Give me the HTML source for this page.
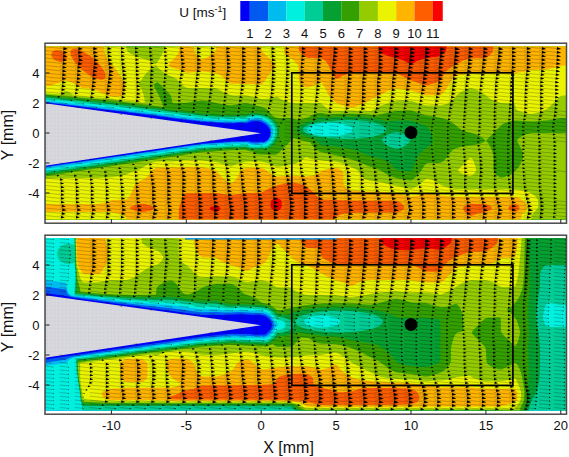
<!DOCTYPE html>
<html><head><meta charset="utf-8"><style>
html,body{margin:0;padding:0;background:#fff;}
svg{display:block;}
.t{font-family:"Liberation Sans",sans-serif;font-size:13px;fill:#111;}
.u{font-family:"Liberation Sans",sans-serif;font-size:13.5px;fill:#111;}
.ax{font-family:"Liberation Sans",sans-serif;font-size:16px;fill:#111;}
</style></head><body>
<svg width="569" height="457" viewBox="0 0 569 457">
<rect width="569" height="457" fill="#fff"/>
<clipPath id="c1"><rect x="45.5" y="46.5" width="521.0" height="173.0"/></clipPath>
<g clip-path="url(#c1)">
<rect x="45.5" y="46.5" width="521.0" height="173.0" fill="#0000f5"/>
<path fill="#005af0" fill-rule="evenodd" d="M567.8 221.0L44.2 221.0L44.0 220.8L44.0 208.2L44.0 178.2L44.2 166.9L48.8 166.3L49.2 166.0L52.2 165.8L52.8 165.4L55.8 165.3L56.2 164.9L59.2 164.8L59.8 164.4L62.8 164.3L63.2 163.9L66.2 163.8L66.8 163.4L69.2 163.3L69.8 162.9L72.8 162.8L73.2 162.4L76.2 162.3L76.8 161.9L79.8 161.8L80.2 161.4L83.2 161.3L83.8 160.9L86.2 160.8L86.8 160.4L93.2 159.8L93.8 159.4L96.8 159.3L97.2 158.9L100.2 158.8L100.8 158.4L103.8 158.3L104.2 157.9L106.8 157.8L107.2 157.4L113.8 156.8L114.2 156.4L117.2 156.3L117.8 155.9L120.8 155.8L121.2 155.4L123.8 155.3L124.2 154.9L130.8 154.3L131.2 153.9L134.2 153.8L134.8 153.4L137.8 153.3L138.2 152.9L141.2 152.8L141.8 152.4L144.2 152.3L144.8 151.9L147.8 151.8L148.2 151.4L151.2 151.3L151.8 150.9L158.2 150.3L158.8 149.9L161.2 149.8L161.8 149.4L164.8 149.3L165.2 148.9L167.8 148.8L168.2 148.4L174.8 147.8L175.2 147.4L177.8 147.3L178.2 146.9L181.2 146.8L181.8 146.4L187.8 145.8L188.2 145.4L191.2 145.3L191.8 144.9L197.8 144.3L198.2 143.9L201.2 143.8L201.8 143.4L208.2 143.3L208.8 142.9L215.8 142.8L216.2 142.4L223.2 142.3L223.8 141.8L230.8 141.8L231.2 141.3L249.8 141.3L250.8 141.4L251.2 141.8L260.8 141.8L261.2 142.3L261.8 141.8L262.2 141.8L262.8 142.3L263.8 142.3L266.2 140.8L266.8 140.8L268.3 139.2L268.3 138.8L269.3 137.8L269.3 137.2L269.8 136.8L269.8 135.8L270.3 135.2L270.3 132.8L270.3 131.2L269.8 130.8L269.8 129.8L269.3 129.2L268.8 127.8L265.3 124.2L261.8 122.2L258.2 121.2L252.8 121.2L249.2 122.2L247.8 123.1L245.8 123.2L244.8 123.2L244.2 122.7L238.8 122.7L235.8 122.7L235.2 123.2L224.2 123.2L223.8 122.7L213.8 122.7L213.2 122.2L206.8 122.2L206.2 121.7L200.2 121.7L199.8 121.2L196.2 121.2L195.8 120.7L191.8 120.7L191.2 120.2L187.2 120.2L186.8 119.7L183.2 119.7L182.8 119.2L178.8 119.2L178.2 118.7L175.2 118.7L174.8 118.2L171.8 118.2L171.2 117.7L168.2 117.7L167.8 117.2L164.2 117.2L163.8 116.7L160.8 116.7L160.2 116.2L157.2 116.2L156.8 115.7L153.2 115.7L152.8 115.2L148.8 115.2L148.2 114.7L144.8 114.7L144.2 114.2L140.8 114.2L140.2 113.7L136.2 113.6L135.8 113.2L132.2 113.1L131.8 112.7L128.2 112.7L127.8 112.2L123.8 112.1L123.2 111.7L119.8 111.6L119.2 111.2L115.8 111.1L115.2 110.7L111.2 110.6L110.8 110.2L107.2 110.1L106.8 109.7L103.2 109.6L102.8 109.2L98.8 109.1L98.2 108.7L94.8 108.6L94.2 108.2L90.8 108.1L90.2 107.7L86.8 107.6L86.2 107.2L82.2 107.1L81.8 106.7L78.2 106.6L77.8 106.2L74.2 106.1L73.8 105.7L69.8 105.6L69.2 105.2L65.8 105.1L65.2 104.7L61.8 104.6L61.2 104.2L57.8 104.1L57.2 103.7L53.2 103.6L52.8 103.2L49.2 103.1L48.8 102.7L45.2 102.6L44.2 102.2L44.0 92.2L44.0 45.2L44.2 45.0L567.8 45.0L568.0 45.2L568.0 220.8L567.8 221.0Z"/>
<path fill="#00bcee" fill-rule="evenodd" d="M567.8 221.0L44.2 221.0L44.0 220.8L44.0 208.2L44.2 167.5L201.2 144.2L231.2 142.2L247.8 142.1L251.2 143.2L254.8 143.6L258.2 143.4L262.2 142.6L262.8 143.1L264.8 142.5L266.3 141.8L267.8 140.6L269.2 138.9L270.8 135.6L271.1 131.2L270.8 129.2L270.1 127.2L268.8 125.2L267.5 123.8L265.6 122.2L263.2 121.0L260.8 120.1L258.2 119.6L254.8 119.4L251.8 119.7L248.8 120.6L245.2 122.2L238.8 122.0L231.2 122.5L216.2 121.9L201.2 120.8L178.8 118.2L156.2 115.1L44.2 101.7L44.0 91.8L44.0 45.2L44.2 45.0L567.8 45.0L568.0 45.2L568.0 220.8L567.8 221.0Z"/>
<path fill="#00f0e0" fill-rule="evenodd" d="M567.8 220.9L44.2 221.0L44.0 220.8L44.0 208.2L44.2 169.4L201.2 145.9L231.2 143.8L245.8 143.6L247.2 143.6L250.2 144.6L253.8 145.2L258.2 145.1L262.2 144.2L262.6 144.8L263.2 144.8L265.2 144.3L267.2 143.3L269.2 141.8L270.5 140.2L272.3 136.8L273.2 131.2L272.8 128.8L272.1 126.8L270.9 124.8L269.1 122.8L267.2 121.2L264.6 119.8L261.8 118.7L258.8 118.0L255.2 117.8L251.8 118.1L248.8 118.8L244.8 120.4L238.8 120.2L231.2 120.6L216.2 120.1L201.2 119.0L111.8 107.9L44.2 100.3L44.0 45.2L44.2 45.0L567.8 45.0L568.0 45.2L567.8 220.9Z"/>
<path fill="#00cc96" fill-rule="evenodd" d="M567.8 220.9L44.2 220.9L44.1 208.2L44.2 171.2L201.2 147.5L231.2 145.4L246.2 145.1L249.8 146.2L253.2 146.7L258.2 146.7L262.8 145.8L263.2 146.7L265.8 146.0L267.8 145.1L269.8 143.7L271.8 141.7L273.0 139.8L273.9 137.8L275.0 133.8L275.2 131.2L274.9 128.8L274.0 126.2L272.5 123.8L270.7 121.8L268.2 119.8L265.8 118.4L262.8 117.2L259.2 116.4L255.8 116.2L251.8 116.4L248.2 117.2L244.8 118.5L238.8 118.3L231.2 118.8L216.2 118.2L201.2 117.2L111.8 106.1L44.2 98.8L44.1 45.2L44.2 45.1L567.8 45.1L567.9 45.2L567.8 220.9ZM332.9 136.2L341.2 135.4L347.9 133.8L350.2 132.7L352.2 131.2L352.8 130.2L352.8 128.8L351.8 127.3L350.2 126.2L345.2 124.4L338.8 123.2L330.2 122.7L321.8 123.1L314.8 124.4L309.8 126.2L308.2 127.3L307.2 128.8L307.2 130.2L308.3 131.8L310.8 133.2L313.8 134.3L317.8 135.3L322.8 136.0L332.9 136.2Z"/>
<path fill="#06a032" fill-rule="evenodd" d="M567.8 220.8L44.2 220.9L44.2 173.1L201.2 149.1L231.2 147.0L245.8 146.7L249.2 147.8L252.8 148.3L257.8 148.4L262.8 147.5L263.8 148.5L266.8 147.6L269.2 146.3L271.3 144.8L273.2 142.8L274.8 140.2L276.4 136.2L277.1 133.8L277.3 131.2L276.9 128.2L276.0 125.8L274.6 123.2L272.2 120.6L269.8 118.7L266.8 117.0L263.2 115.6L259.8 114.9L256.2 114.5L252.2 114.7L248.2 115.5L244.8 116.7L238.8 116.5L231.2 117.0L216.2 116.4L201.2 115.3L111.8 104.3L44.2 97.4L44.1 45.2L567.8 45.1L567.8 220.8ZM356.7 138.8L368.8 137.5L373.8 136.5L378.2 135.2L382.0 133.8L384.4 132.2L385.7 130.8L386.0 129.8L385.9 128.8L385.3 127.8L384.4 126.8L382.0 125.2L378.2 123.8L373.2 122.4L367.8 121.4L361.2 120.6L347.2 120.0L337.8 120.4L326.8 121.4L322.2 121.4L314.2 123.0L309.6 124.2L306.2 125.8L304.1 127.2L303.3 128.2L303.0 129.2L303.1 130.2L303.7 131.2L306.2 133.2L310.8 135.1L316.2 136.4L324.2 137.5L339.2 138.7L347.8 139.0L356.7 138.8ZM397.7 148.8L400.8 147.8L403.8 146.6L406.2 145.1L408.6 143.2L409.7 141.8L410.1 140.2L409.8 139.2L408.6 137.8L406.0 135.8L402.8 134.0L398.8 132.5L395.8 132.1L392.5 132.8L388.2 134.5L384.8 136.6L382.6 138.8L382.0 140.2L382.3 141.2L383.6 142.8L385.8 144.3L389.2 146.4L393.2 148.2L395.8 148.9L397.7 148.8Z"/>
<path fill="#34a000" fill-rule="evenodd" d="M567.8 220.8L44.2 220.8L44.2 174.9L201.2 150.7L231.2 148.6L245.2 148.3L249.8 149.5L254.2 150.1L258.8 149.9L263.2 149.1L263.8 150.3L264.2 150.2L267.2 149.4L270.2 147.8L272.8 145.9L274.7 143.8L276.3 141.2L278.4 136.8L279.1 134.2L279.4 131.2L279.0 128.2L278.0 125.2L276.2 122.2L274.0 119.8L271.2 117.5L267.8 115.6L264.2 114.2L260.2 113.3L253.8 113.0L248.8 113.6L244.8 114.9L238.8 114.6L231.2 115.1L216.2 114.6L201.2 113.5L111.8 102.4L44.2 95.9L44.1 45.2L567.8 45.1L567.8 220.8ZM409.9 171.8L411.2 171.2L412.6 169.8L416.0 160.2L417.4 157.2L419.1 154.8L423.3 150.2L430.5 144.8L432.1 142.8L432.9 140.8L432.9 138.8L432.1 135.8L430.6 132.2L428.8 128.9L427.4 127.2L426.1 126.2L421.9 124.2L413.2 121.3L409.8 120.6L396.8 120.5L386.8 121.3L380.8 119.8L374.8 118.7L360.2 117.2L343.8 116.9L327.8 117.9L321.8 117.2L319.2 117.8L315.8 119.7L309.2 121.3L303.8 123.3L299.6 125.8L298.5 126.8L297.6 128.2L297.3 129.8L297.8 131.2L299.0 132.8L300.3 133.8L302.9 135.2L306.5 136.8L315.8 139.3L318.3 142.8L319.8 144.0L321.2 144.9L323.2 145.4L334.2 146.5L342.8 147.6L349.2 148.8L354.8 150.2L359.8 152.0L366.9 155.2L381.2 159.0L385.9 160.8L388.7 162.2L390.8 163.7L395.2 168.5L397.2 169.8L405.0 171.2L409.9 171.8Z"/>
<path fill="#94cc00" fill-rule="evenodd" d="M566.8 220.8L44.2 220.8L44.2 176.7L201.2 152.3L231.2 150.2L244.8 149.9L250.8 151.5L253.7 151.8L254.0 152.8L254.4 153.2L255.6 153.8L257.8 154.2L262.8 154.6L275.2 154.7L276.8 154.2L278.9 152.8L293.8 137.9L302.2 140.4L310.3 142.2L312.1 145.2L314.2 147.8L317.2 150.1L320.2 151.7L339.2 156.0L351.8 159.5L358.8 162.0L366.8 165.6L379.8 170.1L387.2 174.4L393.2 177.0L397.2 178.2L410.2 180.6L411.8 180.2L413.2 179.3L417.7 175.2L420.8 171.5L424.2 165.7L426.2 163.7L428.2 163.1L438.2 163.0L440.8 162.6L442.8 161.5L444.8 159.7L447.2 157.0L450.9 151.8L452.8 150.0L454.8 148.7L456.8 147.9L460.2 147.1L474.8 145.0L479.2 144.0L483.4 142.2L485.2 140.8L485.2 140.2L482.5 137.8L478.8 135.7L474.8 134.1L466.2 131.6L461.8 129.7L458.2 127.5L452.6 122.8L447.2 120.0L443.2 118.6L438.8 117.5L425.2 115.2L413.2 111.3L410.2 110.6L396.2 110.7L376.8 115.3L364.8 114.2L353.2 113.7L341.2 113.8L329.2 114.4L322.2 113.0L319.8 112.9L316.8 113.3L313.6 114.2L311.5 115.2L309.2 116.9L297.8 119.9L290.8 118.1L278.2 118.0L275.8 117.6L272.7 115.8L271.2 114.2L267.9 110.2L265.0 108.2L260.8 106.7L247.2 103.3L243.8 103.3L232.2 105.2L229.8 105.3L221.8 104.2L209.2 101.6L201.2 100.6L195.4 101.2L185.8 102.9L173.2 102.9L172.8 102.7L172.1 101.8L171.2 96.8L169.9 94.2L159.8 83.9L158.2 82.7L157.2 82.3L156.2 82.4L155.2 83.3L153.8 85.8L153.8 86.2L157.0 91.8L159.7 97.2L161.7 102.2L163.1 106.8L111.2 100.5L44.2 94.5L44.2 45.2L567.8 45.2L567.8 118.0L561.2 118.1L548.8 120.2L533.8 121.6L529.2 121.6L515.8 120.6L512.2 121.0L507.8 121.9L504.1 123.2L501.2 125.2L486.7 139.8L486.3 140.8L488.8 144.0L490.2 146.6L491.8 150.1L492.9 153.8L493.4 157.2L493.4 168.8L494.0 171.2L495.5 173.8L497.8 176.0L500.2 177.4L502.2 177.5L505.2 176.8L508.8 175.3L511.7 173.8L513.9 172.2L517.8 168.2L519.5 165.8L521.0 162.8L522.6 158.2L523.0 155.2L522.6 152.8L521.2 148.8L517.1 141.2L517.3 139.8L519.3 137.8L521.8 136.2L524.8 134.9L528.2 133.7L531.2 133.1L567.8 133.0L567.8 214.2L567.2 214.2L567.2 220.8L566.8 220.8Z"/>
<path fill="#eaf400" fill-rule="evenodd" d="M533.2 113.8L530.8 114.0L528.8 113.8L523.2 112.6L519.2 111.2L517.3 110.2L516.3 109.2L515.8 108.2L514.8 104.2L513.8 103.2L501.2 102.9L496.2 101.6L492.8 100.2L489.8 98.6L483.2 93.3L480.2 91.4L475.2 89.3L471.2 88.3L469.2 88.5L466.8 89.2L460.8 91.9L457.8 94.0L453.5 99.2L450.8 101.6L446.8 103.8L441.8 105.2L438.2 105.5L426.8 105.4L424.2 104.9L411.2 100.7L408.2 100.5L397.8 100.5L394.2 101.1L382.0 105.2L379.2 106.6L374.1 109.8L370.2 111.3L351.8 110.5L331.8 110.9L327.9 109.2L322.2 104.3L319.8 103.1L291.2 102.9L288.2 102.2L284.2 100.8L281.2 99.2L277.2 96.8L276.2 96.5L269.2 98.4L264.2 99.0L261.2 99.1L246.2 95.4L233.2 95.4L230.8 95.1L226.2 93.4L217.2 88.8L215.2 88.1L189.2 88.0L186.8 87.7L185.2 87.0L183.8 85.9L177.2 79.6L174.3 77.8L167.8 74.7L163.8 72.4L160.3 69.8L155.8 65.5L155.2 65.4L154.8 65.8L149.8 69.7L147.2 72.0L144.5 75.2L140.8 80.7L138.7 82.8L138.5 83.2L141.5 89.2L143.5 94.8L144.7 100.2L144.8 102.2L144.2 102.4L142.2 102.4L111.2 98.7L74.0 95.8L69.8 92.5L68.2 91.6L66.8 91.2L64.8 91.5L60.7 94.2L59.8 94.4L44.2 93.1L44.2 45.2L126.4 45.2L126.5 48.8L126.9 50.2L128.0 51.8L130.2 53.6L135.8 56.3L144.8 59.0L148.8 60.5L152.2 62.2L155.2 64.5L156.2 63.9L157.2 62.5L163.8 51.2L164.5 49.2L164.7 45.2L567.8 45.2L567.8 95.5L562.8 95.6L560.8 96.1L558.8 97.6L548.8 107.5L546.2 109.5L541.2 111.8L533.2 113.8ZM530.8 220.8L44.2 220.8L44.2 178.7L67.2 178.0L97.2 177.9L110.8 177.2L118.1 176.2L125.8 174.7L131.8 172.0L140.2 169.2L145.8 165.4L149.0 163.8L153.2 162.3L156.8 161.6L171.8 161.4L187.2 160.3L202.8 160.4L216.8 161.9L230.8 166.4L232.2 166.1L239.2 163.2L245.2 161.7L248.2 161.5L260.2 161.5L263.2 161.9L267.2 162.9L271.0 164.2L275.8 166.4L278.2 166.8L287.8 165.6L295.2 163.7L300.2 161.4L304.8 157.8L306.2 157.2L307.2 157.4L310.8 159.0L314.2 159.8L324.2 160.8L335.2 161.5L339.8 162.6L349.2 166.0L356.0 169.2L358.5 171.2L361.1 175.2L362.8 177.2L364.8 178.9L366.8 179.9L371.2 180.9L380.8 182.1L387.2 183.8L397.2 185.8L409.2 188.8L410.8 188.9L412.2 188.6L416.2 186.8L420.2 184.1L425.2 179.4L427.2 178.6L429.8 179.1L433.8 180.6L440.8 184.8L444.2 186.2L449.1 187.8L455.2 189.1L459.2 189.2L514.8 189.3L519.8 189.8L525.8 191.1L530.8 193.0L534.2 195.2L537.0 198.2L537.8 199.8L538.2 201.2L538.3 205.8L537.8 207.8L536.9 209.2L533.2 213.2L531.8 215.2L531.2 217.2L531.1 220.8L530.8 220.8ZM471.8 175.3L470.2 175.7L468.8 175.5L463.2 173.9L458.9 171.8L458.2 171.1L458.0 170.2L458.9 168.8L464.2 164.1L469.2 158.5L470.8 157.7L471.9 158.2L473.2 160.3L475.1 165.2L476.1 169.2L475.9 170.8L475.2 172.2L473.8 173.9L471.8 175.3Z"/>
<path fill="#ffb400" fill-rule="evenodd" d="M118.2 96.8L113.2 96.7L107.2 95.3L100.8 92.7L93.8 89.1L82.2 87.9L73.8 83.4L66.8 80.4L64.8 80.5L60.2 81.9L51.2 85.8L49.2 86.1L44.2 86.1L44.2 45.2L103.9 45.2L104.2 50.8L106.9 58.8L113.3 65.8L118.6 72.8L122.4 79.2L124.5 84.8L125.1 87.2L125.2 89.8L124.9 91.8L124.3 93.2L123.2 94.6L121.8 95.7L118.2 96.8ZM260.8 84.3L258.8 84.5L247.8 84.0L231.8 83.7L229.8 83.0L227.7 81.8L221.3 75.8L218.9 74.2L216.8 73.3L214.2 72.8L201.8 71.3L189.2 72.7L186.8 72.7L179.8 70.1L171.2 67.6L169.5 66.2L169.0 65.2L169.0 64.2L170.6 61.8L175.5 57.2L178.0 53.8L179.3 50.2L179.5 45.2L193.8 45.2L194.0 50.2L195.4 53.8L197.1 56.2L198.8 57.9L200.2 58.9L201.8 59.3L203.8 58.8L207.8 56.9L211.2 54.7L214.3 52.2L215.5 50.8L216.0 49.8L216.3 45.2L261.2 45.2L261.4 49.2L262.2 51.2L273.9 63.2L274.9 64.8L275.0 65.8L274.4 67.2L269.8 73.2L265.0 80.8L262.8 83.2L260.8 84.3ZM354.8 107.3L347.0 107.2L343.0 105.2L337.2 103.2L335.2 101.9L331.4 98.2L328.7 95.2L322.8 84.1L321.8 82.7L320.8 82.1L319.2 82.3L315.8 84.5L312.8 85.9L307.8 87.5L305.2 87.3L302.2 85.4L300.0 82.8L298.9 80.2L298.7 77.8L298.6 67.8L298.2 65.8L296.8 63.8L292.8 59.7L290.8 58.2L287.2 56.4L285.5 54.8L284.6 53.2L284.0 51.2L283.7 45.2L567.8 45.2L567.8 65.5L560.8 65.7L552.2 68.3L546.2 69.6L531.2 69.9L522.2 71.9L516.2 72.9L472.2 73.0L457.8 75.3L455.2 76.3L452.5 78.8L451.0 80.8L447.8 86.7L445.1 90.8L442.4 93.8L440.2 95.0L437.2 95.3L426.2 95.3L410.8 90.6L397.2 88.4L394.8 88.4L391.2 89.4L387.8 90.9L380.3 95.2L372.2 99.1L366.2 102.6L359.8 105.0L354.8 107.3ZM520.8 220.8L126.4 220.8L126.3 218.2L126.0 217.2L124.4 215.8L119.0 213.8L111.2 211.9L44.2 211.7L44.2 204.3L96.2 204.2L104.8 202.8L112.8 200.1L123.8 199.7L126.2 199.3L128.1 198.2L129.8 196.1L131.7 192.2L133.7 186.8L135.4 184.2L139.2 181.4L146.0 177.8L148.2 175.6L151.9 170.2L154.8 168.4L157.2 167.6L198.2 167.1L201.8 167.3L205.2 167.9L211.8 169.5L215.8 171.1L217.3 172.2L221.7 176.8L225.2 179.8L229.0 182.2L231.2 182.9L233.2 182.1L235.8 179.6L237.3 177.2L239.6 172.2L240.6 170.8L243.5 168.8L246.8 167.7L258.8 167.5L261.8 167.9L265.7 169.8L271.6 174.8L273.8 175.8L275.8 176.4L277.8 176.4L291.2 175.4L306.2 176.5L310.8 176.0L315.2 174.8L317.8 173.6L322.0 170.8L324.8 169.7L330.2 168.4L335.2 167.8L337.2 168.1L339.2 168.8L341.9 170.2L342.9 171.2L343.5 173.2L343.6 182.8L344.1 185.2L345.2 186.8L347.2 188.4L349.8 189.8L352.2 190.5L365.8 191.6L381.2 191.7L394.2 192.9L397.2 193.3L408.8 196.2L411.2 196.5L417.3 195.8L425.2 193.6L426.8 193.4L440.2 195.4L455.2 196.7L512.8 196.8L516.8 197.2L520.8 198.9L523.8 201.0L525.6 203.2L526.8 206.2L526.8 208.2L526.2 209.8L522.1 214.8L521.2 216.2L520.8 220.8Z"/>
<path fill="#ff5e00" fill-rule="evenodd" d="M428.8 84.8L426.8 85.2L425.2 85.1L419.3 83.2L409.8 79.7L397.2 73.7L394.2 73.0L351.8 73.1L349.2 73.5L345.8 74.6L342.0 76.2L337.8 78.8L336.2 78.8L335.2 78.0L334.2 76.6L327.8 64.0L326.2 61.9L324.8 60.4L322.3 58.8L320.2 58.1L308.2 57.9L305.8 57.2L301.9 53.8L299.4 50.8L298.7 48.8L298.7 45.2L493.4 45.2L493.3 49.2L492.6 51.8L490.4 54.8L487.8 56.9L486.2 57.6L484.2 57.9L470.8 58.2L467.2 59.0L462.8 60.8L450.2 68.0L447.2 70.2L444.5 73.2L440.9 79.2L439.2 81.0L435.2 82.9L428.8 84.8ZM102.2 79.8L100.2 79.7L97.8 79.2L91.8 76.7L85.8 72.8L79.8 67.8L74.8 62.2L71.7 57.2L70.8 55.2L70.4 53.2L70.6 51.2L71.2 50.1L73.2 48.8L74.2 48.8L76.8 48.9L77.0 49.2L78.2 49.3L78.9 49.8L79.8 49.9L84.8 52.4L88.2 54.6L92.2 57.5L95.9 60.8L98.8 63.8L101.7 67.2L103.7 70.2L105.1 73.2L105.6 75.8L105.3 77.8L104.2 79.1L102.2 79.8ZM61.8 61.8L59.2 61.7L56.8 61.0L54.4 59.8L52.8 58.2L51.8 56.8L51.3 54.8L51.5 53.2L52.5 51.8L54.2 50.5L56.2 50.0L57.8 50.0L60.2 50.5L61.8 51.1L63.8 52.4L65.2 53.8L66.6 56.2L66.7 57.8L66.5 58.8L66.0 59.8L64.8 60.8L63.2 61.5L61.8 61.8ZM331.2 220.8L178.8 220.8L178.9 209.8L179.3 207.2L182.4 197.8L183.6 195.8L184.8 194.5L185.8 193.8L187.2 193.2L215.2 193.0L226.2 194.6L231.2 195.0L236.2 194.6L246.8 193.1L259.8 192.9L262.2 192.2L269.7 188.2L275.2 186.0L284.8 183.4L291.2 182.3L294.2 182.7L299.2 183.8L302.8 184.8L306.1 186.2L308.8 188.2L318.8 198.0L320.2 199.1L321.8 199.6L351.2 200.5L395.2 200.7L398.2 201.5L401.2 203.0L403.5 205.2L404.4 207.2L404.1 208.8L402.2 210.5L399.5 211.8L396.2 212.5L352.2 212.7L344.8 213.6L340.2 214.7L337.6 215.8L335.3 217.2L331.2 220.8ZM471.2 215.9L469.8 215.5L466.8 213.5L464.8 211.7L463.3 209.8L463.0 208.2L463.4 207.2L464.3 206.2L465.9 205.2L468.5 204.2L471.2 203.8L484.2 204.2L486.8 204.5L488.9 205.2L490.8 206.2L491.7 207.2L491.9 208.2L491.4 209.2L488.9 210.8L486.2 211.6L477.0 213.8L471.2 215.9ZM145.2 211.8L141.2 212.1L137.8 211.4L131.2 209.2L130.0 208.2L130.0 207.8L131.2 206.8L133.7 205.8L138.9 204.2L141.8 203.8L145.6 204.2L150.2 205.3L153.2 206.6L154.3 207.8L154.0 208.8L152.2 209.9L149.2 211.0L145.2 211.8ZM515.8 211.8L513.2 211.7L509.8 210.1L508.8 209.2L508.3 208.2L508.8 206.8L510.8 205.2L513.8 204.2L515.8 204.1L517.8 205.1L519.3 206.8L519.5 208.2L519.1 209.2L518.2 210.3L517.0 211.2L515.8 211.8Z"/>
<path fill="#fa0000" fill-rule="evenodd" d="M412.2 64.0L411.2 64.2L410.2 64.1L405.1 61.2L401.7 59.8L397.8 58.5L388.2 56.0L382.2 53.6L380.2 52.1L379.0 50.2L378.6 48.8L378.6 45.2L446.6 45.2L446.5 48.8L445.9 50.8L444.0 53.2L441.2 55.5L438.2 56.5L426.8 58.0L423.3 58.8L417.8 60.8L412.2 64.0ZM277.8 210.9L275.8 211.2L273.4 210.2L271.3 208.2L270.6 206.2L270.6 202.8L271.3 200.8L273.5 198.8L275.8 197.7L277.8 197.9L279.8 199.0L281.0 200.2L281.7 202.2L281.8 205.8L281.3 207.8L279.8 209.7L277.8 210.9ZM216.8 211.9L214.8 211.8L211.4 210.2L209.7 208.8L209.8 207.8L211.2 206.7L214.8 205.6L216.8 205.6L218.8 206.3L220.4 207.8L220.3 209.2L218.8 210.9L216.8 211.9Z"/>
<path fill="#d8d7de" d="M36 102.0L261.0 133.2L36 167.2Z"/>
<path stroke="#78b478" stroke-opacity="0.5" stroke-width="0.7" fill="none" d="M47.0 106.8h0.7M50.8 106.8h0.7M54.5 106.8h0.7M58.2 106.8h0.7M62.0 106.8h0.7M65.8 106.8h0.7M69.5 106.8h0.7M47.0 110.5h0.7M50.8 110.5h0.7M54.5 110.5h0.7M58.2 110.5h0.7M62.0 110.5h0.7M65.8 110.5h0.7M69.5 110.5h0.7M73.2 110.5h0.7M77.0 110.5h0.7M80.8 110.5h0.7M84.5 110.5h0.7M88.2 110.5h0.7M92.0 110.5h0.7M95.8 110.5h0.7M47.0 114.2h0.7M50.8 114.2h0.7M54.5 114.2h0.7M58.2 114.2h0.7M62.0 114.2h0.7M65.8 114.2h0.7M69.5 114.2h0.7M73.2 114.2h0.7M77.0 114.2h0.7M80.8 114.2h0.7M84.5 114.2h0.7M88.2 114.2h0.7M92.0 114.2h0.7M95.8 114.2h0.7M99.5 114.2h0.7M103.2 114.2h0.7M107.0 114.2h0.7M110.8 114.2h0.7M114.5 114.2h0.7M118.2 114.2h0.7M122.0 114.2h0.7M47.0 118.0h0.7M50.8 118.0h0.7M54.5 118.0h0.7M58.2 118.0h0.7M62.0 118.0h0.7M65.8 118.0h0.7M69.5 118.0h0.7M73.2 118.0h0.7M77.0 118.0h0.7M80.8 118.0h0.7M84.5 118.0h0.7M88.2 118.0h0.7M92.0 118.0h0.7M95.8 118.0h0.7M99.5 118.0h0.7M103.2 118.0h0.7M107.0 118.0h0.7M110.8 118.0h0.7M114.5 118.0h0.7M118.2 118.0h0.7M122.0 118.0h0.7M125.8 118.0h0.7M129.5 118.0h0.7M133.2 118.0h0.7M137.0 118.0h0.7M140.8 118.0h0.7M144.5 118.0h0.7M148.2 118.0h0.7M152.0 118.0h0.7M47.0 121.8h0.7M50.8 121.8h0.7M54.5 121.8h0.7M58.2 121.8h0.7M62.0 121.8h0.7M65.8 121.8h0.7M69.5 121.8h0.7M73.2 121.8h0.7M77.0 121.8h0.7M80.8 121.8h0.7M84.5 121.8h0.7M88.2 121.8h0.7M92.0 121.8h0.7M95.8 121.8h0.7M99.5 121.8h0.7M103.2 121.8h0.7M107.0 121.8h0.7M110.8 121.8h0.7M114.5 121.8h0.7M118.2 121.8h0.7M122.0 121.8h0.7M125.8 121.8h0.7M129.5 121.8h0.7M133.2 121.8h0.7M137.0 121.8h0.7M140.8 121.8h0.7M144.5 121.8h0.7M148.2 121.8h0.7M152.0 121.8h0.7M155.8 121.8h0.7M159.5 121.8h0.7M163.2 121.8h0.7M167.0 121.8h0.7M170.8 121.8h0.7M174.5 121.8h0.7M178.2 121.8h0.7M47.0 125.5h0.7M50.8 125.5h0.7M54.5 125.5h0.7M58.2 125.5h0.7M62.0 125.5h0.7M65.8 125.5h0.7M69.5 125.5h0.7M73.2 125.5h0.7M77.0 125.5h0.7M80.8 125.5h0.7M84.5 125.5h0.7M88.2 125.5h0.7M92.0 125.5h0.7M95.8 125.5h0.7M99.5 125.5h0.7M103.2 125.5h0.7M107.0 125.5h0.7M110.8 125.5h0.7M114.5 125.5h0.7M118.2 125.5h0.7M122.0 125.5h0.7M125.8 125.5h0.7M129.5 125.5h0.7M133.2 125.5h0.7M137.0 125.5h0.7M140.8 125.5h0.7M144.5 125.5h0.7M148.2 125.5h0.7M152.0 125.5h0.7M155.8 125.5h0.7M159.5 125.5h0.7M163.2 125.5h0.7M167.0 125.5h0.7M170.8 125.5h0.7M174.5 125.5h0.7M178.2 125.5h0.7M182.0 125.5h0.7M185.8 125.5h0.7M189.5 125.5h0.7M193.2 125.5h0.7M197.0 125.5h0.7M200.8 125.5h0.7M204.5 125.5h0.7M47.0 129.2h0.7M50.8 129.2h0.7M54.5 129.2h0.7M58.2 129.2h0.7M62.0 129.2h0.7M65.8 129.2h0.7M69.5 129.2h0.7M73.2 129.2h0.7M77.0 129.2h0.7M80.8 129.2h0.7M84.5 129.2h0.7M88.2 129.2h0.7M92.0 129.2h0.7M95.8 129.2h0.7M99.5 129.2h0.7M103.2 129.2h0.7M107.0 129.2h0.7M110.8 129.2h0.7M114.5 129.2h0.7M118.2 129.2h0.7M122.0 129.2h0.7M125.8 129.2h0.7M129.5 129.2h0.7M133.2 129.2h0.7M137.0 129.2h0.7M140.8 129.2h0.7M144.5 129.2h0.7M148.2 129.2h0.7M152.0 129.2h0.7M155.8 129.2h0.7M159.5 129.2h0.7M163.2 129.2h0.7M167.0 129.2h0.7M170.8 129.2h0.7M174.5 129.2h0.7M178.2 129.2h0.7M182.0 129.2h0.7M185.8 129.2h0.7M189.5 129.2h0.7M193.2 129.2h0.7M197.0 129.2h0.7M200.8 129.2h0.7M204.5 129.2h0.7M208.2 129.2h0.7M212.0 129.2h0.7M215.8 129.2h0.7M219.5 129.2h0.7M223.2 129.2h0.7M227.0 129.2h0.7M230.8 129.2h0.7M47.0 133.0h0.7M50.8 133.0h0.7M54.5 133.0h0.7M58.2 133.0h0.7M62.0 133.0h0.7M65.8 133.0h0.7M69.5 133.0h0.7M73.2 133.0h0.7M77.0 133.0h0.7M80.8 133.0h0.7M84.5 133.0h0.7M88.2 133.0h0.7M92.0 133.0h0.7M95.8 133.0h0.7M99.5 133.0h0.7M103.2 133.0h0.7M107.0 133.0h0.7M110.8 133.0h0.7M114.5 133.0h0.7M118.2 133.0h0.7M122.0 133.0h0.7M125.8 133.0h0.7M129.5 133.0h0.7M133.2 133.0h0.7M137.0 133.0h0.7M140.8 133.0h0.7M144.5 133.0h0.7M148.2 133.0h0.7M152.0 133.0h0.7M155.8 133.0h0.7M159.5 133.0h0.7M163.2 133.0h0.7M167.0 133.0h0.7M170.8 133.0h0.7M174.5 133.0h0.7M178.2 133.0h0.7M182.0 133.0h0.7M185.8 133.0h0.7M189.5 133.0h0.7M193.2 133.0h0.7M197.0 133.0h0.7M200.8 133.0h0.7M204.5 133.0h0.7M208.2 133.0h0.7M212.0 133.0h0.7M215.8 133.0h0.7M219.5 133.0h0.7M223.2 133.0h0.7M227.0 133.0h0.7M230.8 133.0h0.7M234.5 133.0h0.7M238.2 133.0h0.7M242.0 133.0h0.7M245.8 133.0h0.7M249.5 133.0h0.7M253.2 133.0h0.7M257.0 133.0h0.7M47.0 136.8h0.7M50.8 136.8h0.7M54.5 136.8h0.7M58.2 136.8h0.7M62.0 136.8h0.7M65.8 136.8h0.7M69.5 136.8h0.7M73.2 136.8h0.7M77.0 136.8h0.7M80.8 136.8h0.7M84.5 136.8h0.7M88.2 136.8h0.7M92.0 136.8h0.7M95.8 136.8h0.7M99.5 136.8h0.7M103.2 136.8h0.7M107.0 136.8h0.7M110.8 136.8h0.7M114.5 136.8h0.7M118.2 136.8h0.7M122.0 136.8h0.7M125.8 136.8h0.7M129.5 136.8h0.7M133.2 136.8h0.7M137.0 136.8h0.7M140.8 136.8h0.7M144.5 136.8h0.7M148.2 136.8h0.7M152.0 136.8h0.7M155.8 136.8h0.7M159.5 136.8h0.7M163.2 136.8h0.7M167.0 136.8h0.7M170.8 136.8h0.7M174.5 136.8h0.7M178.2 136.8h0.7M182.0 136.8h0.7M185.8 136.8h0.7M189.5 136.8h0.7M193.2 136.8h0.7M197.0 136.8h0.7M200.8 136.8h0.7M204.5 136.8h0.7M208.2 136.8h0.7M212.0 136.8h0.7M215.8 136.8h0.7M219.5 136.8h0.7M223.2 136.8h0.7M227.0 136.8h0.7M230.8 136.8h0.7M234.5 136.8h0.7M47.0 140.5h0.7M50.8 140.5h0.7M54.5 140.5h0.7M58.2 140.5h0.7M62.0 140.5h0.7M65.8 140.5h0.7M69.5 140.5h0.7M73.2 140.5h0.7M77.0 140.5h0.7M80.8 140.5h0.7M84.5 140.5h0.7M88.2 140.5h0.7M92.0 140.5h0.7M95.8 140.5h0.7M99.5 140.5h0.7M103.2 140.5h0.7M107.0 140.5h0.7M110.8 140.5h0.7M114.5 140.5h0.7M118.2 140.5h0.7M122.0 140.5h0.7M125.8 140.5h0.7M129.5 140.5h0.7M133.2 140.5h0.7M137.0 140.5h0.7M140.8 140.5h0.7M144.5 140.5h0.7M148.2 140.5h0.7M152.0 140.5h0.7M155.8 140.5h0.7M159.5 140.5h0.7M163.2 140.5h0.7M167.0 140.5h0.7M170.8 140.5h0.7M174.5 140.5h0.7M178.2 140.5h0.7M182.0 140.5h0.7M185.8 140.5h0.7M189.5 140.5h0.7M193.2 140.5h0.7M197.0 140.5h0.7M200.8 140.5h0.7M204.5 140.5h0.7M208.2 140.5h0.7M47.0 144.2h0.7M50.8 144.2h0.7M54.5 144.2h0.7M58.2 144.2h0.7M62.0 144.2h0.7M65.8 144.2h0.7M69.5 144.2h0.7M73.2 144.2h0.7M77.0 144.2h0.7M80.8 144.2h0.7M84.5 144.2h0.7M88.2 144.2h0.7M92.0 144.2h0.7M95.8 144.2h0.7M99.5 144.2h0.7M103.2 144.2h0.7M107.0 144.2h0.7M110.8 144.2h0.7M114.5 144.2h0.7M118.2 144.2h0.7M122.0 144.2h0.7M125.8 144.2h0.7M129.5 144.2h0.7M133.2 144.2h0.7M137.0 144.2h0.7M140.8 144.2h0.7M144.5 144.2h0.7M148.2 144.2h0.7M152.0 144.2h0.7M155.8 144.2h0.7M159.5 144.2h0.7M163.2 144.2h0.7M167.0 144.2h0.7M170.8 144.2h0.7M174.5 144.2h0.7M178.2 144.2h0.7M182.0 144.2h0.7M185.8 144.2h0.7M47.0 148.0h0.7M50.8 148.0h0.7M54.5 148.0h0.7M58.2 148.0h0.7M62.0 148.0h0.7M65.8 148.0h0.7M69.5 148.0h0.7M73.2 148.0h0.7M77.0 148.0h0.7M80.8 148.0h0.7M84.5 148.0h0.7M88.2 148.0h0.7M92.0 148.0h0.7M95.8 148.0h0.7M99.5 148.0h0.7M103.2 148.0h0.7M107.0 148.0h0.7M110.8 148.0h0.7M114.5 148.0h0.7M118.2 148.0h0.7M122.0 148.0h0.7M125.8 148.0h0.7M129.5 148.0h0.7M133.2 148.0h0.7M137.0 148.0h0.7M140.8 148.0h0.7M144.5 148.0h0.7M148.2 148.0h0.7M152.0 148.0h0.7M155.8 148.0h0.7M159.5 148.0h0.7M47.0 151.8h0.7M50.8 151.8h0.7M54.5 151.8h0.7M58.2 151.8h0.7M62.0 151.8h0.7M65.8 151.8h0.7M69.5 151.8h0.7M73.2 151.8h0.7M77.0 151.8h0.7M80.8 151.8h0.7M84.5 151.8h0.7M88.2 151.8h0.7M92.0 151.8h0.7M95.8 151.8h0.7M99.5 151.8h0.7M103.2 151.8h0.7M107.0 151.8h0.7M110.8 151.8h0.7M114.5 151.8h0.7M118.2 151.8h0.7M122.0 151.8h0.7M125.8 151.8h0.7M129.5 151.8h0.7M133.2 151.8h0.7M137.0 151.8h0.7M47.0 155.5h0.7M50.8 155.5h0.7M54.5 155.5h0.7M58.2 155.5h0.7M62.0 155.5h0.7M65.8 155.5h0.7M69.5 155.5h0.7M73.2 155.5h0.7M77.0 155.5h0.7M80.8 155.5h0.7M84.5 155.5h0.7M88.2 155.5h0.7M92.0 155.5h0.7M95.8 155.5h0.7M99.5 155.5h0.7M103.2 155.5h0.7M107.0 155.5h0.7M110.8 155.5h0.7M47.0 159.2h0.7M50.8 159.2h0.7M54.5 159.2h0.7M58.2 159.2h0.7M62.0 159.2h0.7M65.8 159.2h0.7M69.5 159.2h0.7M73.2 159.2h0.7M77.0 159.2h0.7M80.8 159.2h0.7M84.5 159.2h0.7M88.2 159.2h0.7M47.0 163.0h0.7M50.8 163.0h0.7M54.5 163.0h0.7M58.2 163.0h0.7M62.0 163.0h0.7"/>
<path stroke="#000" stroke-opacity="0.22" stroke-width="1" fill="none" d="M44.7 219.2L60.9 220.9M59.7 219.2L75.9 220.9M74.7 219.2L90.9 220.9M89.7 219.2L105.9 220.9M104.7 219.2L120.8 220.9M119.6 219.2L136.5 220.9M134.6 219.2L152.3 221.0M149.6 219.2L167.4 221.0M164.6 219.2L182.4 221.0M179.6 219.2L198.8 221.2M194.5 219.2L213.9 221.2M209.5 219.2L229.3 221.2M224.5 219.2L243.9 221.2M239.5 219.2L258.9 221.2M254.5 219.2L273.8 221.2M269.4 219.2L289.1 221.2M284.4 219.2L303.8 221.2M299.4 219.2L318.8 221.2M314.4 219.2L333.1 221.1M329.4 219.2L347.9 221.1M344.3 219.2L362.2 221.0M359.3 219.2L377.1 221.0M374.3 219.2L392.1 221.0M389.3 219.2L407.1 221.0M404.3 219.2L422.0 221.0M419.2 219.2L437.0 221.0M434.2 219.2L452.0 221.0M449.2 219.2L467.0 221.0M464.2 219.2L482.7 221.1M479.2 219.2L497.0 221.0M494.1 219.2L511.9 221.0M509.1 219.2L526.9 221.0M524.1 219.2L539.7 220.8M539.1 219.2L553.0 220.6M554.1 219.2L567.8 220.6M44.7 215.5L61.0 217.1M59.7 215.5L76.0 217.1M74.7 215.5L91.0 217.1M89.7 215.5L106.0 217.1M104.7 215.5L120.9 217.1M119.6 215.5L136.6 217.2M134.6 215.5L152.4 217.3M149.6 215.5L167.4 217.3M164.6 215.5L182.4 217.3M179.6 215.5L198.8 217.4M194.5 215.5L213.9 217.4M209.5 215.5L229.4 217.5M224.5 215.5L243.9 217.4M239.5 215.5L258.9 217.4M254.5 215.5L273.8 217.4M269.4 215.5L289.1 217.5M284.4 215.5L303.8 217.4M299.4 215.5L318.8 217.4M314.4 215.5L333.1 217.4M329.4 215.5L348.0 217.4M344.3 215.5L362.3 217.3M359.3 215.5L377.2 217.3M374.3 215.5L392.2 217.3M389.3 215.5L407.2 217.3M404.3 215.5L422.1 217.3M419.2 215.5L437.0 217.3M434.2 215.5L452.0 217.3M449.2 215.5L467.0 217.3M464.2 215.5L482.7 217.4M479.2 215.5L497.1 217.3M494.1 215.5L511.9 217.3M509.1 215.5L527.0 217.3M524.1 215.5L539.8 217.1M539.1 215.5L553.1 216.9M554.1 215.5L567.8 216.9M44.7 211.8L61.7 213.4M59.7 211.8L76.7 213.4M74.7 211.8L91.7 213.4M89.7 211.8L106.7 213.4M104.7 211.8L121.6 213.4M119.6 211.8L137.3 213.5M134.6 211.8L153.2 213.6M149.6 211.8L167.8 213.6M164.6 211.8L182.4 213.5M179.6 211.8L198.8 213.7M194.5 211.8L214.1 213.7M209.5 211.8L229.7 213.8M224.5 211.8L244.0 213.7M239.5 211.8L258.9 213.7M254.5 211.8L273.8 213.7M269.4 211.8L289.5 213.8M284.4 211.8L303.9 213.7M299.4 211.8L318.8 213.7M314.4 211.8L333.6 213.7M329.4 211.8L348.6 213.7M344.3 211.8L363.2 213.6M359.3 211.8L378.1 213.6M374.3 211.8L393.1 213.6M389.3 211.8L408.1 213.6M404.3 211.8L422.2 213.5M419.2 211.8L437.0 213.5M434.2 211.8L452.0 213.5M449.2 211.8L467.0 213.5M464.2 211.8L483.1 213.6M479.2 211.8L497.8 213.6M494.1 211.8L512.0 213.5M509.1 211.8L527.7 213.6M524.1 211.8L540.2 213.4M539.1 211.8L553.4 213.2M554.1 211.8L567.9 213.1M44.7 208.0L62.3 209.8M59.7 208.0L77.2 209.8M74.7 208.0L92.2 209.8M89.7 208.0L107.2 209.8M104.7 208.0L122.2 209.8M119.6 208.0L137.9 209.8M134.6 208.0L153.9 209.9M149.6 208.0L168.1 209.9M164.6 208.0L182.4 209.8M179.6 208.0L198.8 209.9M194.5 208.0L214.3 210.0M209.5 208.0L229.9 210.0M224.5 208.0L244.0 210.0M239.5 208.0L258.9 209.9M254.5 208.0L273.8 209.9M269.4 208.0L289.8 210.0M284.4 208.0L303.9 210.0M299.4 208.0L318.8 209.9M314.4 208.0L334.0 210.0M329.4 208.0L349.0 210.0M344.3 208.0L363.9 210.0M359.3 208.0L378.9 210.0M374.3 208.0L393.9 210.0M389.3 208.0L408.8 210.0M404.3 208.0L422.3 209.8M419.2 208.0L437.0 209.8M434.2 208.0L452.0 209.8M449.2 208.0L467.0 209.8M464.2 208.0L483.4 209.9M479.2 208.0L498.3 209.9M494.1 208.0L512.1 209.8M509.1 208.0L528.3 209.9M524.1 208.0L540.6 209.6M539.1 208.0L553.8 209.5M554.1 208.0L568.0 209.4M44.7 204.2L61.7 205.9M59.7 204.2L76.7 205.9M74.7 204.2L91.7 205.9M89.7 204.2L106.7 205.9M104.7 204.2L122.0 206.0M119.6 204.2L137.4 206.0M134.6 204.2L153.2 206.1M149.6 204.2L167.8 206.1M164.6 204.2L182.1 206.0M179.6 204.2L198.7 206.2M194.5 204.2L214.1 206.2M209.5 204.2L229.5 206.2M224.5 204.2L244.0 206.2M239.5 204.2L258.9 206.2M254.5 204.2L273.8 206.2M269.4 204.2L289.9 206.3M284.4 204.2L304.0 206.2M299.4 204.2L318.8 206.2M314.4 204.2L333.6 206.2M329.4 204.2L348.6 206.2M344.3 204.2L363.6 206.2M359.3 204.2L378.5 206.2M374.3 204.2L393.5 206.2M389.3 204.2L408.5 206.2M404.3 204.2L422.2 206.0M419.2 204.2L437.0 206.0M434.2 204.2L452.0 206.0M449.2 204.2L467.0 206.0M464.2 204.2L482.8 206.1M479.2 204.2L497.7 206.1M494.1 204.2L512.0 206.0M509.1 204.2L527.7 206.1M524.1 204.2L540.6 205.9M539.1 204.2L553.8 205.7M554.1 204.2L568.3 205.7M44.7 200.5L61.1 202.1M59.7 200.5L76.1 202.1M74.7 200.5L91.0 202.1M89.7 200.5L106.0 202.1M104.7 200.5L121.6 202.2M119.6 200.5L136.7 202.2M134.6 200.5L152.5 202.3M149.6 200.5L167.5 202.3M164.6 200.5L181.8 202.2M179.6 200.5L198.6 202.4M194.5 200.5L213.9 202.4M209.5 200.5L229.0 202.4M224.5 200.5L243.8 202.4M239.5 200.5L258.8 202.4M254.5 200.5L273.8 202.4M269.4 200.5L289.8 202.5M284.4 200.5L304.0 202.5M299.4 200.5L318.7 202.4M314.4 200.5L333.1 202.4M329.4 200.5L348.0 202.4M344.3 200.5L363.0 202.4M359.3 200.5L377.9 202.4M374.3 200.5L392.9 202.4M389.3 200.5L407.9 202.4M404.3 200.5L422.0 202.3M419.2 200.5L437.0 202.3M434.2 200.5L451.9 202.3M449.2 200.5L466.9 202.3M464.2 200.5L482.0 202.3M479.2 200.5L497.0 202.3M494.1 200.5L511.8 202.3M509.1 200.5L526.9 202.3M524.1 200.5L540.4 202.1M539.1 200.5L553.8 202.0M554.1 200.5L568.6 202.0M44.7 196.8L60.9 198.4M59.7 196.8L75.9 198.4M74.7 196.8L90.9 198.4M89.7 196.8L105.9 198.4M104.7 196.8L121.4 198.4M119.6 196.8L136.4 198.4M134.6 196.8L152.3 198.5M149.6 196.8L167.4 198.5M164.6 196.8L181.8 198.5M179.6 196.8L198.3 198.6M194.5 196.8L213.5 198.6M209.5 196.8L228.5 198.6M224.5 196.8L243.3 198.6M239.5 196.8L258.4 198.6M254.5 196.8L273.4 198.6M269.4 196.8L289.4 198.7M284.4 196.8L303.9 198.7M299.4 196.8L318.6 198.7M314.4 196.8L332.9 198.6M329.4 196.8L347.7 198.6M344.3 196.8L362.4 198.6M359.3 196.8L377.2 198.5M374.3 196.8L392.2 198.5M389.3 196.8L407.1 198.5M404.3 196.8L421.3 198.5M419.2 196.8L436.6 198.5M434.2 196.8L451.4 198.5M449.2 196.8L466.2 198.5M464.2 196.8L481.2 198.4M479.2 196.8L496.1 198.4M494.1 196.8L511.1 198.4M509.1 196.8L526.1 198.4M524.1 196.8L540.0 198.3M539.1 196.8L553.8 198.2M44.7 193.0L60.9 194.6M59.7 193.0L75.9 194.6M74.7 193.0L90.9 194.6M89.7 193.0L105.9 194.6M104.7 193.0L121.2 194.7M119.6 193.0L136.2 194.7M134.6 193.0L152.3 194.8M149.6 193.0L167.4 194.8M164.6 193.0L182.0 194.7M179.6 193.0L198.0 194.8M194.5 193.0L213.1 194.9M209.5 193.0L228.1 194.9M224.5 193.0L242.8 194.8M239.5 193.0L258.0 194.9M254.5 193.0L273.1 194.9M269.4 193.0L288.9 195.0M284.4 193.0L303.8 194.9M299.4 193.0L318.4 194.9M314.4 193.0L332.7 194.8M329.4 193.0L347.5 194.8M344.3 193.0L361.9 194.8M359.3 193.0L376.6 194.7M374.3 193.0L391.6 194.7M389.3 193.0L406.3 194.7M404.3 193.0L420.6 194.6M419.2 193.0L436.1 194.7M434.2 193.0L450.9 194.7M449.2 193.0L465.5 194.6M464.2 193.0L480.4 194.6M479.2 193.0L495.4 194.6M494.1 193.0L510.4 194.6M509.1 193.0L525.3 194.6M524.1 193.0L539.6 194.5M539.1 193.0L553.8 194.5M44.7 189.2L60.9 190.9M59.7 189.2L75.9 190.9M74.7 189.2L90.9 190.9M89.7 189.2L105.9 190.9M104.7 189.2L121.0 190.9M119.6 189.2L136.0 190.9M134.6 189.2L152.2 191.0M149.6 189.2L167.4 191.0M164.6 189.2L182.2 191.0M179.6 189.2L197.7 191.1M194.5 189.2L212.7 191.1M209.5 189.2L227.7 191.1M224.5 189.2L242.3 191.0M239.5 189.2L257.6 191.1M254.5 189.2L272.6 191.1M269.4 189.2L288.4 191.1M284.4 189.2L303.8 191.2M299.4 189.2L318.2 191.1M314.4 189.2L332.5 191.1M329.4 189.2L347.3 191.0M344.3 189.2L361.3 190.9M359.3 189.2L375.9 190.9M374.3 189.2L390.8 190.9M389.3 189.2L405.5 190.9M404.3 189.2L419.7 190.8M419.2 189.2L435.7 190.9M434.2 189.2L450.3 190.9M449.2 189.2L464.7 190.8M464.2 189.2L479.6 190.8M479.2 189.2L494.5 190.8M494.1 189.2L509.5 190.8M509.1 189.2L524.5 190.8M524.1 189.2L539.1 190.8M539.1 189.2L553.7 190.7M44.7 185.5L60.9 187.1M59.7 185.5L75.8 187.1M74.7 185.5L90.8 187.1M89.7 185.5L105.8 187.1M104.7 185.5L120.8 187.1M119.6 185.5L135.8 187.1M134.6 185.5L152.1 187.3M149.6 185.5L167.4 187.3M164.6 185.5L182.3 187.3M179.6 185.5L197.4 187.3M194.5 185.5L212.4 187.3M209.5 185.5L227.3 187.3M224.5 185.5L241.8 187.2M239.5 185.5L257.2 187.3M254.5 185.5L272.3 187.3M269.4 185.5L287.9 187.3M284.4 185.5L303.6 187.4M299.4 185.5L318.0 187.4M314.4 185.5L332.3 187.3M329.4 185.5L347.2 187.3M344.3 185.5L360.8 187.1M359.3 185.5L375.3 187.1M374.3 185.5L390.2 187.1M389.3 185.5L404.8 187.0M404.3 185.5L419.0 187.0M419.2 185.5L435.3 187.1M434.2 185.5L449.8 187.1M449.2 185.5L464.0 187.0M464.2 185.5L479.0 187.0M479.2 185.5L493.9 187.0M494.1 185.5L508.8 187.0M509.1 185.5L523.8 187.0M524.1 185.5L538.8 187.0M539.1 185.5L553.7 187.0M44.7 181.8L60.5 183.3M59.7 181.8L75.5 183.3M74.7 181.8L90.5 183.3M89.7 181.8L105.5 183.3M104.7 181.8L120.5 183.3M119.6 181.8L135.5 183.3M134.6 181.8L151.7 183.5M149.6 181.8L167.3 183.5M164.6 181.8L182.4 183.5M179.6 181.8L197.3 183.5M194.5 181.8L212.3 183.5M209.5 181.8L227.1 183.5M224.5 181.8L241.4 183.4M239.5 181.8L257.1 183.5M254.5 181.8L272.2 183.5M269.4 181.8L287.3 183.5M284.4 181.8L302.8 183.6M299.4 181.8L317.4 183.5M314.4 181.8L332.0 183.5M329.4 181.8L347.1 183.5M344.3 181.8L360.7 183.4M359.3 181.8L374.9 183.3M374.3 181.8L389.7 183.3M389.3 181.8L404.0 183.2M404.3 181.8L418.3 183.1M419.2 181.8L434.8 183.3M434.2 181.8L449.5 183.3M449.2 181.8L464.0 183.2M464.2 181.8L479.1 183.2M479.2 181.8L493.8 183.2M494.1 181.8L508.4 183.2M509.1 181.8L523.5 183.2M524.1 181.8L538.7 183.2M539.1 181.8L553.7 183.2M44.7 178.0L60.1 179.5M59.7 178.0L75.1 179.5M74.7 178.0L90.1 179.5M89.7 178.0L105.1 179.5M104.7 178.0L120.1 179.5M119.6 178.0L135.3 179.6M134.6 178.0L151.2 179.7M149.6 178.0L167.3 179.8M164.6 178.0L182.4 179.8M179.6 178.0L197.3 179.8M194.5 178.0L212.3 179.8M209.5 178.0L226.9 179.7M224.5 178.0L241.1 179.7M239.5 178.0L257.1 179.8M254.5 178.0L272.2 179.8M269.4 178.0L286.8 179.7M284.4 178.0L302.0 179.8M299.4 178.0L316.7 179.7M314.4 178.0L331.8 179.7M329.4 178.0L347.1 179.8M344.3 178.0L360.7 179.6M359.3 178.0L374.7 179.5M374.3 178.0L389.2 179.5M389.3 178.0L403.2 179.4M404.3 178.0L417.6 179.3M419.2 178.0L434.4 179.5M434.2 178.0L449.3 179.5M449.2 178.0L464.2 179.5M464.2 178.0L479.3 179.5M479.2 178.0L493.8 179.5M494.1 178.0L508.0 179.4M509.1 178.0L523.3 179.4M524.1 178.0L538.6 179.5M539.1 178.0L553.7 179.5M44.7 174.2L57.1 175.5M59.7 174.2L74.1 175.7M74.7 174.2L89.7 175.7M89.7 174.2L104.7 175.7M104.7 174.2L119.7 175.8M119.6 174.2L135.0 175.8M134.6 174.2L150.6 175.9M149.6 174.2L167.2 176.0M164.6 174.2L182.4 176.0M179.6 174.2L197.3 176.0M194.5 174.2L212.3 176.0M209.5 174.2L226.8 176.0M224.5 174.2L240.8 175.9M239.5 174.2L257.0 176.0M254.5 174.2L272.2 176.0M269.4 174.2L286.1 175.9M284.4 174.2L301.1 175.9M299.4 174.2L316.0 175.9M314.4 174.2L331.5 176.0M329.4 174.2L347.0 176.0M344.3 174.2L360.7 175.9M359.3 174.2L374.4 175.8M374.3 174.2L388.7 175.7M389.3 174.2L402.4 175.6M404.3 174.2L416.9 175.5M419.2 174.2L433.9 175.7M434.2 174.2L449.0 175.7M449.2 174.2L464.3 175.8M464.2 174.2L479.7 175.8M479.2 174.2L493.8 175.7M494.1 174.2L507.7 175.6M509.1 174.2L523.0 175.6M524.1 174.2L538.6 175.7M539.1 174.2L553.7 175.7M44.7 170.5L54.0 171.4M59.7 170.5L71.0 171.6M74.7 170.5L88.1 171.8M89.7 170.5L104.3 172.0M104.7 170.5L119.4 172.0M119.6 170.5L134.7 172.0M134.6 170.5L150.2 172.1M149.6 170.5L167.0 172.2M164.6 170.5L182.2 172.3M179.6 170.5L197.2 172.3M194.5 170.5L212.2 172.3M209.5 170.5L226.5 172.2M224.5 170.5L240.5 172.1M239.5 170.5L256.9 172.2M254.5 170.5L272.1 172.3M269.4 170.5L285.6 172.1M284.4 170.5L300.4 172.1M299.4 170.5L315.4 172.1M314.4 170.5L331.2 172.2M329.4 170.5L346.9 172.3M344.3 170.5L360.6 172.1M359.3 170.5L374.1 172.0M374.3 170.5L388.2 171.9M389.3 170.5L401.8 171.7M404.3 170.5L416.3 171.7M419.2 170.5L433.5 171.9M434.2 170.5L448.8 172.0M449.2 170.5L464.4 172.0M464.2 170.5L479.9 172.1M479.2 170.5L493.9 172.0M494.1 170.5L507.4 171.8M509.1 170.5L522.8 171.9M524.1 170.5L538.6 171.9M539.1 170.5L553.7 172.0M554.1 170.5L568.7 172.0M44.7 166.8L50.3 167.3M59.7 166.8L67.5 167.5M74.7 166.8L84.5 167.7M89.7 166.8L101.5 167.9M104.7 166.8L118.6 168.1M119.6 166.8L134.3 168.2M134.6 166.8L149.7 168.3M149.6 166.8L166.2 168.4M164.6 166.8L181.4 168.4M179.6 166.8L196.4 168.4M194.5 166.8L211.4 168.4M209.5 166.8L225.9 168.4M224.5 166.8L240.0 168.3M239.5 166.8L256.1 168.4M254.5 166.8L271.2 168.4M269.4 166.8L285.0 168.3M284.4 166.8L299.9 168.3M299.4 166.8L315.1 168.3M314.4 166.8L330.7 168.4M329.4 166.8L346.1 168.4M344.3 166.8L359.9 168.3M359.3 166.8L373.5 168.2M374.3 166.8L387.6 168.1M389.3 166.8L401.4 168.0M404.3 166.8L416.0 167.9M419.2 166.8L433.1 168.1M434.2 166.8L448.4 168.2M449.2 166.8L464.3 168.3M464.2 166.8L479.8 168.3M479.2 166.8L493.9 168.2M494.1 166.8L507.3 168.1M509.1 166.8L522.6 168.1M524.1 166.8L538.6 168.2M539.1 166.8L553.7 168.2M59.7 163.0L62.1 163.2M74.7 163.0L81.2 163.6M89.7 163.0L98.3 163.9M104.7 163.0L115.4 164.1M119.6 163.0L132.5 164.3M134.6 163.0L149.3 164.5M149.6 163.0L165.3 164.6M164.6 163.0L180.4 164.6M179.6 163.0L195.6 164.6M194.5 163.0L210.6 164.6M209.5 163.0L225.2 164.6M224.5 163.0L239.5 164.5M239.5 163.0L255.2 164.6M254.5 163.0L270.3 164.6M269.4 163.0L284.4 164.5M284.4 163.0L299.6 164.5M299.4 163.0L315.0 164.6M314.4 163.0L330.2 164.6M329.4 163.0L345.2 164.6M344.3 163.0L359.1 164.5M359.3 163.0L372.9 164.4M374.3 163.0L387.2 164.3M389.3 163.0L401.2 164.2M404.3 163.0L415.9 164.2M419.2 163.0L432.8 164.4M434.2 163.0L448.0 164.4M449.2 163.0L464.1 164.5M464.2 163.0L479.7 164.6M479.2 163.0L493.9 164.5M494.1 163.0L507.3 164.3M509.1 163.0L522.5 164.3M524.1 163.0L538.5 164.4M539.1 163.0L553.7 164.5M89.7 159.2L92.8 159.6M104.7 159.2L111.6 159.9M119.6 159.2L128.8 160.2M134.6 159.2L145.9 160.4M149.6 159.2L163.0 160.6M164.6 159.2L179.4 160.7M179.6 159.2L194.7 160.8M194.5 159.2L209.7 160.8M209.5 159.2L224.5 160.7M224.5 159.2L238.9 160.7M239.5 159.2L254.2 160.7M254.5 159.2L269.2 160.7M269.4 159.2L283.8 160.7M284.4 159.2L299.2 160.7M299.4 159.2L314.8 160.8M314.4 159.2L329.6 160.8M329.4 159.2L344.2 160.7M344.3 159.2L358.2 160.6M359.3 159.2L372.2 160.5M374.3 159.2L386.6 160.5M389.3 159.2L400.9 160.4M404.3 159.2L415.8 160.4M419.2 159.2L432.4 160.6M434.2 159.2L447.6 160.6M449.2 159.2L463.8 160.7M464.2 159.2L479.6 160.8M479.2 159.2L493.8 160.7M494.1 159.2L507.3 160.6M509.1 159.2L522.3 160.6M524.1 159.2L538.5 160.7M539.1 159.2L553.7 160.7M119.6 155.5L125.2 156.1M134.6 155.5L142.6 156.3M149.6 155.5L159.7 156.5M164.6 155.5L176.9 156.7M179.6 155.5L194.0 156.9M194.5 155.5L209.0 156.9M209.5 155.5L223.9 156.9M224.5 155.5L238.5 156.9M239.5 155.5L253.5 156.9M254.5 155.5L268.4 156.9M269.4 155.5L283.3 156.9M284.4 155.5L298.9 157.0M299.4 155.5L314.7 157.0M314.4 155.5L329.1 157.0M329.4 155.5L343.3 156.9M344.3 155.5L357.5 156.8M359.3 155.5L371.7 156.7M374.3 155.5L386.1 156.7M389.3 155.5L400.7 156.6M404.3 155.5L415.7 156.6M419.2 155.5L432.1 156.8M434.2 155.5L447.3 156.8M449.2 155.5L463.6 156.9M464.2 155.5L479.4 157.0M479.2 155.5L493.8 157.0M494.1 155.5L507.3 156.8M509.1 155.5L522.2 156.8M524.1 155.5L538.5 156.9M539.1 155.5L553.7 157.0M134.6 151.8L136.7 152.0M149.6 151.8L155.6 152.4M164.6 151.8L173.0 152.6M179.6 151.8L190.2 152.8M194.5 151.8L207.5 153.0M209.5 151.8L223.7 153.2M224.5 151.8L238.5 153.2M239.5 151.8L253.5 153.1M254.5 151.8L268.1 153.1M269.4 151.8L283.0 153.1M284.4 151.8L298.7 153.2M299.4 151.8L314.5 153.3M314.4 151.8L328.3 153.1M329.4 151.8L342.5 153.1M344.3 151.8L356.9 153.0M359.3 151.8L371.3 152.9M374.3 151.8L385.8 152.9M389.3 151.8L400.3 152.8M404.3 151.8L415.4 152.9M419.2 151.8L431.7 153.0M434.2 151.8L447.2 153.0M449.2 151.8L463.2 153.2M464.2 151.8L478.9 153.2M479.2 151.8L493.6 153.2M494.1 151.8L507.3 153.1M509.1 151.8L522.3 153.1M524.1 151.8L538.5 153.2M539.1 151.8L553.7 153.2M164.6 148.0L167.9 148.3M179.6 148.0L186.8 148.7M194.5 148.0L204.1 149.0M209.5 148.0L220.2 149.1M224.5 148.0L236.2 149.2M239.5 148.0L251.6 149.2M254.5 148.0L265.1 149.1M269.4 148.0L282.8 149.3M284.4 148.0L298.5 149.4M299.4 148.0L314.3 149.5M314.4 148.0L327.5 149.3M329.4 148.0L341.9 149.3M344.3 148.0L356.4 149.2M359.3 148.0L371.0 149.2M374.3 148.0L385.5 149.1M389.3 148.0L399.8 149.1M404.3 148.0L415.2 149.1M419.2 148.0L431.3 149.2M434.2 148.0L447.1 149.3M449.2 148.0L462.9 149.4M464.2 148.0L478.4 149.4M479.2 148.0L493.3 149.4M494.1 148.0L507.3 149.3M509.1 148.0L522.5 149.3M524.1 148.0L538.5 149.4M539.1 148.0L553.7 149.5M194.5 144.2L199.8 144.8M209.5 144.2L216.1 144.9M224.5 144.2L232.2 145.0M239.5 144.2L247.6 145.1M254.5 144.2L261.1 144.9M269.4 144.2L281.6 145.5M284.4 144.2L298.3 145.6M299.4 144.2L314.1 145.7M314.4 144.2L326.7 145.5M329.4 144.2L341.1 145.4M344.3 144.2L355.9 145.4M359.3 144.2L370.7 145.4M374.3 144.2L385.2 145.3M389.3 144.2L399.3 145.3M404.3 144.2L414.9 145.3M419.2 144.2L430.9 145.4M434.2 144.2L447.1 145.5M449.2 144.2L462.5 145.6M464.2 144.2L477.7 145.6M479.2 144.2L493.1 145.6M494.1 144.2L507.2 145.6M509.1 144.2L522.6 145.6M524.1 144.2L538.6 145.7M539.1 144.2L553.7 145.7M209.5 140.5L211.7 140.7M224.5 140.5L227.6 140.8M239.5 140.5L242.8 140.8M254.5 140.5L257.8 140.8M269.4 140.5L279.8 141.5M284.4 140.5L298.1 141.9M299.4 140.5L313.1 141.9M314.4 140.5L326.0 141.7M329.4 140.5L340.5 141.6M344.3 140.5L355.5 141.6M359.3 140.5L370.4 141.6M374.3 140.5L385.0 141.6M389.3 140.5L399.0 141.5M404.3 140.5L414.8 141.6M419.2 140.5L430.6 141.6M434.2 140.5L447.0 141.8M449.2 140.5L462.3 141.8M464.2 140.5L477.3 141.8M479.2 140.5L492.9 141.9M494.1 140.5L507.3 141.8M509.1 140.5L522.8 141.9M524.1 140.5L538.5 141.9M539.1 140.5L553.6 142.0M554.1 140.5L568.6 142.0M239.5 136.8L241.6 137.0M254.5 136.8L256.9 137.0M269.4 136.8L278.5 137.7M284.4 136.8L297.9 138.1M299.4 136.8L311.8 138.0M314.4 136.8L324.9 137.8M329.4 136.8L339.1 137.7M344.3 136.8L353.8 137.7M359.3 136.8L369.3 137.7M374.3 136.8L385.1 137.8M389.3 136.8L399.3 137.8M404.3 136.8L414.9 137.8M419.2 136.8L430.7 137.9M434.2 136.8L447.0 138.0M449.2 136.8L462.4 138.1M464.2 136.8L477.5 138.1M479.2 136.8L493.1 138.1M494.1 136.8L507.4 138.1M509.1 136.8L522.7 138.1M524.1 136.8L538.2 138.2M539.1 136.8L553.3 138.2M554.1 136.8L568.2 138.2M269.4 133.0L277.8 133.8M284.4 133.0L297.8 134.3M299.4 133.0L310.7 134.1M314.4 133.0L322.4 133.8M329.4 133.0L337.4 133.8M344.3 133.0L353.4 133.9M359.3 133.0L368.8 133.9M374.3 133.0L384.5 134.0M389.3 133.0L399.7 134.0M404.3 133.0L415.2 134.1M419.2 133.0L430.9 134.2M434.2 133.0L447.1 134.3M449.2 133.0L462.5 134.3M464.2 133.0L477.9 134.4M479.2 133.0L493.3 134.4M494.1 133.0L507.6 134.3M509.1 133.0L522.5 134.3M524.1 133.0L537.9 134.4M539.1 133.0L552.9 134.4M554.1 133.0L567.9 134.4M239.5 129.2L241.6 129.5M254.5 129.2L256.9 129.5M269.4 129.2L277.8 130.1M284.4 129.2L297.6 130.6M299.4 129.2L309.5 130.3M314.4 129.2L322.4 130.1M329.4 129.2L337.4 130.1M344.3 129.2L352.4 130.1M359.3 129.2L368.8 130.2M374.3 129.2L384.0 130.2M389.3 129.2L400.2 130.3M404.3 129.2L415.4 130.4M419.2 129.2L431.1 130.4M434.2 129.2L447.1 130.5M449.2 129.2L462.7 130.6M464.2 129.2L478.3 130.7M479.2 129.2L493.5 130.7M494.1 129.2L507.8 130.6M509.1 129.2L522.4 130.6M524.1 129.2L537.5 130.6M539.1 129.2L552.5 130.6M554.1 129.2L567.4 130.6M209.5 125.5L211.7 125.7M224.5 125.5L227.2 125.8M239.5 125.5L242.4 125.8M254.5 125.5L257.3 125.8M269.4 125.5L278.8 126.4M284.4 125.5L297.5 126.8M299.4 125.5L310.7 126.6M314.4 125.5L322.4 126.3M329.4 125.5L337.4 126.3M344.3 125.5L353.4 126.4M359.3 125.5L368.8 126.4M374.3 125.5L384.5 126.5M389.3 125.5L400.7 126.6M404.3 125.5L415.7 126.6M419.2 125.5L431.4 126.7M434.2 125.5L447.2 126.8M449.2 125.5L462.9 126.9M464.2 125.5L478.6 126.9M479.2 125.5L493.7 127.0M494.1 125.5L508.0 126.9M509.1 125.5L522.3 126.8M524.1 125.5L537.3 126.8M539.1 125.5L552.2 126.8M554.1 125.5L567.2 126.8M179.6 121.8L181.8 122.0M194.5 121.8L197.9 122.1M209.5 121.8L215.1 122.3M224.5 121.8L230.6 122.4M239.5 121.8L245.4 122.3M254.5 121.8L258.0 122.1M269.4 121.8L280.6 122.9M284.4 121.8L297.8 123.1M299.4 121.8L312.0 123.0M314.4 121.8L325.2 122.8M329.4 121.8L339.4 122.8M344.3 121.8L354.0 122.7M359.3 121.8L369.5 122.8M374.3 121.8L385.6 122.9M389.3 121.8L401.3 123.0M404.3 121.8L416.2 122.9M419.2 121.8L431.9 123.0M434.2 121.8L447.5 123.1M449.2 121.8L463.1 123.1M464.2 121.8L478.7 123.2M479.2 121.8L493.7 123.2M494.1 121.8L508.2 123.2M509.1 121.8L522.7 123.1M524.1 121.8L537.9 123.1M539.1 121.8L552.7 123.1M554.1 121.8L567.5 123.1M149.6 118.0L151.5 118.2M164.6 118.0L167.8 118.3M179.6 118.0L185.7 118.6M194.5 118.0L202.4 118.8M209.5 118.0L218.4 118.9M224.5 118.0L233.9 118.9M239.5 118.0L248.7 118.9M254.5 118.0L261.6 118.7M269.4 118.0L282.7 119.3M284.4 118.0L298.2 119.4M299.4 118.0L313.1 119.4M314.4 118.0L326.4 119.2M329.4 118.0L341.1 119.2M344.3 118.0L355.8 119.1M359.3 118.0L371.1 119.2M374.3 118.0L387.0 119.3M389.3 118.0L401.9 119.3M404.3 118.0L416.8 119.3M419.2 118.0L432.5 119.3M434.2 118.0L447.9 119.4M449.2 118.0L463.3 119.4M464.2 118.0L478.7 119.5M479.2 118.0L493.7 119.5M494.1 118.0L508.4 119.4M509.1 118.0L523.3 119.4M524.1 118.0L538.6 119.4M539.1 118.0L553.3 119.4M554.1 118.0L567.9 119.4M119.6 114.2L121.4 114.4M134.6 114.2L137.8 114.6M149.6 114.2L155.8 114.9M164.6 114.2L172.7 115.1M179.6 114.2L189.4 115.2M194.5 114.2L205.9 115.4M209.5 114.2L221.9 115.5M224.5 114.2L237.4 115.5M239.5 114.2L251.9 115.5M254.5 114.2L265.6 115.4M269.4 114.2L283.5 115.7M284.4 114.2L298.6 115.7M299.4 114.2L313.7 115.7M314.4 114.2L327.7 115.6M329.4 114.2L343.0 115.6M344.3 114.2L357.8 115.6M359.3 114.2L373.1 115.6M374.3 114.2L388.2 115.6M389.3 114.2L402.5 115.6M404.3 114.2L417.4 115.6M419.2 114.2L433.1 115.6M434.2 114.2L448.4 115.7M449.2 114.2L463.6 115.7M464.2 114.2L478.7 115.7M479.2 114.2L493.7 115.7M494.1 114.2L508.5 115.7M509.1 114.2L523.9 115.7M524.1 114.2L539.4 115.8M539.1 114.2L553.9 115.7M554.1 114.2L568.3 115.7M104.7 110.5L107.7 110.8M119.6 110.5L125.7 111.1M134.6 110.5L142.5 111.3M149.6 110.5L159.0 111.4M164.6 110.5L175.8 111.6M179.6 110.5L192.5 111.8M194.5 110.5L206.9 111.7M209.5 110.5L222.5 111.8M224.5 110.5L237.6 111.8M239.5 110.5L251.9 111.7M254.5 110.5L267.5 111.8M269.4 110.5L283.8 111.9M284.4 110.5L299.0 112.0M299.4 110.5L314.0 112.0M314.4 110.5L328.8 111.9M329.4 110.5L344.8 112.0M344.3 110.5L359.6 112.0M359.3 110.5L374.8 112.0M374.3 110.5L389.0 112.0M389.3 110.5L403.1 111.9M404.3 110.5L418.0 111.9M419.2 110.5L433.7 111.9M434.2 110.5L448.8 112.0M449.2 110.5L463.8 112.0M464.2 110.5L478.8 112.0M479.2 110.5L493.8 112.0M494.1 110.5L508.7 112.0M509.1 110.5L524.3 112.0M524.1 110.5L540.0 112.1M539.1 110.5L554.4 112.0M554.1 110.5L568.7 112.0M74.7 106.8L78.0 107.1M89.7 106.8L96.3 107.4M104.7 106.8L112.9 107.6M119.6 106.8L129.4 107.7M134.6 106.8L146.0 107.9M149.6 106.8L162.5 108.0M164.6 106.8L178.3 108.1M179.6 106.8L193.0 108.1M194.5 106.8L207.4 108.0M209.5 106.8L222.8 108.1M224.5 106.8L238.1 108.1M239.5 106.8L252.5 108.1M254.5 106.8L268.1 108.1M269.4 106.8L284.1 108.2M284.4 106.8L299.4 108.2M299.4 106.8L314.4 108.2M314.4 106.8L329.4 108.2M329.4 106.8L345.7 108.4M344.3 106.8L361.4 108.5M359.3 106.8L376.0 108.4M374.3 106.8L389.6 108.3M389.3 106.8L403.8 108.2M404.3 106.8L418.6 108.2M419.2 106.8L434.3 108.3M434.2 106.8L449.4 108.3M449.2 106.8L464.0 108.2M464.2 106.8L478.8 108.2M479.2 106.8L493.9 108.2M494.1 106.8L509.1 108.2M509.1 106.8L524.5 108.3M524.1 106.8L540.2 108.4M539.1 106.8L554.7 108.3M44.7 103.0L47.6 103.3M59.7 103.0L66.4 103.7M74.7 103.0L83.2 103.8M89.7 103.0L99.7 104.0M104.7 103.0L116.0 104.1M119.6 103.0L132.5 104.3M134.6 103.0L149.0 104.4M149.6 103.0L164.1 104.5M164.6 103.0L178.3 104.4M179.6 103.0L193.3 104.4M194.5 103.0L207.9 104.3M209.5 103.0L223.2 104.4M224.5 103.0L238.6 104.4M239.5 103.0L253.3 104.4M254.5 103.0L268.9 104.4M269.4 103.0L284.3 104.5M284.4 103.0L299.7 104.5M299.4 103.0L314.8 104.5M314.4 103.0L329.7 104.5M329.4 103.0L346.1 104.7M344.3 103.0L361.6 104.7M359.3 103.0L376.3 104.7M374.3 103.0L390.2 104.6M389.3 103.0L404.3 104.5M404.3 103.0L419.2 104.5M419.2 103.0L434.9 104.6M434.2 103.0L450.0 104.6M449.2 103.0L464.3 104.5M464.2 103.0L478.8 104.5M479.2 103.0L494.1 104.5M494.1 103.0L509.4 104.5M509.1 103.0L524.5 104.5M524.1 103.0L540.2 104.6M539.1 103.0L554.9 104.6M44.7 99.2L54.0 100.2M59.7 99.2L70.6 100.3M74.7 99.2L87.1 100.5M89.7 99.2L103.4 100.6M104.7 99.2L119.5 100.7M119.6 99.2L135.9 100.9M134.6 99.2L150.4 100.8M149.6 99.2L164.0 100.7M164.6 99.2L178.3 100.6M179.6 99.2L193.7 100.7M194.5 99.2L208.5 100.7M209.5 99.2L223.7 100.7M224.5 99.2L239.2 100.7M239.5 99.2L254.1 100.7M254.5 99.2L269.7 100.8M269.4 99.2L284.6 100.8M284.4 99.2L300.1 100.8M299.4 99.2L315.2 100.8M314.4 99.2L330.2 100.8M329.4 99.2L346.5 101.0M344.3 99.2L361.9 101.0M359.3 99.2L376.7 101.0M374.3 99.2L390.8 100.9M389.3 99.2L405.0 100.8M404.3 99.2L419.8 100.8M419.2 99.2L435.5 100.9M434.2 99.2L450.6 100.9M449.2 99.2L464.5 100.8M464.2 99.2L478.8 100.7M479.2 99.2L494.3 100.8M494.1 99.2L509.8 100.8M509.1 99.2L524.6 100.8M524.1 99.2L540.2 100.9M539.1 99.2L555.1 100.8M44.7 95.5L57.8 96.8M59.7 95.5L74.3 97.0M74.7 95.5L90.6 97.1M89.7 95.5L105.8 97.1M104.7 95.5L121.7 97.2M119.6 95.5L136.5 97.2M134.6 95.5L150.4 97.1M149.6 95.5L163.8 96.9M164.6 95.5L178.3 96.9M179.6 95.5L194.0 96.9M194.5 95.5L209.1 97.0M209.5 95.5L224.1 97.0M224.5 95.5L239.7 97.0M239.5 95.5L254.8 97.0M254.5 95.5L270.4 97.1M269.4 95.5L284.9 97.0M284.4 95.5L300.4 97.1M299.4 95.5L315.5 97.1M314.4 95.5L330.5 97.1M329.4 95.5L346.9 97.3M344.3 95.5L362.1 97.3M359.3 95.5L377.0 97.3M374.3 95.5L391.3 97.2M389.3 95.5L405.5 97.1M404.3 95.5L420.4 97.1M419.2 95.5L436.1 97.2M434.2 95.5L451.1 97.2M449.2 95.5L464.7 97.1M464.2 95.5L478.9 97.0M479.2 95.5L494.4 97.0M494.1 95.5L510.1 97.1M509.1 95.5L524.6 97.0M524.1 95.5L540.2 97.1M539.1 95.5L555.2 97.1M44.7 91.8L61.2 93.4M59.7 91.8L75.1 93.3M74.7 91.8L91.1 93.4M89.7 91.8L106.4 93.4M104.7 91.8L122.1 93.5M119.6 91.8L136.6 93.4M134.6 91.8L150.3 93.3M149.6 91.8L163.6 93.2M164.6 91.8L178.5 93.1M179.6 91.8L194.4 93.2M194.5 91.8L209.5 93.2M209.5 91.8L224.5 93.2M224.5 91.8L240.3 93.3M239.5 91.8L255.4 93.3M254.5 91.8L270.8 93.4M269.4 91.8L285.1 93.3M284.4 91.8L300.5 93.4M299.4 91.8L315.9 93.4M314.4 91.8L330.8 93.4M329.4 91.8L347.1 93.5M344.3 91.8L362.1 93.5M359.3 91.8L377.1 93.5M374.3 91.8L391.5 93.5M389.3 91.8L405.9 93.4M404.3 91.8L421.0 93.4M419.2 91.8L436.7 93.5M434.2 91.8L451.6 93.5M449.2 91.8L465.0 93.3M464.2 91.8L479.2 93.3M479.2 91.8L494.7 93.3M494.1 91.8L510.2 93.4M509.1 91.8L524.8 93.3M524.1 91.8L540.2 93.4M539.1 91.8L555.3 93.4M44.7 88.0L61.5 89.7M59.7 88.0L75.6 89.6M74.7 88.0L91.5 89.7M89.7 88.0L106.9 89.7M104.7 88.0L122.4 89.8M119.6 88.0L136.7 89.7M134.6 88.0L150.1 89.6M149.6 88.0L163.4 89.4M164.6 88.0L178.7 89.4M179.6 88.0L194.8 89.5M194.5 88.0L209.9 89.5M209.5 88.0L224.9 89.5M224.5 88.0L240.7 89.6M239.5 88.0L255.9 89.6M254.5 88.0L271.1 89.7M269.4 88.0L285.3 89.6M284.4 88.0L300.5 89.6M299.4 88.0L316.2 89.7M314.4 88.0L331.0 89.7M329.4 88.0L347.3 89.8M344.3 88.0L362.2 89.8M359.3 88.0L377.1 89.8M374.3 88.0L391.7 89.7M389.3 88.0L406.3 89.7M404.3 88.0L421.6 89.7M419.2 88.0L437.3 89.8M434.2 88.0L452.0 89.8M449.2 88.0L465.2 89.6M464.2 88.0L479.6 89.5M479.2 88.0L494.9 89.6M494.1 88.0L510.3 89.6M509.1 88.0L524.9 89.6M524.1 88.0L540.2 89.6M539.1 88.0L555.3 89.6M44.7 84.2L61.9 86.0M59.7 84.2L76.2 85.9M74.7 84.2L92.0 86.0M89.7 84.2L107.4 86.0M104.7 84.2L122.7 86.1M119.6 84.2L136.6 85.9M134.6 84.2L149.9 85.8M149.6 84.2L163.4 85.6M164.6 84.2L178.9 85.7M179.6 84.2L195.2 85.8M194.5 84.2L210.3 85.8M209.5 84.2L225.3 85.8M224.5 84.2L241.3 85.9M239.5 84.2L256.4 85.9M254.5 84.2L271.5 86.0M269.4 84.2L285.6 85.9M284.4 84.2L300.6 85.9M299.4 84.2L316.6 86.0M314.4 84.2L331.2 85.9M329.4 84.2L347.5 86.1M344.3 84.2L362.2 86.0M359.3 84.2L377.1 86.0M374.3 84.2L391.9 86.0M389.3 84.2L406.7 86.0M404.3 84.2L422.2 86.0M419.2 84.2L437.9 86.1M434.2 84.2L452.5 86.1M449.2 84.2L465.4 85.9M464.2 84.2L480.0 85.8M479.2 84.2L495.1 85.8M494.1 84.2L510.3 85.9M509.1 84.2L525.1 85.9M524.1 84.2L540.3 85.9M539.1 84.2L555.3 85.9M44.7 80.5L62.1 82.2M59.7 80.5L76.7 82.2M74.7 80.5L92.3 82.3M89.7 80.5L107.9 82.3M104.7 80.5L122.9 82.3M119.6 80.5L136.4 82.2M134.6 80.5L150.1 82.0M149.6 80.5L163.6 81.9M164.6 80.5L179.1 82.0M179.6 80.5L195.5 82.1M194.5 80.5L210.7 82.1M209.5 80.5L225.7 82.1M224.5 80.5L241.7 82.2M239.5 80.5L256.8 82.2M254.5 80.5L271.7 82.2M269.4 80.5L285.8 82.1M284.4 80.5L300.6 82.1M299.4 80.5L316.9 82.2M314.4 80.5L331.4 82.2M329.4 80.5L347.7 82.3M344.3 80.5L362.3 82.3M359.3 80.5L377.1 82.3M374.3 80.5L392.1 82.3M389.3 80.5L407.0 82.3M404.3 80.5L422.7 82.3M419.2 80.5L438.4 82.4M434.2 80.5L452.8 82.4M449.2 80.5L465.7 82.1M464.2 80.5L480.3 82.1M479.2 80.5L495.3 82.1M494.1 80.5L510.4 82.1M509.1 80.5L525.3 82.1M524.1 80.5L540.3 82.1M539.1 80.5L555.3 82.1M44.7 76.8L62.3 78.5M59.7 76.8L76.9 78.5M74.7 76.8L92.6 78.5M89.7 76.8L108.4 78.6M104.7 76.8L122.9 78.6M119.6 76.8L136.2 78.4M134.6 76.8L150.3 78.3M149.6 76.8L163.9 78.2M164.6 76.8L179.8 78.3M179.6 76.8L196.0 78.4M194.5 76.8L211.0 78.4M209.5 76.8L226.1 78.4M224.5 76.8L241.9 78.5M239.5 76.8L257.0 78.5M254.5 76.8L271.9 78.5M269.4 76.8L286.0 78.4M284.4 76.8L300.6 78.4M299.4 76.8L317.0 78.5M314.4 76.8L331.6 78.5M329.4 76.8L347.9 78.6M344.3 76.8L362.6 78.6M359.3 76.8L377.5 78.6M374.3 76.8L392.5 78.6M389.3 76.8L407.5 78.6M404.3 76.8L423.1 78.6M419.2 76.8L438.6 78.7M434.2 76.8L453.1 78.6M449.2 76.8L466.2 78.5M464.2 76.8L480.8 78.4M479.2 76.8L495.7 78.4M494.1 76.8L510.7 78.4M509.1 76.8L525.7 78.4M524.1 76.8L540.6 78.4M539.1 76.8L555.5 78.4M44.7 73.0L62.3 74.8M59.7 73.0L77.1 74.7M74.7 73.0L92.8 74.8M89.7 73.0L108.9 74.9M104.7 73.0L122.7 74.8M119.6 73.0L135.9 74.6M134.6 73.0L150.4 74.6M149.6 73.0L164.3 74.5M164.6 73.0L180.4 74.6M179.6 73.0L196.4 74.7M194.5 73.0L211.4 74.7M209.5 73.0L226.5 74.7M224.5 73.0L242.0 74.8M239.5 73.0L257.1 74.8M254.5 73.0L272.0 74.8M269.4 73.0L286.1 74.7M284.4 73.0L300.7 74.6M299.4 73.0L317.0 74.8M314.4 73.0L331.8 74.7M329.4 73.0L348.1 74.9M344.3 73.0L362.9 74.9M359.3 73.0L377.9 74.9M374.3 73.0L392.8 74.9M389.3 73.0L407.8 74.9M404.3 73.0L423.5 74.9M419.2 73.0L438.6 74.9M434.2 73.0L453.2 74.9M449.2 73.0L466.7 74.8M464.2 73.0L481.2 74.7M479.2 73.0L496.1 74.7M494.1 73.0L511.1 74.7M509.1 73.0L526.1 74.7M524.1 73.0L540.8 74.7M539.1 73.0L555.8 74.7M44.7 69.2L62.4 71.0M59.7 69.2L77.3 71.0M74.7 69.2L93.1 71.1M89.7 69.2L109.1 71.2M104.7 69.2L122.4 71.0M119.6 69.2L135.9 70.9M134.6 69.2L150.6 70.8M149.6 69.2L164.7 70.8M164.6 69.2L181.1 70.9M179.6 69.2L196.9 71.0M194.5 69.2L211.7 71.0M209.5 69.2L226.9 71.0M224.5 69.2L242.2 71.0M239.5 69.2L257.2 71.0M254.5 69.2L272.1 71.0M269.4 69.2L286.3 70.9M284.4 69.2L300.7 70.9M299.4 69.2L317.0 71.0M314.4 69.2L332.0 71.0M329.4 69.2L348.3 71.1M344.3 69.2L363.3 71.1M359.3 69.2L378.3 71.1M374.3 69.2L393.3 71.1M389.3 69.2L408.3 71.1M404.3 69.2L423.9 71.2M419.2 69.2L438.7 71.2M434.2 69.2L453.4 71.2M449.2 69.2L467.3 71.1M464.2 69.2L481.6 71.0M479.2 69.2L496.5 71.0M494.1 69.2L511.5 71.0M509.1 69.2L526.5 71.0M524.1 69.2L541.2 71.0M539.1 69.2L556.1 71.0M44.7 65.5L62.5 67.3M59.7 65.5L77.5 67.3M74.7 65.5L93.5 67.4M89.7 65.5L109.0 67.4M104.7 65.5L122.1 67.2M119.6 65.5L135.9 67.1M134.6 65.5L150.7 67.1M149.6 65.5L165.0 67.0M164.6 65.5L181.6 67.2M179.6 65.5L197.2 67.3M194.5 65.5L211.9 67.2M209.5 65.5L227.2 67.3M224.5 65.5L242.2 67.3M239.5 65.5L257.2 67.3M254.5 65.5L272.2 67.3M269.4 65.5L286.5 67.2M284.4 65.5L300.7 67.1M299.4 65.5L317.0 67.3M314.4 65.5L332.2 67.3M329.4 65.5L348.5 67.4M344.3 65.5L363.6 67.4M359.3 65.5L378.6 67.4M374.3 65.5L393.6 67.4M389.3 65.5L408.6 67.4M404.3 65.5L424.3 67.5M419.2 65.5L438.7 67.5M434.2 65.5L453.6 67.4M449.2 65.5L467.8 67.4M464.2 65.5L482.0 67.3M479.2 65.5L496.9 67.3M494.1 65.5L511.8 67.3M509.1 65.5L526.8 67.3M524.1 65.5L541.4 67.2M539.1 65.5L556.3 67.2M44.7 61.8L62.7 63.5M59.7 61.8L78.1 63.6M74.7 61.8L93.9 63.7M89.7 61.8L108.5 63.6M104.7 61.8L121.6 63.4M119.6 61.8L135.7 63.4M134.6 61.8L150.4 63.3M149.6 61.8L164.9 63.3M164.6 61.8L181.5 63.4M179.6 61.8L197.3 63.5M194.5 61.8L211.7 63.5M209.5 61.8L227.0 63.5M224.5 61.8L242.2 63.5M239.5 61.8L257.3 63.5M254.5 61.8L272.1 63.5M269.4 61.8L286.3 63.4M284.4 61.8L301.0 63.4M299.4 61.8L317.4 63.5M314.4 61.8L332.6 63.6M329.4 61.8L348.6 63.7M344.3 61.8L363.7 63.7M359.3 61.8L378.7 63.7M374.3 61.8L393.9 63.7M389.3 61.8L409.0 63.7M404.3 61.8L424.6 63.8M419.2 61.8L439.1 63.7M434.2 61.8L453.9 63.7M449.2 61.8L468.1 63.6M464.2 61.8L482.4 63.6M479.2 61.8L497.3 63.6M494.1 61.8L512.0 63.5M509.1 61.8L526.9 63.5M524.1 61.8L541.6 63.5M539.1 61.8L556.5 63.5M44.7 58.0L62.9 59.8M59.7 58.0L78.6 59.9M74.7 58.0L94.0 59.9M89.7 58.0L108.1 59.8M104.7 58.0L121.3 59.7M119.6 58.0L135.5 59.6M134.6 58.0L150.1 59.5M149.6 58.0L164.7 59.5M164.6 58.0L181.1 59.7M179.6 58.0L197.2 59.8M194.5 58.0L211.5 59.7M209.5 58.0L226.9 59.7M224.5 58.0L242.2 59.8M239.5 58.0L257.3 59.8M254.5 58.0L271.9 59.7M269.4 58.0L286.1 59.7M284.4 58.0L301.3 59.7M299.4 58.0L317.7 59.8M314.4 58.0L332.9 59.9M329.4 58.0L348.6 59.9M344.3 58.0L363.7 59.9M359.3 58.0L378.7 59.9M374.3 58.0L394.1 60.0M389.3 58.0L409.4 60.0M404.3 58.0L424.8 60.1M419.2 58.0L439.4 60.0M434.2 58.0L454.2 60.0M449.2 58.0L468.3 59.9M464.2 58.0L482.8 59.9M479.2 58.0L497.7 59.9M494.1 58.0L512.0 59.8M509.1 58.0L526.9 59.8M524.1 58.0L541.7 59.8M539.1 58.0L556.6 59.8M44.7 54.2L63.1 56.1M59.7 54.2L78.5 56.1M74.7 54.2L93.8 56.2M89.7 54.2L107.7 56.1M104.7 54.2L121.1 55.9M119.6 54.2L135.3 55.8M134.6 54.2L149.7 55.8M149.6 54.2L164.4 55.7M164.6 54.2L180.8 55.9M179.6 54.2L197.2 56.0M194.5 54.2L211.2 55.9M209.5 54.2L226.6 56.0M224.5 54.2L242.2 56.0M239.5 54.2L257.3 56.0M254.5 54.2L271.7 56.0M269.4 54.2L285.9 55.9M284.4 54.2L301.7 56.0M299.4 54.2L318.2 56.1M314.4 54.2L333.4 56.1M329.4 54.2L348.7 56.2M344.3 54.2L363.7 56.2M359.3 54.2L378.7 56.2M374.3 54.2L394.3 56.3M389.3 54.2L409.8 56.3M404.3 54.2L425.0 56.3M419.2 54.2L439.8 56.3M434.2 54.2L454.6 56.3M449.2 54.2L468.5 56.2M464.2 54.2L483.2 56.1M479.2 54.2L498.1 56.1M494.1 54.2L512.1 56.0M509.1 54.2L526.9 56.0M524.1 54.2L541.8 56.0M539.1 54.2L556.7 56.0M44.7 50.5L63.3 52.4M59.7 50.5L78.3 52.4M74.7 50.5L93.4 52.4M89.7 50.5L107.6 52.3M104.7 50.5L121.0 52.1M119.6 50.5L135.1 52.1M134.6 50.5L149.4 52.0M149.6 50.5L164.2 52.0M164.6 50.5L180.5 52.1M179.6 50.5L197.1 52.3M194.5 50.5L211.0 52.1M209.5 50.5L226.5 52.2M224.5 50.5L242.2 52.3M239.5 50.5L257.3 52.3M254.5 50.5L271.6 52.2M269.4 50.5L285.8 52.1M284.4 50.5L301.9 52.3M299.4 50.5L318.5 52.4M314.4 50.5L333.7 52.4M329.4 50.5L348.7 52.4M344.3 50.5L363.7 52.4M359.3 50.5L378.7 52.4M374.3 50.5L394.5 52.5M389.3 50.5L410.1 52.6M404.3 50.5L425.2 52.6M419.2 50.5L440.1 52.6M434.2 50.5L454.8 52.6M449.2 50.5L468.7 52.4M464.2 50.5L483.5 52.4M479.2 50.5L498.4 52.4M494.1 50.5L512.1 52.3M509.1 50.5L526.9 52.3M524.1 50.5L541.9 52.3M539.1 50.5L556.8 52.3M44.7 46.8L63.3 48.6M59.7 46.8L78.3 48.6M74.7 46.8L93.3 48.6M89.7 46.8L107.5 48.5M104.7 46.8L121.0 48.4M119.6 46.8L135.1 48.3M134.6 46.8L149.3 48.2M149.6 46.8L164.2 48.2M164.6 46.8L180.5 48.3M179.6 46.8L197.1 48.5M194.5 46.8L210.9 48.4M209.5 46.8L226.4 48.4M224.5 46.8L242.2 48.5M239.5 46.8L257.3 48.5M254.5 46.8L271.5 48.5M269.4 46.8L285.7 48.4M284.4 46.8L302.0 48.5M299.4 46.8L318.6 48.7M314.4 46.8L333.8 48.7M329.4 46.8L348.7 48.7M344.3 46.8L363.7 48.7M359.3 46.8L378.7 48.7M374.3 46.8L394.5 48.8M389.3 46.8L410.2 48.8M404.3 46.8L425.2 48.8M419.2 46.8L440.2 48.8M434.2 46.8L454.9 48.8M449.2 46.8L468.7 48.7M464.2 46.8L483.6 48.7M479.2 46.8L498.5 48.7M494.1 46.8L512.1 48.5M509.1 46.8L526.9 48.5M524.1 46.8L541.9 48.5M539.1 46.8L556.9 48.5"/>
<path fill="#000" d="M60.8 222.2L64.8 221.3L61.1 219.5zM75.8 222.2L79.8 221.3L76.0 219.5zM90.7 222.2L94.7 221.3L91.0 219.5zM105.7 222.2L109.7 221.3L106.0 219.5zM120.7 222.2L124.7 221.3L121.0 219.5zM136.4 222.4L140.6 221.3L136.7 219.5zM152.2 222.5L156.7 221.5L152.5 219.5zM167.2 222.5L171.8 221.5L167.5 219.5zM182.2 222.5L186.8 221.5L182.5 219.5zM198.6 222.8L203.6 221.7L198.9 219.5zM213.7 222.9L218.9 221.7L214.1 219.5zM229.1 223.0L234.4 221.7L229.5 219.5zM243.8 222.9L248.9 221.7L244.1 219.5zM258.7 222.9L263.8 221.7L259.0 219.5zM273.7 222.9L278.8 221.7L274.0 219.5zM288.9 222.9L294.1 221.7L289.3 219.5zM303.7 222.9L308.8 221.7L304.0 219.5zM318.6 222.9L323.7 221.7L318.9 219.5zM332.9 222.7L337.8 221.6L333.2 219.5zM347.8 222.7L352.6 221.6L348.1 219.5zM362.1 222.6L366.7 221.5L362.4 219.5zM376.9 222.5L381.5 221.5L377.2 219.5zM391.9 222.5L396.5 221.5L392.2 219.5zM406.9 222.5L411.5 221.5L407.2 219.5zM421.9 222.5L426.4 221.5L422.2 219.5zM436.9 222.5L441.4 221.5L437.2 219.5zM451.8 222.5L456.4 221.5L452.1 219.5zM466.8 222.5L471.4 221.5L467.1 219.5zM482.5 222.7L487.3 221.6L482.8 219.5zM496.9 222.6L501.5 221.5L497.2 219.5zM511.8 222.5L516.3 221.5L512.1 219.5zM526.7 222.5L531.3 221.5L527.0 219.5zM539.6 222.1L543.4 221.2L539.9 219.5zM552.9 221.7L556.1 221.0L553.2 219.5zM567.7 221.7L570.9 220.9L567.9 219.5zM60.9 218.5L64.9 217.5L61.2 215.8zM75.9 218.5L79.9 217.5L76.1 215.8zM90.8 218.5L94.9 217.5L91.1 215.8zM105.8 218.5L109.9 217.5L106.1 215.8zM120.8 218.5L124.8 217.5L121.1 215.8zM136.5 218.6L140.8 217.6L136.8 215.8zM152.3 218.8L156.8 217.7L152.6 215.8zM167.3 218.8L171.9 217.7L167.6 215.8zM182.2 218.8L186.8 217.7L182.5 215.8zM198.6 219.1L203.6 217.9L198.9 215.8zM213.8 219.1L218.9 217.9L214.1 215.8zM229.2 219.2L234.5 218.0L229.5 215.8zM243.8 219.1L248.9 217.9L244.1 215.8zM258.7 219.1L263.8 217.9L259.0 215.8zM273.7 219.1L278.8 217.9L274.0 215.8zM289.0 219.2L294.2 218.0L289.3 215.8zM303.7 219.1L308.8 217.9L304.0 215.8zM318.6 219.1L323.7 217.9L318.9 215.8zM333.0 219.0L337.9 217.8L333.3 215.8zM347.9 219.0L352.7 217.8L348.2 215.8zM362.2 218.8L366.8 217.7L362.5 215.8zM377.1 218.8L381.7 217.7L377.4 215.8zM392.1 218.8L396.7 217.7L392.4 215.8zM407.0 218.8L411.6 217.7L407.3 215.8zM421.9 218.8L426.5 217.7L422.2 215.8zM436.9 218.8L441.4 217.7L437.2 215.8zM451.8 218.8L456.4 217.7L452.1 215.8zM466.8 218.8L471.4 217.7L467.1 215.8zM482.6 218.9L487.4 217.8L482.9 215.8zM497.0 218.8L501.6 217.7L497.3 215.8zM511.8 218.8L516.3 217.7L512.1 215.8zM526.8 218.8L531.4 217.7L527.1 215.8zM539.7 218.4L543.5 217.4L539.9 215.8zM553.0 218.0L556.2 217.2L553.2 215.8zM567.7 218.0L570.9 217.2L568.0 215.8zM61.6 214.9L65.8 213.9L61.9 212.0zM76.6 214.9L80.8 213.9L76.8 212.0zM91.5 214.9L95.8 213.9L91.8 212.0zM106.5 214.9L110.8 213.9L106.8 212.0zM121.5 214.9L125.8 213.9L121.8 212.0zM137.2 215.0L141.7 214.0L137.5 212.0zM153.1 215.2L157.9 214.1L153.4 212.0zM167.7 215.1L172.4 214.0L168.0 212.0zM182.3 215.0L186.8 214.0L182.6 212.0zM198.6 215.3L203.6 214.2L198.9 212.0zM214.0 215.4L219.2 214.2L214.3 212.0zM229.5 215.5L234.9 214.3L229.9 212.0zM243.8 215.4L249.0 214.2L244.2 212.0zM258.7 215.4L263.8 214.2L259.0 212.0zM273.7 215.4L278.8 214.2L274.0 212.0zM289.3 215.5L294.7 214.3L289.7 212.0zM303.7 215.4L308.9 214.2L304.1 212.0zM318.6 215.4L323.7 214.2L318.9 212.0zM333.4 215.3L338.5 214.2L333.8 212.0zM348.4 215.3L353.5 214.2L348.7 212.0zM363.0 215.3L368.0 214.1L363.4 212.0zM378.0 215.2L382.9 214.1L378.3 212.0zM393.0 215.2L397.9 214.1L393.3 212.0zM407.9 215.2L412.8 214.1L408.2 212.0zM422.0 215.1L426.6 214.0L422.3 212.0zM436.9 215.0L441.4 214.0L437.2 212.0zM451.8 215.0L456.4 214.0L452.1 212.0zM466.8 215.0L471.4 214.0L467.1 212.0zM483.0 215.3L488.0 214.1L483.3 212.0zM497.6 215.2L502.5 214.1L498.0 212.0zM511.9 215.1L516.5 214.0L512.2 212.0zM527.6 215.2L532.4 214.1L527.9 212.0zM540.1 214.7L544.0 213.7L540.3 212.0zM553.3 214.3L556.7 213.5L553.6 212.0zM567.8 214.2L570.9 213.4L568.0 212.0zM62.1 211.2L66.6 210.2L62.4 208.3zM77.1 211.2L81.5 210.2L77.4 208.3zM92.1 211.2L96.5 210.2L92.4 208.3zM107.0 211.2L111.5 210.2L107.3 208.3zM122.1 211.2L126.6 210.2L122.4 208.3zM137.7 211.4L142.4 210.3L138.0 208.3zM153.7 211.6L158.8 210.4L154.0 208.3zM168.0 211.4L172.8 210.3L168.3 208.3zM182.2 211.3L186.8 210.2L182.5 208.3zM198.6 211.6L203.6 210.4L198.9 208.3zM214.1 211.7L219.4 210.5L214.4 208.3zM229.7 211.8L235.2 210.6L230.1 208.3zM243.9 211.6L249.0 210.5L244.2 208.3zM258.7 211.6L263.8 210.4L259.0 208.3zM273.7 211.6L278.8 210.4L274.0 208.3zM289.7 211.8L295.1 210.6L290.0 208.3zM303.8 211.6L309.0 210.5L304.1 208.3zM318.6 211.6L323.7 210.4L318.9 208.3zM333.8 211.7L339.0 210.5L334.2 208.3zM348.8 211.7L354.0 210.5L349.2 208.3zM363.7 211.7L368.9 210.5L364.1 208.3zM378.7 211.7L383.9 210.5L379.1 208.3zM393.7 211.7L398.9 210.5L394.0 208.3zM408.7 211.7L413.8 210.5L409.0 208.3zM422.1 211.3L426.7 210.2L422.4 208.3zM436.9 211.3L441.4 210.2L437.2 208.3zM451.8 211.3L456.4 210.2L452.1 208.3zM466.8 211.3L471.4 210.2L467.1 208.3zM483.3 211.6L488.3 210.4L483.6 208.3zM498.1 211.6L503.2 210.4L498.5 208.3zM511.9 211.3L516.5 210.2L512.2 208.3zM528.1 211.6L533.2 210.4L528.5 208.3zM540.4 211.0L544.5 210.0L540.7 208.3zM553.6 210.6L557.1 209.8L553.9 208.3zM567.9 210.5L571.0 209.7L568.1 208.3zM61.6 207.4L65.8 206.4L61.9 204.5zM76.6 207.4L80.8 206.4L76.8 204.5zM91.5 207.4L95.8 206.4L91.8 204.5zM106.5 207.4L110.8 206.4L106.8 204.5zM121.8 207.4L126.2 206.4L122.1 204.5zM137.2 207.5L141.8 206.5L137.5 204.5zM153.1 207.7L157.9 206.6L153.4 204.5zM167.7 207.6L172.4 206.5L168.0 204.5zM181.9 207.5L186.4 206.4L182.2 204.5zM198.5 207.8L203.6 206.7L198.9 204.5zM214.0 207.9L219.2 206.7L214.3 204.5zM229.3 208.0L234.6 206.8L229.7 204.5zM243.8 207.9L248.9 206.7L244.1 204.5zM258.7 207.9L263.8 206.7L259.0 204.5zM273.7 207.9L278.8 206.7L274.0 204.5zM289.7 208.1L295.2 206.8L290.1 204.5zM303.8 207.9L309.0 206.7L304.1 204.5zM318.6 207.9L323.7 206.7L318.9 204.5zM333.4 207.8L338.5 206.7L333.8 204.5zM348.4 207.8L353.5 206.7L348.7 204.5zM363.4 207.8L368.4 206.7L363.7 204.5zM378.4 207.8L383.4 206.7L378.7 204.5zM393.3 207.8L398.4 206.7L393.7 204.5zM408.3 207.8L413.4 206.7L408.6 204.5zM422.1 207.6L426.7 206.5L422.4 204.5zM436.9 207.5L441.4 206.5L437.2 204.5zM451.8 207.5L456.4 206.5L452.1 204.5zM466.8 207.5L471.4 206.5L467.1 204.5zM482.6 207.7L487.5 206.6L483.0 204.5zM497.6 207.7L502.4 206.6L497.9 204.5zM511.9 207.6L516.5 206.5L512.2 204.5zM527.6 207.7L532.4 206.6L527.9 204.5zM540.4 207.3L544.5 206.3L540.7 204.5zM553.7 206.9L557.2 206.1L554.0 204.5zM568.2 206.8L571.5 206.0L568.4 204.5zM60.9 203.5L65.0 202.5L61.2 200.8zM75.9 203.5L80.0 202.5L76.2 200.8zM90.9 203.5L94.9 202.5L91.2 200.8zM105.9 203.5L109.9 202.5L106.2 200.8zM121.5 203.6L125.7 202.6L121.8 200.8zM136.6 203.6L140.9 202.6L136.9 200.8zM152.3 203.8L156.9 202.7L152.6 200.8zM167.3 203.8L171.9 202.7L167.6 200.8zM181.6 203.7L186.0 202.6L181.9 200.8zM198.5 204.1L203.5 202.9L198.8 200.8zM213.7 204.1L218.9 202.9L214.1 200.8zM228.8 204.1L233.9 202.9L229.1 200.8zM243.7 204.1L248.8 202.9L244.0 200.8zM258.6 204.1L263.7 202.9L259.0 200.8zM273.6 204.1L278.7 202.9L274.0 200.8zM289.7 204.3L295.2 203.1L290.0 200.8zM303.8 204.1L309.0 203.0L304.1 200.8zM318.6 204.1L323.7 202.9L318.9 200.8zM333.0 204.0L337.9 202.9L333.3 200.8zM347.9 204.0L352.7 202.8L348.2 200.8zM362.8 204.0L367.7 202.8L363.1 200.8zM377.8 204.0L382.6 202.8L378.1 200.8zM392.8 204.0L397.6 202.8L393.1 200.8zM407.7 204.0L412.6 202.8L408.0 200.8zM421.9 203.8L426.5 202.7L422.2 200.8zM436.8 203.8L441.3 202.7L437.1 200.8zM451.8 203.8L456.3 202.7L452.1 200.8zM466.7 203.8L471.2 202.7L467.0 200.8zM481.9 203.8L486.4 202.7L482.2 200.8zM496.8 203.8L501.4 202.7L497.1 200.8zM511.7 203.8L516.2 202.7L512.0 200.8zM526.8 203.8L531.4 202.7L527.1 200.8zM540.3 203.5L544.3 202.5L540.5 200.8zM553.7 203.2L557.2 202.3L554.0 200.8zM568.5 203.1L571.9 202.3L568.7 200.8zM60.8 199.7L64.8 198.8L61.1 197.0zM75.8 199.7L79.8 198.8L76.0 197.0zM90.7 199.7L94.7 198.8L91.0 197.0zM105.7 199.7L109.7 198.8L106.0 197.0zM121.2 199.8L125.4 198.8L121.5 197.0zM136.3 199.8L140.5 198.8L136.6 197.0zM152.1 200.0L156.6 199.0L152.4 197.0zM167.2 200.0L171.8 199.0L167.5 197.0zM181.7 199.9L186.1 198.9L182.0 197.0zM198.2 200.2L203.1 199.1L198.5 197.0zM213.3 200.3L218.3 199.1L213.7 197.0zM228.3 200.3L233.3 199.1L228.7 197.0zM243.2 200.3L248.1 199.1L243.5 197.0zM258.3 200.3L263.2 199.1L258.6 197.0zM273.3 200.3L278.3 199.1L273.6 197.0zM289.2 200.5L294.6 199.3L289.6 197.0zM303.7 200.4L308.9 199.2L304.1 197.0zM318.4 200.3L323.5 199.2L318.8 197.0zM332.7 200.2L337.5 199.1L333.0 197.0zM347.6 200.2L352.3 199.0L347.9 197.0zM362.2 200.1L366.9 199.0L362.5 197.0zM377.1 200.1L381.7 199.0L377.4 197.0zM392.0 200.1L396.6 199.0L392.3 197.0zM406.9 200.0L411.5 199.0L407.2 197.0zM421.2 199.9L425.5 198.9L421.5 197.0zM436.4 199.9L440.8 198.9L436.7 197.0zM451.3 199.9L455.6 198.9L451.6 197.0zM466.1 199.9L470.3 198.9L466.3 197.0zM481.0 199.9L485.3 198.9L481.3 197.0zM496.0 199.9L500.3 198.9L496.3 197.0zM511.0 199.9L515.2 198.9L511.3 197.0zM525.9 199.9L530.2 198.9L526.2 197.0zM539.9 199.7L543.8 198.7L540.1 197.0zM553.7 199.4L557.2 198.6L553.9 197.0zM60.8 196.0L64.8 195.0L61.1 193.3zM75.8 196.0L79.8 195.0L76.0 193.3zM90.7 196.0L94.7 195.0L91.0 193.3zM105.7 196.0L109.7 195.0L106.0 193.3zM121.1 196.0L125.2 195.1L121.3 193.3zM136.1 196.0L140.2 195.1L136.4 193.3zM152.1 196.3L156.6 195.2L152.4 193.3zM167.2 196.3L171.8 195.2L167.5 193.3zM181.9 196.2L186.3 195.2L182.1 193.3zM197.9 196.4L202.7 195.3L198.2 193.3zM213.0 196.5L217.8 195.3L213.3 193.3zM228.0 196.5L232.8 195.3L228.3 193.3zM242.7 196.4L247.4 195.3L243.0 193.3zM257.9 196.4L262.7 195.3L258.2 193.3zM272.9 196.5L277.8 195.3L273.2 193.3zM288.8 196.6L293.9 195.5L289.1 193.3zM303.7 196.6L308.8 195.4L304.0 193.3zM318.3 196.5L323.3 195.4L318.6 193.3zM332.5 196.4L337.3 195.3L332.8 193.3zM347.4 196.4L352.1 195.3L347.7 193.3zM361.7 196.2L366.2 195.2L362.0 193.3zM376.5 196.2L380.8 195.2L376.7 193.3zM391.4 196.2L395.8 195.1L391.7 193.3zM406.2 196.1L410.5 195.1L406.5 193.3zM420.5 196.0L424.5 195.0L420.7 193.3zM436.0 196.1L440.3 195.1L436.3 193.3zM450.7 196.1L454.9 195.1L451.0 193.3zM465.3 196.0L469.4 195.0L465.6 193.3zM480.3 196.0L484.3 195.0L480.5 193.3zM495.3 196.0L499.3 195.0L495.5 193.3zM510.2 196.0L514.2 195.0L510.5 193.3zM525.2 196.0L529.2 195.0L525.5 193.3zM539.5 195.8L543.2 194.9L539.7 193.3zM553.6 195.6L557.1 194.8L553.9 193.3zM60.8 192.2L64.8 191.3L61.1 189.5zM75.8 192.2L79.8 191.3L76.0 189.5zM90.7 192.2L94.7 191.3L91.0 189.5zM105.7 192.2L109.7 191.3L106.0 189.5zM120.9 192.2L124.9 191.3L121.1 189.5zM135.9 192.2L140.0 191.3L136.2 189.5zM152.1 192.5L156.6 191.4L152.4 189.5zM167.2 192.5L171.8 191.5L167.5 189.5zM182.0 192.5L186.5 191.4L182.3 189.5zM197.5 192.6L202.2 191.5L197.8 189.5zM212.6 192.6L217.3 191.5L212.9 189.5zM227.5 192.6L232.2 191.5L227.8 189.5zM242.1 192.5L246.7 191.5L242.4 189.5zM257.4 192.6L262.1 191.5L257.7 189.5zM272.5 192.6L277.2 191.5L272.8 189.5zM288.2 192.8L293.2 191.6L288.6 189.5zM303.6 192.9L308.7 191.7L303.9 189.5zM318.1 192.8L323.0 191.6L318.4 189.5zM332.3 192.6L337.0 191.5L332.6 189.5zM347.2 192.6L351.8 191.5L347.5 189.5zM361.1 192.4L365.4 191.4L361.4 189.5zM375.7 192.3L379.9 191.3L376.0 189.5zM390.7 192.3L394.8 191.3L391.0 189.5zM405.4 192.2L409.4 191.3L405.6 189.5zM419.6 192.1L423.4 191.2L419.9 189.5zM435.5 192.3L439.6 191.3L435.8 189.5zM450.1 192.2L454.1 191.2L450.4 189.5zM464.5 192.1L468.3 191.2L464.8 189.5zM479.4 192.0L483.1 191.1L479.7 189.5zM494.4 192.0L498.1 191.1L494.7 189.5zM509.4 192.0L513.1 191.1L509.6 189.5zM524.4 192.0L528.1 191.1L524.6 189.5zM539.0 192.0L542.6 191.1L539.2 189.5zM553.6 191.9L557.0 191.0L553.8 189.5zM60.7 188.4L64.7 187.5L61.0 185.8zM75.7 188.4L79.7 187.5L76.0 185.8zM90.7 188.4L94.7 187.5L91.0 185.8zM105.7 188.4L109.6 187.5L105.9 185.8zM120.7 188.5L124.7 187.5L121.0 185.8zM135.7 188.5L139.7 187.5L136.0 185.8zM152.0 188.7L156.5 187.7L152.3 185.8zM167.2 188.8L171.8 187.7L167.5 185.8zM182.2 188.8L186.7 187.7L182.5 185.8zM197.2 188.8L201.8 187.7L197.6 185.8zM212.2 188.8L216.8 187.7L212.5 185.8zM227.2 188.8L231.8 187.7L227.5 185.8zM241.6 188.7L246.0 187.7L241.9 185.8zM257.1 188.8L261.6 187.7L257.4 185.8zM272.2 188.8L276.7 187.7L272.5 185.8zM287.8 188.9L292.6 187.8L288.1 185.8zM303.4 189.1L308.5 187.9L303.8 185.8zM317.9 189.0L322.7 187.8L318.2 185.8zM332.1 188.8L336.7 187.7L332.4 185.8zM347.0 188.8L351.6 187.7L347.3 185.8zM360.7 188.5L364.8 187.5L361.0 185.8zM375.2 188.4L379.1 187.5L375.4 185.8zM390.1 188.4L394.0 187.5L390.4 185.8zM404.6 188.3L408.4 187.4L404.9 185.8zM418.9 188.2L422.4 187.3L419.1 185.8zM435.1 188.4L439.0 187.5L435.4 185.8zM449.6 188.3L453.4 187.4L449.9 185.8zM463.9 188.2L467.4 187.3L464.2 185.8zM478.8 188.2L482.3 187.3L479.1 185.8zM493.8 188.2L497.3 187.3L494.0 185.8zM508.7 188.2L512.2 187.3L508.9 185.8zM523.7 188.2L527.2 187.3L523.9 185.8zM538.6 188.1L542.1 187.3L538.9 185.8zM553.6 188.1L557.0 187.3L553.8 185.8zM60.3 184.6L64.2 183.7L60.6 182.0zM75.4 184.6L79.2 183.7L75.6 182.0zM90.3 184.6L94.2 183.7L90.6 182.0zM105.3 184.6L109.2 183.7L105.6 182.0zM120.3 184.6L124.2 183.7L120.6 182.0zM135.4 184.6L139.3 183.7L135.7 182.0zM151.5 184.9L155.8 183.9L151.8 182.0zM167.2 185.0L171.7 184.0L167.5 182.0zM182.2 185.0L186.8 184.0L182.5 182.0zM197.2 185.0L201.7 184.0L197.5 182.0zM212.2 185.0L216.7 184.0L212.5 182.0zM227.0 185.0L231.5 183.9L227.3 182.0zM241.3 184.9L245.5 183.9L241.6 182.0zM257.0 185.0L261.5 184.0L257.3 182.0zM272.1 185.0L276.6 184.0L272.4 182.0zM287.2 185.1L291.8 184.0L287.5 182.0zM302.7 185.2L307.5 184.1L303.0 182.0zM317.2 185.1L321.8 184.0L317.5 182.0zM331.8 185.0L336.3 183.9L332.1 182.0zM347.0 185.0L351.5 184.0L347.3 182.0zM360.6 184.7L364.6 183.8L360.9 182.0zM374.8 184.6L378.6 183.7L375.1 182.0zM389.5 184.5L393.2 183.6L389.8 182.0zM403.8 184.4L407.3 183.6L404.1 182.0zM418.1 184.3L421.4 183.5L418.4 182.0zM434.7 184.6L438.4 183.7L434.9 182.0zM449.3 184.5L453.0 183.6L449.6 182.0zM463.9 184.4L467.4 183.6L464.1 182.0zM478.9 184.4L482.5 183.6L479.2 182.0zM493.7 184.4L497.1 183.5L493.9 182.0zM508.3 184.3L511.6 183.5L508.5 182.0zM523.4 184.3L526.7 183.5L523.6 182.0zM538.5 184.4L542.0 183.5L538.8 182.0zM553.5 184.4L557.0 183.5L553.8 182.0zM59.9 180.8L63.6 179.9L60.2 178.3zM75.0 180.8L78.7 179.9L75.2 178.3zM90.0 180.8L93.7 179.9L90.2 178.3zM105.0 180.8L108.7 179.9L105.2 178.3zM120.0 180.8L123.7 179.9L120.3 178.3zM135.1 180.8L138.9 179.9L135.4 178.3zM151.1 181.0L155.2 180.1L151.3 178.3zM167.1 181.3L171.6 180.2L167.4 178.3zM182.2 181.3L186.8 180.2L182.5 178.3zM197.2 181.3L201.7 180.2L197.5 178.3zM212.2 181.3L216.7 180.2L212.5 178.3zM226.8 181.2L231.2 180.2L227.1 178.3zM241.0 181.1L245.2 180.1L241.3 178.3zM256.9 181.2L261.4 180.2L257.2 178.3zM272.1 181.3L276.6 180.2L272.4 178.3zM286.6 181.2L291.0 180.2L286.9 178.3zM301.9 181.3L306.4 180.2L302.2 178.3zM316.6 181.2L321.0 180.2L316.9 178.3zM331.6 181.2L336.0 180.2L331.9 178.3zM346.9 181.3L351.5 180.2L347.2 178.3zM360.6 181.0L364.6 180.0L360.9 178.3zM374.6 180.8L378.3 179.9L374.8 178.3zM389.1 180.7L392.6 179.8L389.3 178.3zM403.1 180.5L406.3 179.7L403.3 178.3zM417.5 180.4L420.5 179.6L417.7 178.3zM434.3 180.7L437.9 179.9L434.5 178.3zM449.1 180.7L452.7 179.9L449.4 178.3zM464.0 180.7L467.6 179.8L464.3 178.3zM479.2 180.7L482.9 179.9L479.5 178.3zM493.7 180.6L497.1 179.8L493.9 178.3zM507.9 180.5L511.1 179.7L508.2 178.3zM523.2 180.5L526.4 179.7L523.4 178.3zM538.5 180.6L541.9 179.8L538.8 178.3zM553.5 180.6L557.0 179.8L553.8 178.3zM57.0 176.4L59.6 175.7L57.2 174.6zM74.0 176.8L77.4 176.0L74.2 174.5zM89.6 177.0L93.1 176.1L89.8 174.5zM104.5 177.0L108.1 176.1L104.8 174.5zM119.6 177.0L123.2 176.1L119.9 174.5zM134.8 177.0L138.5 176.1L135.1 174.5zM150.5 177.2L154.4 176.2L150.8 174.5zM167.0 177.5L171.5 176.4L167.3 174.5zM182.2 177.5L186.8 176.5L182.5 174.5zM197.2 177.5L201.7 176.5L197.5 174.5zM212.2 177.5L216.7 176.5L212.5 174.5zM226.6 177.4L231.0 176.4L226.9 174.5zM240.7 177.2L244.7 176.3L241.0 174.5zM256.9 177.5L261.4 176.4L257.2 174.5zM272.1 177.5L276.6 176.5L272.4 174.5zM286.0 177.3L290.2 176.3L286.3 174.5zM301.0 177.3L305.2 176.3L301.3 174.5zM315.8 177.3L320.0 176.3L316.1 174.5zM331.3 177.4L335.6 176.4L331.6 174.5zM346.9 177.5L351.4 176.5L347.2 174.5zM360.6 177.2L364.6 176.3L360.8 174.5zM374.3 177.0L377.8 176.1L374.5 174.5zM388.6 176.8L391.9 176.0L388.8 174.5zM402.3 176.6L405.2 175.8L402.5 174.5zM416.8 176.5L419.5 175.8L417.0 174.6zM433.8 176.9L437.3 176.1L434.0 174.5zM448.9 176.9L452.4 176.1L449.1 174.5zM464.2 177.0L467.8 176.1L464.5 174.5zM479.5 177.1L483.3 176.2L479.8 174.5zM493.7 176.9L497.2 176.1L494.0 174.5zM507.6 176.7L510.6 175.9L507.8 174.5zM522.9 176.7L526.1 175.9L523.1 174.5zM538.5 176.9L541.9 176.0L538.7 174.5zM553.5 176.9L557.0 176.0L553.8 174.5zM54.0 172.0L55.6 171.6L54.1 170.8zM70.9 172.5L73.2 171.8L71.1 170.8zM88.0 172.9L91.0 172.1L88.2 170.8zM104.2 173.1L107.6 172.3L104.4 170.8zM119.3 173.2L122.8 172.3L119.5 170.8zM134.6 173.2L138.1 172.3L134.8 170.8zM150.0 173.3L153.8 172.4L150.3 170.8zM166.9 173.7L171.3 172.7L167.2 170.8zM182.1 173.8L186.6 172.7L182.4 170.8zM197.1 173.8L201.6 172.7L197.4 170.8zM212.0 173.8L216.6 172.7L212.3 170.8zM226.4 173.6L230.7 172.6L226.7 170.8zM240.4 173.4L244.3 172.5L240.6 170.8zM256.7 173.7L261.2 172.7L257.0 170.8zM271.9 173.8L276.5 172.7L272.2 170.8zM285.5 173.5L289.4 172.5L285.7 170.8zM300.3 173.4L304.2 172.5L300.5 170.8zM315.3 173.4L319.2 172.5L315.5 170.8zM331.1 173.6L335.3 172.6L331.3 170.8zM346.8 173.7L351.2 172.7L347.1 170.8zM360.5 173.5L364.5 172.5L360.7 170.8zM374.0 173.2L377.4 172.3L374.2 170.8zM388.1 173.0L391.3 172.2L388.3 170.8zM401.7 172.7L404.4 172.0L401.9 170.8zM416.2 172.6L418.7 171.9L416.4 170.8zM433.4 173.1L436.7 172.2L433.6 170.8zM448.7 173.1L452.1 172.3L448.9 170.8zM464.3 173.3L468.0 172.4L464.6 170.8zM479.8 173.4L483.6 172.4L480.0 170.8zM493.8 173.2L497.2 172.3L494.0 170.8zM507.3 172.9L510.2 172.1L507.5 170.8zM522.7 172.9L525.8 172.2L522.9 170.8zM538.5 173.1L541.9 172.3L538.7 170.8zM553.5 173.1L557.0 172.3L553.8 170.8zM568.6 173.1L572.0 172.3L568.8 170.8zM50.2 167.8L51.2 167.4L50.3 166.9zM67.4 168.0L68.5 167.6L67.5 167.1zM84.4 168.4L86.1 167.9L84.5 167.1zM101.4 168.8L103.9 168.2L101.6 167.1zM118.5 169.2L121.7 168.5L118.7 167.0zM134.2 169.4L137.6 168.5L134.4 167.0zM149.6 169.5L153.2 168.6L149.8 167.0zM166.0 169.8L170.2 168.8L166.3 167.0zM181.2 169.8L185.4 168.8L181.5 167.0zM196.3 169.9L200.5 168.8L196.6 167.0zM211.3 169.9L215.5 168.8L211.6 167.0zM225.7 169.7L229.8 168.8L226.0 167.0zM239.8 169.6L243.6 168.7L240.1 167.0zM255.9 169.8L260.1 168.8L256.2 167.0zM271.1 169.8L275.3 168.8L271.4 167.0zM284.8 169.6L288.6 168.7L285.1 167.0zM299.8 169.6L303.6 168.7L300.1 167.0zM315.0 169.6L318.8 168.7L315.2 167.0zM330.5 169.7L334.6 168.8L330.8 167.0zM345.9 169.8L350.1 168.8L346.2 167.0zM359.8 169.6L363.5 168.7L360.0 167.0zM373.4 169.3L376.6 168.5L373.6 167.0zM387.5 169.1L390.5 168.4L387.7 167.0zM401.3 168.9L403.9 168.2L401.5 167.1zM416.0 168.8L418.4 168.2L416.1 167.1zM433.0 169.2L436.2 168.4L433.2 167.0zM448.3 169.3L451.6 168.5L448.5 167.0zM464.1 169.5L467.7 168.6L464.4 167.0zM479.7 169.6L483.5 168.7L480.0 167.0zM493.7 169.4L497.2 168.6L494.0 167.0zM507.2 169.1L510.1 168.3L507.4 167.0zM522.5 169.2L525.6 168.4L522.7 167.0zM538.5 169.4L541.8 168.5L538.7 167.0zM553.5 169.4L557.0 168.5L553.8 167.0zM62.1 163.7L63.0 163.3L62.2 162.8zM81.1 164.1L82.1 163.7L81.2 163.2zM98.3 164.4L99.6 164.0L98.4 163.3zM115.3 164.8L117.4 164.3L115.5 163.3zM132.4 165.3L135.2 164.6L132.6 163.3zM149.2 165.6L152.6 164.8L149.4 163.3zM165.2 165.9L169.0 164.9L165.4 163.3zM180.3 165.9L184.2 165.0L180.6 163.3zM195.5 165.9L199.4 165.0L195.7 163.3zM210.5 165.9L214.4 165.0L210.7 163.3zM225.1 165.9L228.9 164.9L225.4 163.3zM239.3 165.7L242.9 164.8L239.6 163.3zM255.1 165.9L258.9 164.9L255.3 163.3zM270.2 165.9L274.0 165.0L270.4 163.3zM284.3 165.7L287.9 164.8L284.5 163.3zM299.5 165.8L303.1 164.9L299.7 163.3zM314.8 165.8L318.6 164.9L315.1 163.3zM330.0 165.9L333.9 165.0L330.3 163.3zM345.1 165.9L348.9 165.0L345.3 163.3zM359.0 165.7L362.5 164.8L359.2 163.3zM372.8 165.4L375.9 164.7L373.0 163.3zM387.1 165.3L389.9 164.6L387.3 163.3zM401.1 165.1L403.6 164.4L401.3 163.3zM415.8 165.0L418.2 164.4L416.0 163.3zM432.7 165.4L435.7 164.6L432.9 163.3zM447.9 165.5L451.1 164.7L448.1 163.3zM463.9 165.7L467.5 164.8L464.2 163.3zM479.6 165.8L483.4 164.9L479.9 163.3zM493.7 165.7L497.2 164.8L494.0 163.3zM507.2 165.3L510.1 164.6L507.4 163.3zM522.4 165.4L525.4 164.6L522.6 163.3zM538.4 165.6L541.8 164.8L538.7 163.3zM553.5 165.6L557.0 164.8L553.8 163.3zM92.8 160.0L93.7 159.7L92.9 159.1zM111.6 160.4L112.5 160.0L111.7 159.5zM128.7 160.8L130.2 160.3L128.8 159.6zM145.8 161.2L148.0 160.6L146.0 159.6zM162.9 161.6L165.9 160.9L163.1 159.5zM179.2 161.9L182.7 161.1L179.5 159.5zM194.5 162.0L198.1 161.1L194.8 159.5zM209.6 162.0L213.2 161.1L209.8 159.5zM224.4 162.0L227.9 161.1L224.6 159.5zM238.8 161.8L242.1 161.0L239.0 159.5zM254.1 161.9L257.6 161.1L254.3 159.5zM269.1 161.9L272.6 161.1L269.4 159.5zM283.7 161.8L287.0 161.0L283.9 159.5zM299.1 161.9L302.6 161.1L299.4 159.5zM314.7 162.0L318.4 161.2L314.9 159.5zM329.5 162.0L333.1 161.1L329.7 159.5zM344.1 161.9L347.6 161.1L344.3 159.5zM358.1 161.7L361.3 160.9L358.4 159.5zM372.1 161.5L375.0 160.8L372.3 159.5zM386.5 161.4L389.1 160.7L386.7 159.6zM400.9 161.3L403.3 160.6L401.0 159.6zM415.7 161.2L418.0 160.6L415.9 159.6zM432.3 161.6L435.2 160.8L432.5 159.5zM447.5 161.6L450.5 160.9L447.7 159.5zM463.7 161.9L467.1 161.0L463.9 159.5zM479.5 162.0L483.2 161.2L479.7 159.5zM493.7 161.9L497.2 161.1L494.0 159.5zM507.2 161.6L510.1 160.8L507.4 159.5zM522.2 161.6L525.1 160.8L522.4 159.5zM538.4 161.8L541.8 161.0L538.6 159.5zM553.5 161.9L557.0 161.0L553.8 159.5zM125.2 156.5L126.1 156.1L125.2 155.6zM142.5 156.8L143.6 156.4L142.6 155.8zM159.6 157.2L161.4 156.7L159.7 155.8zM176.8 157.7L179.4 157.0L177.0 155.8zM193.8 158.1L197.2 157.3L194.1 155.8zM208.9 158.1L212.2 157.3L209.1 155.8zM223.8 158.1L227.2 157.3L224.0 155.8zM238.4 158.0L241.6 157.2L238.6 155.8zM253.4 158.0L256.6 157.2L253.6 155.8zM268.3 158.0L271.5 157.2L268.5 155.8zM283.2 158.0L286.4 157.2L283.4 155.8zM298.8 158.1L302.2 157.3L299.1 155.8zM314.5 158.3L318.2 157.4L314.8 155.8zM328.9 158.1L332.4 157.3L329.2 155.8zM343.2 158.0L346.4 157.2L343.4 155.8zM357.4 157.8L360.3 157.1L357.6 155.8zM371.6 157.7L374.2 157.0L371.8 155.8zM386.0 157.6L388.5 156.9L386.2 155.8zM400.6 157.5L402.9 156.9L400.8 155.8zM415.6 157.5L417.9 156.9L415.7 155.8zM432.0 157.8L434.8 157.1L432.1 155.8zM447.2 157.8L450.1 157.1L447.4 155.8zM463.5 158.1L466.8 157.3L463.7 155.8zM479.3 158.3L482.9 157.4L479.5 155.8zM493.7 158.1L497.1 157.3L493.9 155.8zM507.2 157.8L510.1 157.1L507.4 155.8zM522.1 157.8L525.0 157.1L522.3 155.8zM538.4 158.1L541.8 157.3L538.6 155.8zM553.5 158.1L557.0 157.3L553.8 155.8zM136.6 152.4L137.5 152.0L136.7 151.5zM155.6 152.8L156.5 152.4L155.7 151.9zM173.0 153.1L174.2 152.7L173.1 152.1zM190.2 153.6L192.2 153.0L190.3 152.1zM207.4 154.0L210.3 153.3L207.6 152.0zM223.6 154.3L226.9 153.5L223.8 152.0zM238.4 154.3L241.7 153.5L238.6 152.0zM253.3 154.3L256.6 153.5L253.6 152.0zM268.0 154.2L271.1 153.4L268.2 152.0zM282.9 154.2L286.0 153.4L283.1 152.0zM298.6 154.3L301.9 153.5L298.8 152.0zM314.3 154.5L317.9 153.6L314.6 152.0zM328.2 154.2L331.3 153.4L328.4 152.0zM342.4 154.1L345.4 153.4L342.6 152.0zM356.8 154.0L359.5 153.3L357.0 152.1zM371.2 153.8L373.7 153.2L371.4 152.1zM385.7 153.7L388.0 153.1L385.9 152.1zM400.2 153.6L402.3 153.1L400.3 152.1zM415.3 153.7L417.6 153.1L415.5 152.1zM431.6 153.9L434.2 153.2L431.7 152.1zM447.1 154.0L449.9 153.3L447.3 152.0zM463.1 154.3L466.4 153.5L463.4 152.0zM478.8 154.4L482.2 153.6L479.0 152.0zM493.5 154.3L496.8 153.5L493.7 152.0zM507.2 154.1L510.1 153.3L507.4 152.0zM522.2 154.1L525.1 153.3L522.4 152.0zM538.4 154.3L541.8 153.5L538.6 152.0zM553.5 154.4L557.0 153.5L553.8 152.0zM167.8 148.8L168.8 148.4L167.9 147.9zM186.7 149.2L187.7 148.8L186.8 148.3zM204.0 149.6L205.6 149.1L204.1 148.3zM220.1 149.8L222.2 149.3L220.3 148.3zM236.1 150.0L238.6 149.4L236.3 148.3zM251.5 150.1L254.1 149.5L251.7 148.3zM265.0 149.8L267.0 149.3L265.2 148.3zM282.7 150.4L285.7 149.6L282.9 148.3zM298.4 150.5L301.7 149.7L298.6 148.3zM314.2 150.7L317.7 149.8L314.4 148.3zM327.4 150.3L330.4 149.6L327.6 148.3zM341.8 150.2L344.5 149.5L342.0 148.3zM356.4 150.1L358.9 149.5L356.5 148.3zM370.9 150.0L373.3 149.4L371.1 148.3zM385.4 149.9L387.7 149.3L385.6 148.3zM399.8 149.8L401.8 149.2L399.9 148.3zM415.1 149.9L417.3 149.3L415.3 148.3zM431.2 150.1L433.8 149.5L431.4 148.3zM447.0 150.3L449.8 149.6L447.2 148.3zM462.8 150.4L465.9 149.7L463.0 148.3zM478.2 150.5L481.5 149.7L478.5 148.3zM493.2 150.5L496.5 149.7L493.5 148.3zM507.2 150.3L510.1 149.6L507.4 148.3zM522.3 150.4L525.3 149.6L522.6 148.3zM538.4 150.6L541.8 149.8L538.7 148.3zM553.5 150.6L557.0 149.8L553.8 148.3zM199.7 145.2L200.7 144.9L199.8 144.3zM216.0 145.4L217.0 145.0L216.1 144.5zM232.2 145.5L233.2 145.1L232.2 144.6zM247.5 145.5L248.6 145.2L247.6 144.6zM261.0 145.4L262.0 145.0L261.1 144.5zM281.5 146.4L284.0 145.7L281.7 144.6zM298.2 146.7L301.4 145.9L298.4 144.5zM313.9 146.9L317.4 146.0L314.2 144.5zM326.6 146.4L329.2 145.7L326.8 144.6zM341.0 146.3L343.5 145.7L341.2 144.6zM355.8 146.3L358.2 145.6L356.0 144.6zM370.6 146.2L372.9 145.6L370.8 144.6zM385.1 146.1L387.3 145.5L385.3 144.6zM399.3 145.9L401.1 145.4L399.4 144.6zM414.9 146.1L416.9 145.5L415.0 144.6zM430.8 146.3L433.2 145.6L431.0 144.6zM447.0 146.5L449.8 145.8L447.2 144.5zM462.4 146.6L465.4 145.9L462.6 144.5zM477.6 146.7L480.7 145.9L477.8 144.5zM493.0 146.7L496.2 146.0L493.2 144.5zM507.1 146.6L510.0 145.8L507.3 144.5zM522.5 146.7L525.6 145.9L522.7 144.5zM538.5 146.9L541.8 146.0L538.7 144.5zM553.5 146.9L557.0 146.0L553.8 144.5zM211.6 141.2L212.6 140.8L211.7 140.3zM227.5 141.3L228.5 140.9L227.6 140.4zM242.8 141.3L243.7 140.9L242.9 140.4zM257.7 141.3L258.7 140.9L257.8 140.4zM279.7 142.3L281.7 141.7L279.9 140.8zM298.0 142.9L301.1 142.2L298.2 140.8zM313.0 142.9L316.1 142.2L313.2 140.8zM325.9 142.5L328.3 141.9L326.1 140.8zM340.4 142.4L342.6 141.8L340.6 140.8zM355.4 142.4L357.6 141.8L355.6 140.8zM370.3 142.4L372.5 141.8L370.5 140.8zM384.9 142.3L387.0 141.8L385.1 140.8zM399.0 142.1L400.7 141.6L399.1 140.8zM414.7 142.3L416.7 141.7L414.9 140.8zM430.6 142.5L432.9 141.9L430.7 140.8zM446.9 142.8L449.7 142.1L447.1 140.8zM462.2 142.8L465.1 142.1L462.4 140.8zM477.2 142.8L480.1 142.1L477.4 140.8zM492.8 143.0L495.9 142.2L493.0 140.8zM507.1 142.8L510.1 142.1L507.4 140.8zM522.7 142.9L525.7 142.2L522.9 140.8zM538.4 143.1L541.8 142.3L538.7 140.8zM553.5 143.1L556.9 142.3L553.7 140.8zM568.5 143.1L571.9 142.3L568.7 140.8zM241.5 137.4L242.5 137.0L241.6 136.5zM256.9 137.4L257.8 137.1L257.0 136.5zM278.4 138.2L279.9 137.8L278.5 137.1zM297.8 139.2L300.9 138.4L298.0 137.0zM311.7 138.9L314.4 138.2L311.9 137.1zM324.8 138.5L326.8 138.0L324.9 137.1zM339.0 138.4L340.7 137.9L339.2 137.1zM353.7 138.3L355.4 137.9L353.9 137.1zM369.2 138.4L371.0 137.9L369.4 137.1zM385.0 138.6L387.1 138.0L385.2 137.1zM399.3 138.4L401.1 137.9L399.4 137.1zM414.9 138.6L416.9 138.0L415.0 137.1zM430.7 138.7L433.0 138.1L430.8 137.1zM446.9 139.0L449.7 138.3L447.1 137.0zM462.3 139.1L465.2 138.3L462.5 137.0zM477.4 139.1L480.4 138.4L477.6 137.0zM493.0 139.2L496.1 138.4L493.2 137.0zM507.3 139.1L510.3 138.4L507.5 137.0zM522.6 139.2L525.6 138.4L522.8 137.0zM538.1 139.3L541.4 138.5L538.3 137.0zM553.1 139.3L556.4 138.5L553.4 137.0zM568.1 139.3L571.4 138.5L568.4 137.0zM277.7 134.3L278.9 134.0L277.8 133.3zM297.7 135.4L300.6 134.6L297.9 133.3zM310.6 134.9L312.8 134.3L310.7 133.3zM322.4 134.3L323.5 133.9L322.5 133.3zM337.3 134.3L338.5 133.9L337.4 133.3zM353.3 134.5L354.8 134.0L353.4 133.3zM368.7 134.6L370.3 134.1L368.9 133.3zM384.4 134.7L386.3 134.2L384.5 133.3zM399.7 134.8L401.7 134.2L399.8 133.3zM415.1 134.9L417.2 134.3L415.2 133.3zM430.8 135.0L433.2 134.4L431.0 133.3zM447.0 135.3L449.8 134.6L447.2 133.3zM462.4 135.4L465.4 134.6L462.6 133.3zM477.8 135.4L480.9 134.7L478.0 133.3zM493.2 135.5L496.4 134.7L493.4 133.3zM507.5 135.4L510.5 134.6L507.7 133.3zM522.4 135.4L525.4 134.6L522.6 133.3zM537.8 135.5L540.9 134.7L538.0 133.3zM552.8 135.5L555.9 134.7L553.0 133.3zM567.8 135.5L570.9 134.7L568.0 133.3zM241.6 129.9L242.5 129.6L241.6 129.0zM256.8 129.9L257.8 129.6L256.9 129.0zM277.8 130.6L279.0 130.2L277.9 129.6zM297.5 131.6L300.4 130.8L297.7 129.5zM309.4 131.0L311.3 130.4L309.6 129.6zM322.4 130.5L323.5 130.2L322.5 129.6zM337.3 130.5L338.5 130.2L337.4 129.6zM352.3 130.5L353.4 130.2L352.4 129.6zM368.7 130.8L370.3 130.4L368.9 129.6zM384.0 130.9L385.7 130.4L384.1 129.6zM400.1 131.1L402.3 130.6L400.3 129.6zM415.3 131.2L417.6 130.6L415.5 129.6zM431.0 131.3L433.5 130.7L431.2 129.6zM447.0 131.5L449.8 130.8L447.2 129.5zM462.6 131.7L465.7 130.9L462.8 129.5zM478.2 131.8L481.4 131.0L478.4 129.5zM493.4 131.8L496.7 131.0L493.6 129.5zM507.7 131.7L510.8 130.9L507.9 129.5zM522.2 131.6L525.2 130.9L522.5 129.5zM537.4 131.6L540.4 130.9L537.6 129.5zM552.4 131.6L555.4 130.9L552.6 129.5zM567.3 131.6L570.3 130.9L567.5 129.5zM211.7 126.2L212.6 125.8L211.8 125.3zM227.2 126.2L228.1 125.9L227.3 125.3zM242.4 126.2L243.3 125.9L242.5 125.3zM257.3 126.2L258.2 125.9L257.4 125.3zM278.7 127.0L280.3 126.6L278.8 125.8zM297.4 127.8L300.3 127.1L297.6 125.8zM310.6 127.4L312.8 126.8L310.7 125.8zM322.4 126.8L323.5 126.4L322.5 125.8zM337.3 126.8L338.5 126.4L337.4 125.8zM353.3 127.0L354.8 126.5L353.4 125.8zM368.7 127.1L370.3 126.6L368.9 125.8zM384.4 127.2L386.3 126.7L384.5 125.8zM400.6 127.5L402.9 126.9L400.7 125.8zM415.6 127.5L417.9 126.9L415.8 125.8zM431.3 127.6L433.8 127.0L431.5 125.8zM447.1 127.8L449.9 127.1L447.3 125.8zM462.8 127.9L465.9 127.2L463.0 125.8zM478.5 128.1L481.8 127.3L478.7 125.8zM493.6 128.1L497.0 127.3L493.8 125.8zM507.9 128.0L511.1 127.2L508.1 125.8zM522.2 127.8L525.1 127.1L522.4 125.8zM537.2 127.8L540.1 127.1L537.4 125.8zM552.1 127.8L555.0 127.1L552.3 125.8zM567.1 127.8L570.0 127.1L567.3 125.8zM181.8 122.4L182.7 122.1L181.9 121.5zM197.8 122.5L198.8 122.2L197.9 121.6zM215.0 122.8L216.0 122.4L215.1 121.9zM230.6 122.8L231.5 122.5L230.7 121.9zM245.4 122.8L246.3 122.4L245.5 121.9zM258.0 122.6L258.9 122.2L258.1 121.7zM280.5 123.7L282.7 123.1L280.7 122.1zM297.7 124.1L300.7 123.4L297.9 122.0zM311.9 124.0L314.6 123.3L312.1 122.1zM325.2 123.6L327.3 123.0L325.3 122.1zM339.4 123.4L341.2 122.9L339.5 122.1zM354.0 123.4L355.7 122.9L354.1 122.1zM369.5 123.5L371.3 123.0L369.6 122.1zM385.6 123.7L387.8 123.1L385.7 122.1zM401.2 123.8L403.7 123.2L401.4 122.1zM416.2 123.8L418.7 123.2L416.3 122.1zM431.8 124.0L434.6 123.3L432.0 122.1zM447.4 124.1L450.4 123.4L447.6 122.0zM463.0 124.2L466.2 123.4L463.2 122.0zM478.6 124.4L482.0 123.5L478.8 122.0zM493.6 124.4L497.0 123.5L493.9 122.0zM508.1 124.3L511.3 123.5L508.3 122.0zM522.6 124.2L525.7 123.4L522.9 122.0zM537.8 124.2L540.9 123.4L538.0 122.0zM552.6 124.2L555.7 123.4L552.8 122.0zM567.4 124.1L570.4 123.4L567.6 122.0zM151.4 118.6L152.4 118.3L151.5 117.7zM167.7 118.8L168.6 118.4L167.8 117.9zM185.7 119.1L186.6 118.7L185.8 118.2zM202.4 119.3L203.4 118.9L202.5 118.3zM218.3 119.5L219.8 119.0L218.5 118.3zM233.8 119.6L235.4 119.1L234.0 118.3zM248.6 119.5L250.2 119.1L248.8 118.3zM261.6 119.2L262.5 118.8L261.7 118.3zM282.6 120.4L285.6 119.6L282.8 118.3zM298.1 120.5L301.2 119.7L298.3 118.3zM313.0 120.4L316.1 119.7L313.2 118.3zM326.3 120.1L328.8 119.4L326.5 118.3zM341.0 120.0L343.4 119.4L341.2 118.3zM355.7 120.0L358.1 119.4L355.9 118.3zM371.1 120.1L373.5 119.4L371.2 118.3zM386.9 120.2L389.7 119.5L387.1 118.3zM401.8 120.2L404.5 119.5L402.0 118.3zM416.7 120.2L419.4 119.5L416.9 118.3zM432.4 120.4L435.3 119.6L432.6 118.3zM447.8 120.4L450.9 119.7L448.0 118.3zM463.2 120.5L466.5 119.7L463.4 118.3zM478.6 120.6L482.0 119.8L478.8 118.3zM493.6 120.6L497.0 119.8L493.9 118.3zM508.2 120.6L511.5 119.7L508.5 118.3zM523.2 120.5L526.4 119.7L523.4 118.3zM538.5 120.6L541.9 119.8L538.7 118.3zM553.1 120.5L556.4 119.7L553.4 118.3zM567.7 120.5L570.9 119.7L568.0 118.3zM121.4 114.9L122.3 114.5L121.5 114.0zM137.8 115.0L138.7 114.7L137.9 114.1zM155.7 115.3L156.7 115.0L155.8 114.4zM172.7 115.6L173.9 115.2L172.8 114.6zM189.3 115.9L191.1 115.4L189.5 114.6zM205.8 116.2L208.1 115.6L206.0 114.6zM221.8 116.4L224.4 115.7L222.0 114.6zM237.3 116.5L240.1 115.8L237.5 114.5zM251.9 116.4L254.5 115.8L252.0 114.6zM265.5 116.2L267.7 115.6L265.7 114.6zM283.3 116.8L286.6 116.0L283.6 114.5zM298.5 116.8L301.8 116.0L298.7 114.5zM313.6 116.8L317.0 116.0L313.9 114.5zM327.6 116.6L330.6 115.9L327.8 114.5zM342.9 116.7L346.0 115.9L343.1 114.5zM357.7 116.7L360.8 115.9L357.9 114.5zM373.0 116.7L376.1 115.9L373.2 114.5zM388.1 116.7L391.3 115.9L388.3 114.5zM402.4 116.6L405.4 115.9L402.6 114.5zM417.3 116.6L420.3 115.9L417.5 114.5zM433.0 116.7L436.2 115.9L433.2 114.5zM448.3 116.8L451.5 116.0L448.5 114.5zM463.4 116.8L466.8 116.0L463.7 114.5zM478.6 116.9L482.0 116.0L478.9 114.5zM493.6 116.9L497.0 116.0L493.9 114.5zM508.4 116.8L511.8 116.0L508.7 114.5zM523.7 116.9L527.2 116.1L524.0 114.5zM539.3 117.0L543.0 116.1L539.5 114.5zM553.8 116.9L557.3 116.1L554.0 114.5zM568.2 116.8L571.5 116.0L568.4 114.5zM107.7 111.3L108.6 110.9L107.7 110.4zM125.7 111.6L126.6 111.2L125.8 110.7zM142.4 111.7L143.5 111.4L142.5 110.8zM159.0 112.1L160.6 111.6L159.1 110.8zM175.7 112.4L177.9 111.8L175.9 110.8zM192.4 112.8L195.2 112.1L192.6 110.8zM206.8 112.7L209.5 112.0L207.0 110.8zM222.4 112.8L225.2 112.1L222.6 110.8zM237.5 112.8L240.3 112.1L237.7 110.8zM251.8 112.7L254.5 112.0L252.0 110.8zM267.4 112.8L270.2 112.1L267.6 110.8zM283.7 113.1L287.0 112.3L283.9 110.8zM298.9 113.1L302.3 112.3L299.1 110.8zM313.9 113.1L317.3 112.3L314.1 110.8zM328.7 113.1L332.0 112.3L328.9 110.8zM344.6 113.3L348.4 112.4L344.9 110.8zM359.5 113.3L363.1 112.4L359.7 110.8zM374.7 113.3L378.4 112.4L374.9 110.8zM388.9 113.1L392.3 112.3L389.1 110.8zM403.0 113.0L406.2 112.2L403.2 110.8zM417.9 113.0L421.0 112.2L418.1 110.8zM433.6 113.1L436.9 112.3L433.8 110.8zM448.7 113.1L452.1 112.3L448.9 110.8zM463.7 113.1L467.1 112.3L463.9 110.8zM478.6 113.1L482.1 112.3L478.9 110.8zM493.6 113.1L497.1 112.3L493.9 110.8zM508.6 113.1L512.1 112.3L508.9 110.8zM524.2 113.3L527.8 112.4L524.4 110.8zM539.9 113.4L543.8 112.5L540.2 110.8zM554.3 113.3L558.0 112.4L554.6 110.8zM568.6 113.1L572.0 112.3L568.8 110.8zM77.9 107.5L78.9 107.2L78.0 106.6zM96.2 107.9L97.2 107.5L96.3 107.0zM112.8 108.1L114.0 107.7L112.9 107.1zM129.4 108.4L131.1 107.9L129.5 107.1zM145.9 108.7L148.2 108.1L146.0 107.1zM162.4 109.0L165.2 108.3L162.6 107.0zM178.2 109.2L181.4 108.4L178.4 107.0zM192.9 109.1L195.9 108.4L193.1 107.0zM207.3 109.0L210.1 108.3L207.5 107.0zM222.7 109.1L225.7 108.4L222.9 107.0zM237.9 109.2L241.0 108.4L238.2 107.0zM252.4 109.1L255.3 108.3L252.6 107.0zM268.0 109.2L271.1 108.4L268.2 107.0zM284.0 109.4L287.4 108.5L284.2 107.0zM299.3 109.5L302.8 108.6L299.5 107.0zM314.3 109.5L317.8 108.6L314.5 107.0zM329.2 109.5L332.8 108.6L329.5 107.0zM345.6 109.7L349.7 108.8L345.9 107.0zM361.3 109.9L365.6 108.9L361.6 107.0zM375.8 109.8L380.0 108.8L376.1 107.0zM389.5 109.5L393.2 108.6L389.8 107.0zM403.6 109.4L407.0 108.5L403.9 107.0zM418.5 109.3L421.9 108.5L418.8 107.0zM434.2 109.5L437.8 108.6L434.4 107.0zM449.3 109.5L452.9 108.6L449.5 107.0zM463.9 109.4L467.4 108.6L464.1 107.0zM478.7 109.4L482.1 108.5L478.9 107.0zM493.8 109.4L497.3 108.6L494.0 107.0zM509.0 109.5L512.5 108.6L509.2 107.0zM524.3 109.5L528.0 108.6L524.6 107.0zM540.0 109.7L544.0 108.7L540.3 107.0zM554.6 109.6L558.4 108.7L554.8 107.0zM47.6 103.7L48.5 103.4L47.7 102.8zM66.3 104.1L67.2 103.8L66.4 103.2zM83.1 104.4L84.4 104.0L83.2 103.3zM99.6 104.7L101.4 104.2L99.7 103.3zM115.9 105.0L118.1 104.3L116.0 103.3zM132.4 105.3L135.2 104.6L132.6 103.3zM148.9 105.6L152.3 104.8L149.1 103.3zM164.0 105.6L167.4 104.8L164.2 103.3zM178.2 105.5L181.3 104.7L178.4 103.3zM193.2 105.5L196.3 104.7L193.4 103.3zM207.8 105.4L210.8 104.6L208.0 103.3zM223.1 105.4L226.2 104.7L223.3 103.3zM238.5 105.5L241.7 104.7L238.7 103.3zM253.2 105.5L256.3 104.7L253.4 103.3zM268.8 105.6L272.1 104.8L269.0 103.3zM284.2 105.7L287.8 104.8L284.5 103.3zM299.6 105.8L303.3 104.9L299.8 103.3zM314.6 105.8L318.3 104.9L314.9 103.3zM329.6 105.8L333.3 104.9L329.9 103.3zM346.0 106.1L350.2 105.1L346.2 103.3zM361.5 106.2L365.9 105.2L361.8 103.3zM376.2 106.1L380.5 105.1L376.5 103.3zM390.1 105.9L393.9 105.0L390.3 103.3zM404.2 105.7L407.8 104.9L404.4 103.3zM419.1 105.7L422.6 104.8L419.3 103.3zM434.8 105.8L438.6 104.9L435.0 103.3zM449.8 105.9L453.7 104.9L450.1 103.3zM464.1 105.7L467.7 104.9L464.4 103.3zM478.7 105.6L482.1 104.8L478.9 103.3zM494.0 105.7L497.5 104.8L494.2 103.3zM509.3 105.8L513.0 104.9L509.6 103.3zM524.4 105.8L528.1 104.9L524.6 103.3zM540.1 105.9L544.0 105.0L540.3 103.3zM554.8 105.9L558.6 105.0L555.0 103.3zM53.9 100.8L55.4 100.3L54.0 99.6zM70.6 101.1L72.7 100.5L70.7 99.6zM87.0 101.4L89.7 100.7L87.2 99.6zM103.3 101.7L106.4 100.9L103.5 99.5zM119.3 101.9L122.8 101.1L119.6 99.5zM135.8 102.2L139.8 101.3L136.1 99.5zM150.3 102.1L154.1 101.2L150.5 99.5zM163.9 101.8L167.2 101.0L164.1 99.5zM178.2 101.7L181.3 100.9L178.4 99.5zM193.6 101.8L196.9 101.0L193.8 99.5zM208.4 101.8L211.7 101.0L208.7 99.5zM223.6 101.8L226.8 101.0L223.8 99.5zM239.1 101.9L242.5 101.1L239.3 99.5zM254.0 101.9L257.4 101.0L254.2 99.5zM269.6 102.0L273.3 101.1L269.9 99.5zM284.5 102.0L288.2 101.1L284.8 99.5zM300.0 102.1L303.8 101.2L300.2 99.5zM315.0 102.1L318.9 101.2L315.3 99.5zM330.0 102.1L333.9 101.2L330.3 99.5zM346.4 102.4L350.7 101.4L346.7 99.5zM361.7 102.5L366.2 101.4L362.0 99.5zM376.6 102.5L381.0 101.4L376.9 99.5zM390.7 102.3L394.8 101.3L390.9 99.5zM404.8 102.1L408.6 101.2L405.1 99.5zM419.7 102.1L423.5 101.2L420.0 99.5zM435.4 102.2L439.4 101.3L435.7 99.5zM450.5 102.2L454.5 101.3L450.7 99.5zM464.4 102.0L468.1 101.1L464.6 99.5zM478.7 101.9L482.2 101.0L479.0 99.5zM494.2 102.0L497.8 101.1L494.4 99.5zM509.7 102.1L513.5 101.2L510.0 99.5zM524.4 102.1L528.2 101.2L524.7 99.5zM540.1 102.2L544.0 101.2L540.3 99.5zM554.9 102.2L558.9 101.2L555.2 99.5zM57.7 97.8L60.6 97.1L57.9 95.8zM74.2 98.1L77.6 97.3L74.4 95.8zM90.4 98.4L94.3 97.5L90.7 95.8zM105.7 98.5L109.7 97.5L106.0 95.8zM121.5 98.6L125.8 97.6L121.8 95.8zM136.4 98.6L140.6 97.6L136.6 95.8zM150.3 98.4L154.1 97.4L150.5 95.8zM163.7 98.1L167.0 97.2L164.0 95.8zM178.2 98.0L181.3 97.2L178.4 95.8zM193.9 98.1L197.3 97.3L194.1 95.8zM208.9 98.1L212.3 97.3L209.2 95.8zM224.0 98.1L227.4 97.3L224.2 95.8zM239.6 98.3L243.3 97.4L239.8 95.8zM254.7 98.3L258.3 97.4L254.9 95.8zM270.3 98.4L274.2 97.5L270.5 95.8zM284.8 98.3L288.5 97.4L285.0 95.8zM300.3 98.4L304.2 97.5L300.6 95.8zM315.4 98.4L319.4 97.5L315.7 95.8zM330.4 98.4L334.4 97.5L330.7 95.8zM346.7 98.7L351.2 97.7L347.0 95.8zM361.9 98.8L366.5 97.7L362.2 95.8zM376.9 98.8L381.4 97.7L377.2 95.8zM391.1 98.6L395.4 97.6L391.4 95.8zM405.4 98.5L409.4 97.5L405.6 95.8zM420.3 98.4L424.2 97.5L420.5 95.8zM435.9 98.6L440.2 97.6L436.2 95.8zM451.0 98.6L455.2 97.6L451.3 95.8zM464.6 98.3L468.4 97.4L464.9 95.8zM478.8 98.2L482.3 97.3L479.0 95.8zM494.3 98.3L498.0 97.4L494.6 95.8zM510.0 98.4L513.9 97.5L510.3 95.8zM524.5 98.3L528.2 97.4L524.7 95.8zM540.1 98.4L544.0 97.5L540.3 95.8zM555.1 98.4L559.1 97.5L555.4 95.8zM61.1 94.8L65.2 93.8L61.4 92.0zM74.9 94.5L78.6 93.6L75.2 92.0zM91.0 94.8L95.0 93.8L91.2 92.0zM106.2 94.8L110.4 93.8L106.5 92.0zM122.0 95.0L126.4 93.9L122.3 92.0zM136.5 94.9L140.8 93.9L136.8 92.0zM150.2 94.6L154.0 93.7L150.4 92.0zM163.5 94.3L166.8 93.5L163.7 92.0zM178.4 94.2L181.6 93.4L178.6 92.0zM194.3 94.4L197.8 93.6L194.5 92.0zM209.4 94.5L213.0 93.6L209.6 92.0zM224.4 94.5L228.0 93.6L224.6 92.0zM240.1 94.6L244.0 93.7L240.4 92.0zM255.2 94.6L259.1 93.7L255.5 92.0zM270.7 94.7L274.8 93.8L271.0 92.0zM285.0 94.6L288.8 93.7L285.3 92.0zM300.4 94.7L304.3 93.7L300.7 92.0zM315.8 94.8L319.9 93.8L316.1 92.0zM330.7 94.8L334.7 93.8L330.9 92.0zM347.0 95.0L351.5 94.0L347.3 92.0zM362.0 95.0L366.6 94.0L362.3 92.0zM376.9 95.0L381.5 94.0L377.2 92.0zM391.4 94.9L395.8 93.9L391.7 92.0zM405.8 94.8L410.0 93.8L406.1 92.0zM420.9 94.8L425.1 93.8L421.2 92.0zM436.6 95.0L441.0 93.9L436.9 92.0zM451.5 95.0L455.9 93.9L451.8 92.0zM464.9 94.6L468.7 93.7L465.1 92.0zM479.1 94.5L482.7 93.6L479.4 92.0zM494.5 94.6L498.3 93.7L494.8 92.0zM510.1 94.7L514.1 93.7L510.4 92.0zM524.6 94.6L528.4 93.7L524.9 92.0zM540.1 94.7L544.0 93.7L540.3 92.0zM555.1 94.7L559.1 93.8L555.4 92.0zM61.4 91.1L65.6 90.1L61.7 88.3zM75.5 90.9L79.3 90.0L75.7 88.3zM91.4 91.1L95.6 90.1L91.6 88.3zM106.7 91.2L111.0 90.1L107.0 88.3zM122.3 91.3L126.8 90.2L122.6 88.3zM136.5 91.1L140.8 90.1L136.8 88.3zM150.0 90.8L153.8 89.9L150.3 88.3zM163.3 90.5L166.5 89.7L163.5 88.3zM178.6 90.5L181.8 89.7L178.8 88.3zM194.7 90.8L198.3 89.9L194.9 88.3zM209.8 90.8L213.5 89.9L210.0 88.3zM224.8 90.8L228.5 89.9L225.0 88.3zM240.6 91.0L244.6 90.0L240.9 88.3zM255.7 91.0L259.8 90.0L256.0 88.3zM271.0 91.1L275.2 90.1L271.3 88.3zM285.2 90.9L289.1 90.0L285.5 88.3zM300.4 90.9L304.4 90.0L300.7 88.3zM316.1 91.1L320.3 90.1L316.4 88.3zM330.9 91.0L335.0 90.1L331.1 88.3zM347.2 91.3L351.8 90.2L347.5 88.3zM362.0 91.3L366.6 90.2L362.3 88.3zM376.9 91.3L381.5 90.2L377.2 88.3zM391.6 91.2L396.0 90.2L391.9 88.3zM406.1 91.1L410.4 90.1L406.4 88.3zM421.4 91.2L425.8 90.2L421.7 88.3zM437.1 91.3L441.8 90.3L437.4 88.3zM451.9 91.3L456.4 90.2L452.2 88.3zM465.1 90.9L469.0 90.0L465.3 88.3zM479.5 90.8L483.2 89.9L479.7 88.3zM494.8 90.9L498.6 89.9L495.0 88.3zM510.1 90.9L514.1 90.0L510.4 88.3zM524.8 90.9L528.7 90.0L525.1 88.3zM540.1 90.9L544.1 90.0L540.4 88.3zM555.1 91.0L559.1 90.0L555.4 88.3zM61.7 87.4L66.1 86.4L62.0 84.5zM76.1 87.3L80.2 86.3L76.3 84.5zM91.8 87.4L96.2 86.4L92.1 84.5zM107.3 87.5L111.8 86.5L107.6 84.5zM122.6 87.6L127.2 86.5L122.9 84.5zM136.4 87.4L140.7 86.4L136.7 84.5zM149.8 87.0L153.5 86.1L150.0 84.5zM163.3 86.7L166.4 85.9L163.5 84.5zM178.8 86.8L182.1 86.0L179.0 84.5zM195.1 87.1L198.8 86.2L195.3 84.5zM210.2 87.1L214.0 86.2L210.4 84.5zM225.2 87.1L229.0 86.2L225.4 84.5zM241.1 87.3L245.3 86.3L241.4 84.5zM256.3 87.4L260.5 86.4L256.6 84.5zM271.3 87.4L275.6 86.4L271.6 84.5zM285.4 87.2L289.4 86.2L285.7 84.5zM300.4 87.2L304.4 86.3L300.7 84.5zM316.5 87.4L320.8 86.4L316.8 84.5zM331.1 87.3L335.3 86.3L331.4 84.5zM347.4 87.6L352.1 86.5L347.7 84.5zM362.0 87.6L366.6 86.5L362.3 84.5zM376.9 87.5L381.5 86.5L377.2 84.5zM391.8 87.5L396.2 86.4L392.0 84.5zM406.5 87.5L411.0 86.4L406.8 84.5zM422.0 87.6L426.6 86.5L422.3 84.5zM437.8 87.7L442.6 86.6L438.1 84.5zM452.3 87.6L457.0 86.5L452.6 84.5zM465.3 87.2L469.3 86.3L465.6 84.5zM479.9 87.1L483.7 86.2L480.1 84.5zM495.0 87.2L498.9 86.2L495.2 84.5zM510.2 87.2L514.1 86.3L510.4 84.5zM525.0 87.2L528.9 86.2L525.3 84.5zM540.1 87.2L544.1 86.3L540.4 84.5zM555.1 87.2L559.1 86.3L555.4 84.5zM62.0 83.7L66.4 82.7L62.3 80.8zM76.5 83.6L80.8 82.6L76.8 80.8zM92.2 83.8L96.7 82.7L92.5 80.8zM107.7 83.9L112.5 82.8L108.1 80.8zM122.7 83.9L127.4 82.8L123.0 80.8zM136.3 83.6L140.5 82.6L136.6 80.8zM149.9 83.3L153.7 82.4L150.2 80.8zM163.5 83.0L166.7 82.2L163.7 80.8zM179.0 83.1L182.4 82.3L179.2 80.8zM195.4 83.4L199.3 82.5L195.7 80.8zM210.5 83.4L214.5 82.5L210.8 80.8zM225.5 83.5L229.5 82.5L225.8 80.8zM241.6 83.7L245.9 82.6L241.8 80.8zM256.7 83.7L261.1 82.7L257.0 80.8zM271.6 83.7L276.0 82.6L271.9 80.8zM285.6 83.5L289.7 82.5L285.9 80.8zM300.5 83.5L304.5 82.5L300.7 80.8zM316.7 83.7L321.2 82.7L317.0 80.8zM331.3 83.6L335.6 82.6L331.6 80.8zM347.6 83.9L352.3 82.8L347.9 80.8zM362.1 83.8L366.7 82.7L362.4 80.8zM377.0 83.8L381.6 82.7L377.3 80.8zM391.9 83.8L396.5 82.7L392.2 80.8zM406.9 83.8L411.4 82.7L407.2 80.8zM422.5 83.9L427.3 82.8L422.8 80.8zM438.2 84.1L443.3 82.9L438.6 80.8zM452.7 84.0L457.5 82.8L453.0 80.8zM465.6 83.5L469.7 82.5L465.8 80.8zM480.2 83.5L484.2 82.5L480.5 80.8zM495.2 83.5L499.2 82.5L495.5 80.8zM510.2 83.5L514.2 82.5L510.5 80.8zM525.2 83.5L529.2 82.5L525.4 80.8zM540.2 83.5L544.2 82.5L540.4 80.8zM555.2 83.5L559.2 82.5L555.4 80.8zM62.1 80.0L66.6 78.9L62.4 77.0zM76.8 79.9L81.2 78.9L77.1 77.0zM92.4 80.1L97.0 79.0L92.7 77.0zM108.3 80.2L113.2 79.1L108.6 77.0zM122.7 80.1L127.4 79.0L123.0 77.0zM136.0 79.8L140.2 78.8L136.3 77.0zM150.1 79.6L153.9 78.7L150.4 77.0zM163.8 79.3L167.2 78.5L164.1 77.0zM179.6 79.5L183.3 78.6L179.9 77.0zM195.9 79.8L199.9 78.8L196.1 77.0zM210.9 79.8L215.0 78.8L211.2 77.0zM226.0 79.8L230.1 78.8L226.2 77.0zM241.8 80.0L246.2 78.9L242.1 77.0zM256.9 80.0L261.3 78.9L257.2 77.0zM271.7 80.0L276.2 78.9L272.0 77.0zM285.8 79.8L289.9 78.8L286.1 77.0zM300.5 79.7L304.5 78.8L300.8 77.0zM316.8 80.0L321.3 78.9L317.1 77.0zM331.5 79.9L335.9 78.9L331.8 77.0zM347.8 80.2L352.6 79.1L348.1 77.0zM362.4 80.1L367.2 79.0L362.7 77.0zM377.3 80.1L382.0 79.0L377.6 77.0zM392.3 80.1L397.0 79.0L392.6 77.0zM407.3 80.1L412.0 79.0L407.6 77.0zM423.0 80.3L427.9 79.1L423.3 77.0zM438.4 80.4L443.5 79.2L438.7 77.0zM452.9 80.3L457.8 79.1L453.2 77.0zM466.1 79.9L470.4 78.9L466.4 77.0zM480.6 79.8L484.8 78.8L480.9 77.0zM495.6 79.8L499.7 78.8L495.9 77.0zM510.6 79.8L514.7 78.8L510.9 77.0zM525.6 79.8L529.7 78.8L525.8 77.0zM540.4 79.8L544.5 78.8L540.7 77.0zM555.4 79.8L559.5 78.8L555.7 77.0zM62.2 76.3L66.7 75.2L62.5 73.3zM77.0 76.2L81.4 75.2L77.3 73.3zM92.6 76.3L97.3 75.3L92.9 73.3zM108.7 76.6L113.7 75.4L109.0 73.3zM122.6 76.3L127.2 75.3L122.9 73.3zM135.8 76.0L139.8 75.0L136.0 73.3zM150.3 75.9L154.2 75.0L150.6 73.3zM164.2 75.7L167.7 74.8L164.4 73.3zM180.3 75.9L184.1 75.0L180.5 73.3zM196.3 76.1L200.5 75.1L196.5 73.3zM211.2 76.1L215.4 75.1L211.5 73.3zM226.3 76.1L230.6 75.1L226.6 73.3zM241.9 76.2L246.3 75.2L242.2 73.3zM256.9 76.3L261.4 75.2L257.2 73.3zM271.8 76.2L276.3 75.2L272.1 73.3zM286.0 76.1L290.2 75.1L286.3 73.3zM300.5 76.0L304.5 75.0L300.8 73.3zM316.8 76.2L321.3 75.2L317.1 73.3zM331.7 76.2L336.1 75.2L332.0 73.3zM348.0 76.5L352.8 75.3L348.3 73.3zM362.8 76.5L367.6 75.3L363.1 73.3zM377.7 76.4L382.5 75.3L378.0 73.3zM392.7 76.4L397.5 75.3L393.0 73.3zM407.7 76.4L412.5 75.3L408.0 73.3zM423.3 76.6L428.4 75.4L423.7 73.3zM438.4 76.6L443.6 75.4L438.8 73.3zM453.1 76.5L458.0 75.4L453.4 73.3zM466.6 76.2L471.0 75.2L466.9 73.3zM481.0 76.1L485.3 75.1L481.3 73.3zM496.0 76.1L500.2 75.1L496.3 73.3zM510.9 76.1L515.2 75.1L511.2 73.3zM525.9 76.1L530.2 75.1L526.2 73.3zM540.7 76.1L544.9 75.1L541.0 73.3zM555.7 76.1L559.8 75.1L555.9 73.3zM62.3 72.5L66.8 71.5L62.6 69.5zM77.2 72.5L81.7 71.4L77.5 69.5zM92.9 72.7L97.7 71.5L93.2 69.5zM109.0 72.9L114.1 71.7L109.3 69.5zM122.3 72.5L126.8 71.5L122.6 69.5zM135.7 72.2L139.8 71.3L136.0 69.5zM150.5 72.2L154.4 71.2L150.7 69.5zM164.6 72.0L168.2 71.1L164.8 69.5zM181.0 72.3L185.1 71.3L181.3 69.5zM196.7 72.4L201.1 71.4L197.0 69.5zM211.6 72.4L215.9 71.4L211.8 69.5zM226.7 72.4L231.1 71.4L227.0 69.5zM242.0 72.5L246.5 71.5L242.3 69.5zM257.0 72.5L261.6 71.5L257.3 69.5zM272.0 72.5L276.5 71.5L272.3 69.5zM286.2 72.4L290.4 71.3L286.5 69.5zM300.6 72.2L304.6 71.3L300.8 69.5zM316.8 72.5L321.3 71.4L317.1 69.5zM331.8 72.5L336.3 71.4L332.1 69.5zM348.2 72.8L353.1 71.6L348.5 69.5zM363.2 72.8L368.2 71.6L363.5 69.5zM378.1 72.8L383.1 71.6L378.5 69.5zM393.1 72.8L398.1 71.6L393.4 69.5zM408.1 72.8L413.1 71.6L408.4 69.5zM423.8 72.9L429.0 71.7L424.1 69.5zM438.5 72.9L443.6 71.7L438.8 69.5zM453.2 72.8L458.3 71.7L453.6 69.5zM467.2 72.6L471.8 71.5L467.5 69.5zM481.5 72.5L485.9 71.4L481.8 69.5zM496.4 72.5L500.8 71.4L496.7 69.5zM511.4 72.5L515.8 71.4L511.7 69.5zM526.3 72.5L530.8 71.4L526.6 69.5zM541.0 72.4L545.3 71.4L541.3 69.5zM556.0 72.4L560.2 71.4L556.2 69.5zM62.4 68.8L66.9 67.7L62.7 65.8zM77.3 68.8L81.9 67.7L77.6 65.8zM93.4 69.0L98.3 67.9L93.7 65.8zM108.8 69.1L113.9 67.9L109.1 65.8zM121.9 68.7L126.4 67.7L122.2 65.8zM135.7 68.5L139.7 67.5L136.0 65.8zM150.6 68.4L154.5 67.5L150.8 65.8zM164.9 68.3L168.6 67.4L165.1 65.8zM181.5 68.6L185.8 67.6L181.8 65.8zM197.1 68.8L201.6 67.7L197.4 65.8zM211.8 68.7L216.2 67.7L212.1 65.8zM227.0 68.8L231.5 67.7L227.3 65.8zM242.1 68.8L246.6 67.7L242.4 65.8zM257.1 68.8L261.6 67.7L257.4 65.8zM272.0 68.8L276.6 67.7L272.3 65.8zM286.3 68.6L290.6 67.6L286.6 65.8zM300.6 68.5L304.7 67.5L300.9 65.8zM316.9 68.8L321.4 67.7L317.2 65.8zM332.0 68.8L336.6 67.7L332.3 65.8zM348.3 69.1L353.4 67.9L348.7 65.8zM363.5 69.1L368.6 67.9L363.8 65.8zM378.4 69.1L383.5 67.9L378.8 65.8zM393.5 69.1L398.6 67.9L393.8 65.8zM408.5 69.1L413.6 67.9L408.8 65.8zM424.1 69.2L429.5 68.0L424.5 65.8zM438.6 69.1L443.7 68.0L438.9 65.8zM453.4 69.1L458.5 67.9L453.8 65.8zM467.6 69.0L472.5 67.8L467.9 65.8zM481.9 68.8L486.4 67.7L482.2 65.8zM496.8 68.8L501.3 67.7L497.1 65.8zM511.7 68.8L516.2 67.7L512.0 65.8zM526.7 68.8L531.2 67.7L527.0 65.8zM541.3 68.7L545.6 67.7L541.6 65.8zM556.2 68.7L560.6 67.6L556.5 65.8zM62.6 65.1L67.2 64.0L62.9 62.0zM78.0 65.2L82.8 64.1L78.3 62.0zM93.8 65.3L98.8 64.2L94.1 62.0zM108.4 65.3L113.3 64.1L108.7 62.0zM121.5 64.9L125.8 63.9L121.8 62.0zM135.5 64.7L139.5 63.7L135.8 62.0zM150.3 64.6L154.1 63.7L150.5 62.0zM164.7 64.5L168.4 63.6L165.0 62.0zM181.3 64.9L185.6 63.8L181.6 62.0zM197.1 65.0L201.6 64.0L197.4 62.0zM211.6 64.9L216.0 63.9L211.9 62.0zM226.9 65.0L231.4 63.9L227.2 62.0zM242.1 65.0L246.6 64.0L242.4 62.0zM257.1 65.0L261.7 64.0L257.4 62.0zM271.9 65.0L276.4 63.9L272.2 62.0zM286.2 64.9L290.4 63.8L286.5 62.0zM300.9 64.8L305.0 63.8L301.2 62.0zM317.2 65.1L321.8 64.0L317.5 62.0zM332.4 65.1L337.1 64.0L332.7 62.0zM348.4 65.3L353.5 64.2L348.7 62.0zM363.5 65.4L368.7 64.2L363.9 62.0zM378.5 65.4L383.6 64.2L378.9 62.0zM393.7 65.4L398.9 64.2L394.1 62.0zM408.9 65.4L414.1 64.2L409.2 62.0zM424.4 65.6L429.8 64.3L424.7 62.0zM438.9 65.5L444.2 64.2L439.3 62.0zM453.7 65.4L459.0 64.2L454.1 62.0zM467.9 65.3L472.9 64.1L468.2 62.0zM482.3 65.1L487.0 64.0L482.6 62.0zM497.2 65.1L501.9 64.0L497.5 62.0zM511.8 65.0L516.4 64.0L512.1 62.0zM526.7 65.0L531.3 64.0L527.0 62.0zM541.4 65.0L545.9 63.9L541.7 62.0zM556.3 65.0L560.8 63.9L556.6 62.0zM62.7 61.4L67.4 60.3L63.1 58.3zM78.5 61.5L83.4 60.4L78.8 58.3zM93.9 61.6L99.0 60.4L94.2 58.3zM107.9 61.4L112.7 60.3L108.2 58.3zM121.1 61.0L125.3 60.1L121.4 58.3zM135.4 60.9L139.3 60.0L135.6 58.3zM149.9 60.8L153.7 59.9L150.2 58.3zM164.5 60.7L168.1 59.9L164.8 58.3zM181.0 61.0L185.1 60.1L181.3 58.3zM197.1 61.3L201.6 60.2L197.4 58.3zM211.3 61.1L215.6 60.1L211.6 58.3zM226.7 61.2L231.1 60.2L227.0 58.3zM242.1 61.3L246.6 60.2L242.4 58.3zM257.1 61.3L261.7 60.2L257.4 58.3zM271.8 61.2L276.2 60.2L272.0 58.3zM286.0 61.1L290.2 60.1L286.3 58.3zM301.2 61.1L305.4 60.1L301.5 58.3zM317.6 61.4L322.3 60.3L317.9 58.3zM332.8 61.4L337.6 60.3L333.1 58.3zM348.5 61.6L353.5 60.4L348.8 58.3zM363.5 61.6L368.7 60.4L363.9 58.3zM378.5 61.6L383.6 60.4L378.9 58.3zM393.9 61.7L399.2 60.5L394.3 58.3zM409.2 61.8L414.6 60.5L409.6 58.3zM424.6 61.8L430.1 60.6L424.9 58.3zM439.3 61.8L444.7 60.5L439.6 58.3zM454.0 61.7L459.4 60.5L454.4 58.3zM468.1 61.6L473.1 60.4L468.4 58.3zM482.6 61.5L487.5 60.3L482.9 58.3zM497.5 61.4L502.4 60.3L497.9 58.3zM511.9 61.3L516.4 60.2L512.2 58.3zM526.7 61.3L531.3 60.2L527.0 58.3zM541.5 61.2L546.0 60.2L541.8 58.3zM556.5 61.2L560.9 60.2L556.8 58.3zM63.0 57.7L67.7 56.5L63.3 54.5zM78.3 57.7L83.2 56.6L78.6 54.5zM93.6 57.8L98.6 56.6L93.9 54.5zM107.6 57.6L112.2 56.5L107.9 54.5zM121.0 57.3L125.1 56.3L121.3 54.5zM135.2 57.1L139.0 56.2L135.4 54.5zM149.5 57.0L153.1 56.1L149.8 54.5zM164.3 56.9L167.8 56.1L164.5 54.5zM180.7 57.2L184.7 56.3L180.9 54.5zM197.0 57.5L201.5 56.4L197.3 54.5zM211.0 57.3L215.2 56.3L211.3 54.5zM226.5 57.4L230.8 56.4L226.8 54.5zM242.0 57.5L246.6 56.5L242.3 54.5zM257.1 57.5L261.7 56.5L257.4 54.5zM271.6 57.4L275.9 56.4L271.9 54.5zM285.8 57.3L289.9 56.3L286.1 54.5zM301.5 57.4L305.9 56.4L301.8 54.5zM318.0 57.7L322.9 56.6L318.3 54.5zM333.2 57.8L338.2 56.6L333.5 54.5zM348.5 57.9L353.6 56.7L348.8 54.5zM363.5 57.9L368.7 56.7L363.9 54.5zM378.5 57.9L383.6 56.7L378.9 54.5zM394.1 58.0L399.5 56.8L394.5 54.5zM409.6 58.1L415.1 56.8L410.0 54.5zM424.8 58.1L430.4 56.9L425.2 54.5zM439.7 58.1L445.2 56.8L440.0 54.5zM454.4 58.1L459.9 56.8L454.8 54.5zM468.3 57.9L473.4 56.7L468.7 54.5zM483.0 57.8L488.0 56.6L483.3 54.5zM498.0 57.8L502.9 56.6L498.3 54.5zM511.9 57.6L516.5 56.5L512.2 54.5zM526.7 57.5L531.3 56.5L527.0 54.5zM541.6 57.5L546.1 56.5L541.9 54.5zM556.6 57.5L561.1 56.5L556.9 54.5zM63.1 53.9L67.9 52.8L63.4 50.8zM78.1 53.9L82.9 52.8L78.4 50.8zM93.2 54.0L98.1 52.8L93.5 50.8zM107.4 53.8L112.0 52.7L107.7 50.8zM120.9 53.5L125.0 52.5L121.2 50.8zM135.0 53.3L138.8 52.4L135.3 50.8zM149.2 53.2L152.7 52.3L149.5 50.8zM164.1 53.1L167.6 52.3L164.4 50.8zM180.4 53.4L184.3 52.5L180.6 50.8zM197.0 53.7L201.5 52.7L197.3 50.8zM210.8 53.5L214.9 52.5L211.1 50.8zM226.3 53.6L230.6 52.6L226.6 50.8zM242.0 53.8L246.5 52.7L242.3 50.8zM257.1 53.8L261.7 52.7L257.4 50.8zM271.4 53.6L275.8 52.6L271.7 50.8zM285.6 53.5L289.7 52.5L285.9 50.8zM301.8 53.7L306.2 52.7L302.1 50.8zM318.3 54.1L323.3 52.9L318.6 50.8zM333.5 54.1L338.6 52.9L333.8 50.8zM348.6 54.1L353.7 52.9L348.9 50.8zM363.5 54.1L368.7 52.9L363.9 50.8zM378.5 54.1L383.6 52.9L378.9 50.8zM394.3 54.3L399.7 53.0L394.6 50.8zM409.9 54.4L415.5 53.1L410.3 50.8zM425.0 54.4L430.7 53.1L425.4 50.8zM440.0 54.4L445.6 53.1L440.3 50.8zM454.7 54.4L460.2 53.1L455.0 50.8zM468.5 54.1L473.7 52.9L468.9 50.8zM483.3 54.1L488.4 52.9L483.6 50.8zM498.3 54.1L503.4 52.9L498.6 50.8zM511.9 53.8L516.6 52.7L512.2 50.8zM526.7 53.8L531.3 52.7L527.0 50.8zM541.7 53.8L546.3 52.7L542.0 50.8zM556.7 53.8L561.2 52.7L557.0 50.8zM63.2 50.2L68.0 49.1L63.5 47.0zM78.1 50.2L83.0 49.1L78.5 47.0zM93.1 50.2L97.9 49.1L93.4 47.0zM107.4 50.1L112.0 49.0L107.7 47.0zM120.9 49.7L124.9 48.8L121.2 47.0zM135.0 49.6L138.7 48.7L135.2 47.0zM149.2 49.4L152.6 48.6L149.4 47.0zM164.1 49.4L167.5 48.5L164.3 47.0zM180.3 49.6L184.2 48.7L180.6 47.0zM197.0 50.0L201.5 48.9L197.3 47.0zM210.8 49.7L214.8 48.8L211.0 47.0zM226.3 49.9L230.5 48.8L226.6 47.0zM242.0 50.0L246.5 49.0L242.3 47.0zM257.1 50.0L261.7 49.0L257.4 47.0zM271.4 49.9L275.7 48.9L271.7 47.0zM285.6 49.7L289.6 48.8L285.9 47.0zM301.8 50.0L306.3 48.9L302.1 47.0zM318.4 50.3L323.4 49.2L318.7 47.0zM333.6 50.4L338.7 49.2L333.9 47.0zM348.6 50.4L353.7 49.2L348.9 47.0zM363.5 50.4L368.7 49.2L363.9 47.0zM378.5 50.4L383.7 49.2L378.9 47.0zM394.3 50.5L399.8 49.3L394.7 47.0zM410.0 50.7L415.6 49.4L410.4 47.0zM425.0 50.7L430.7 49.4L425.4 47.0zM440.0 50.7L445.7 49.4L440.4 47.0zM454.7 50.6L460.3 49.4L455.1 47.0zM468.6 50.4L473.7 49.2L468.9 47.0zM483.4 50.4L488.5 49.2L483.7 47.0zM498.4 50.4L503.5 49.2L498.7 47.0zM511.9 50.1L516.6 49.0L512.3 47.0zM526.7 50.0L531.3 49.0L527.0 47.0zM541.7 50.0L546.3 49.0L542.0 47.0zM556.7 50.0L561.3 49.0L557.0 47.0z"/>
</g>
<rect x="291.8" y="72.8" width="221.1" height="120.6" fill="none" stroke="#000" stroke-width="1.7"/>
<circle cx="411.0" cy="132.5" r="6.5" fill="#000"/>
<rect x="45" y="43.2" width="521.5" height="180.0" fill="none" stroke="#4a4a4a" stroke-width="1.5"/>
<path stroke="#222" stroke-width="1" d="M111.4 223.2v-4M186.3 223.2v-4M261.2 223.2v-4M336.1 223.2v-4M411.0 223.2v-4M485.9 223.2v-4M560.8 223.2v-4M45.5 193.0h4M45.5 163.0h4M45.5 133.0h4M45.5 103.0h4M45.5 73.0h4"/>
<text x="39.5" y="197.5" text-anchor="end" class="t">-4</text>
<text x="39.5" y="167.5" text-anchor="end" class="t">-2</text>
<text x="39.5" y="137.5" text-anchor="end" class="t">0</text>
<text x="39.5" y="107.5" text-anchor="end" class="t">2</text>
<text x="39.5" y="77.5" text-anchor="end" class="t">4</text>
<clipPath id="c2"><rect x="45.5" y="238.0" width="521.0" height="172.5"/></clipPath>
<g clip-path="url(#c2)">
<rect x="45.5" y="238.0" width="521.0" height="172.5" fill="#0000f5"/>
<path fill="#005af0" fill-rule="evenodd" d="M567.8 411.9L44.2 411.9L44.2 359.6L139.8 345.5L203.2 336.5L231.2 333.7L250.8 333.9L253.7 334.8L255.8 334.8L260.2 334.8L262.2 334.3L262.8 334.9L263.8 334.8L265.3 334.2L266.8 333.2L269.8 330.2L271.8 326.8L271.8 324.8L271.8 323.2L271.2 322.1L269.3 319.2L266.2 316.7L264.2 315.7L261.9 315.2L238.8 314.2L223.8 315.1L201.2 315.0L75.2 298.0L65.8 296.0L44.2 293.0L44.1 236.8L83.8 236.5L567.8 236.5L568.0 236.8L567.9 411.8L567.8 411.9Z"/>
<path fill="#00bcee" fill-rule="evenodd" d="M567.8 411.9L44.2 411.8L44.2 362.9L66.2 359.6L69.6 357.8L74.2 356.4L201.2 338.4L231.2 335.6L256.8 336.2L262.2 336.1L262.6 336.8L263.2 337.0L266.8 335.7L269.9 333.2L273.2 328.2L273.7 326.8L273.9 324.8L273.5 322.8L272.9 321.2L269.5 316.8L266.2 314.4L262.8 313.3L238.8 312.0L231.2 312.5L223.8 312.6L216.2 312.1L201.2 312.2L171.2 308.2L147.2 305.7L117.2 302.2L74.2 296.8L71.2 296.2L69.2 295.2L67.8 293.9L67.0 292.2L66.2 289.5L44.2 286.4L44.2 236.8L83.8 236.5L567.8 236.6L567.8 411.9Z"/>
<path fill="#00f0e0" fill-rule="evenodd" d="M567.8 411.8L44.2 411.8L44.2 366.2L66.2 363.0L67.8 361.2L69.6 359.8L71.8 358.6L74.2 357.6L201.2 340.1L231.2 337.4L260.8 338.3L262.8 338.1L263.2 339.0L267.2 337.7L270.8 335.2L273.1 332.2L275.6 327.2L277.7 325.8L278.0 324.8L277.3 323.8L275.6 322.8L272.8 317.6L270.2 314.7L266.8 312.4L262.8 311.3L238.8 310.0L231.2 310.5L224.8 310.3L216.2 309.3L201.2 309.3L171.2 305.3L152.2 304.0L124.2 301.4L79.2 296.3L73.8 295.7L70.8 295.0L68.8 293.2L67.7 291.2L67.1 288.8L66.2 282.7L44.2 279.7L44.2 236.8L84.2 236.5L567.8 236.6L567.8 411.8Z"/>
<path fill="#00cc96" fill-rule="evenodd" d="M567.8 411.8L82.2 411.8L81.5 404.2L80.4 399.2L80.3 396.2L79.9 395.2L79.8 392.8L79.4 391.8L79.3 389.2L78.3 384.2L78.3 382.2L77.9 381.2L77.3 375.8L76.9 374.2L76.8 372.2L76.4 370.8L76.4 363.8L75.9 361.2L75.9 359.2L76.2 358.6L141.2 349.7L201.2 341.8L231.2 339.3L260.8 340.3L262.8 340.1L263.4 340.2L263.8 341.0L267.2 339.9L270.3 338.2L272.1 336.8L273.8 334.9L276.2 330.5L280.2 329.6L283.4 328.2L285.3 326.8L285.9 325.8L286.0 324.8L285.3 323.2L283.2 321.6L280.8 320.6L276.0 319.2L273.2 314.9L269.8 311.8L266.8 310.3L263.2 309.4L238.8 308.0L230.2 308.4L223.8 307.9L216.2 306.4L201.2 306.4L171.2 302.4L154.2 301.9L128.2 300.1L107.2 298.2L74.8 294.7L74.2 294.5L74.2 293.8L74.5 291.8L75.0 283.2L75.4 280.8L75.3 270.2L74.9 268.2L74.8 262.4L71.8 263.6L68.2 264.0L64.8 263.5L61.8 262.1L59.2 259.9L57.6 257.2L57.0 254.2L57.4 251.2L58.4 249.2L60.0 247.2L62.0 245.8L64.2 244.7L66.8 244.1L69.2 244.0L71.8 244.4L74.2 245.3L74.3 236.8L76.2 236.6L567.8 236.7L567.8 305.0L560.2 304.9L549.2 303.1L547.2 303.3L545.8 305.0L544.8 307.6L543.3 313.8L542.8 317.2L543.3 319.8L544.8 323.7L545.8 325.4L547.2 326.6L549.8 326.9L567.8 326.9L567.8 411.8ZM327.1 327.2L333.0 326.2L337.2 324.7L338.7 323.8L339.6 322.8L340.0 321.8L339.6 320.2L338.7 319.2L337.1 318.2L333.0 316.8L327.2 315.8L321.2 315.5L315.2 315.9L309.8 317.1L306.0 318.8L304.8 319.8L304.1 320.8L304.1 322.2L305.3 323.8L307.2 324.9L310.2 326.0L313.8 326.8L318.2 327.4L322.8 327.5L327.1 327.2Z"/>
<path fill="#06a032" fill-rule="evenodd" d="M528.8 411.8L295.8 411.8L295.2 410.8L291.8 407.2L290.2 406.6L288.2 406.4L83.2 406.1L82.8 405.7L81.5 402.2L80.8 398.8L80.2 392.8L77.9 377.8L77.8 375.8L76.9 370.2L76.9 363.8L76.4 361.2L76.8 359.8L141.2 351.2L201.2 343.5L231.2 341.1L260.8 342.3L263.2 342.1L263.8 343.0L267.8 341.9L271.2 340.0L274.2 337.4L276.8 333.9L277.2 333.6L284.8 332.1L287.8 331.1L290.4 329.8L291.8 328.8L293.2 327.2L293.8 326.2L294.0 324.8L293.5 323.2L292.9 322.2L290.2 320.2L287.3 318.8L284.2 317.8L276.8 316.4L274.2 313.0L271.0 310.2L267.2 308.3L263.2 307.3L238.8 306.0L231.2 306.4L223.8 305.5L216.2 303.5L201.2 303.6L171.2 299.6L154.2 299.6L128.2 298.4L107.2 296.8L75.2 293.8L75.0 293.2L75.7 286.8L75.6 283.2L76.0 281.2L75.8 270.2L75.4 267.8L75.3 248.2L74.8 245.8L74.8 236.8L398.2 236.6L567.8 236.7L567.8 265.0L548.8 265.0L546.2 265.3L544.3 266.2L542.8 267.7L541.2 270.0L540.4 272.2L540.1 274.8L539.9 287.2L537.7 301.2L536.2 316.8L536.9 323.2L538.9 333.8L540.0 347.2L540.0 362.8L539.5 377.2L538.4 384.8L536.8 391.2L535.5 394.2L532.2 399.5L529.8 405.3L528.9 408.2L528.8 411.8ZM348.3 332.2L362.2 331.0L365.2 330.5L373.8 328.2L377.8 326.7L381.0 324.8L382.7 322.8L383.0 321.8L382.9 320.8L381.6 318.8L378.7 316.8L374.8 315.1L369.2 313.5L362.8 312.2L355.2 311.3L347.2 310.7L339.2 310.5L331.2 310.7L323.2 311.2L315.8 312.2L309.2 313.4L303.8 314.9L299.3 316.8L296.4 318.8L295.1 320.8L295.1 322.2L295.6 323.2L296.8 324.6L298.4 325.8L303.2 327.9L310.2 329.8L318.8 331.3L328.2 332.2L338.2 332.5L348.3 332.2Z"/>
<path fill="#34a000" fill-rule="evenodd" d="M524.2 411.8L302.8 411.8L302.3 411.2L297.8 408.8L293.8 405.7L291.8 404.9L289.2 404.6L112.2 404.2L83.2 403.6L82.1 402.2L81.2 398.8L81.1 396.2L77.4 370.8L77.3 363.8L76.9 361.8L77.2 361.0L141.2 352.6L201.2 345.2L231.2 342.9L260.8 344.4L263.8 344.0L264.2 344.9L267.8 344.0L271.5 342.2L274.2 340.2L277.2 336.9L277.8 336.6L283.2 335.9L288.2 334.9L292.8 333.4L296.8 331.7L305.2 333.5L319.2 335.3L322.2 336.1L336.8 336.5L350.8 339.9L374.2 343.9L376.8 344.8L379.2 346.0L387.2 351.4L391.2 355.2L395.8 361.2L398.0 362.8L403.2 364.5L410.2 366.1L425.8 367.3L428.8 366.6L436.7 363.8L438.8 362.7L440.0 361.2L440.3 358.8L440.5 332.8L440.3 325.2L439.8 320.3L439.2 319.6L437.8 319.0L426.2 318.0L409.8 317.9L397.8 317.5L395.8 316.9L390.8 314.4L380.8 311.2L370.8 309.2L358.8 307.7L348.8 307.0L338.2 306.8L327.8 307.1L317.8 307.8L308.2 309.0L299.8 310.6L292.8 312.5L286.8 314.8L277.2 313.3L273.8 309.8L270.2 307.5L266.2 305.9L261.2 305.0L238.8 303.9L231.2 304.4L223.8 303.1L216.2 300.6L201.2 300.7L171.2 296.7L154.2 297.2L128.2 296.7L107.2 295.4L77.2 292.9L76.9 292.8L76.3 283.8L76.5 281.2L76.2 270.2L75.7 267.8L75.6 248.2L75.2 244.8L75.2 236.8L529.1 236.8L528.8 257.8L529.8 274.2L529.5 288.8L528.3 304.8L528.3 317.2L529.0 332.2L528.3 349.8L528.4 361.8L528.9 377.2L528.4 384.8L528.3 392.2L527.7 398.2L526.9 401.8L524.8 407.2L524.2 411.8Z"/>
<path fill="#94cc00" fill-rule="evenodd" d="M519.8 411.8L506.0 411.8L505.4 411.2L503.8 410.7L498.8 410.2L308.2 410.2L305.2 409.9L302.2 408.8L300.3 407.8L296.9 405.2L295.2 404.5L292.6 403.8L289.8 403.4L172.8 403.3L155.2 402.9L112.2 402.9L84.8 401.8L82.8 401.6L81.6 398.8L81.0 392.8L78.7 377.8L77.9 370.2L77.8 362.2L141.2 354.1L201.8 346.8L231.2 344.8L260.8 346.4L263.8 346.0L264.8 346.9L268.2 346.0L272.8 344.1L275.2 346.1L277.2 346.7L289.8 346.8L291.7 346.2L293.3 345.2L301.2 337.4L309.2 338.2L311.2 340.1L313.2 341.3L316.2 342.5L319.2 343.3L322.8 343.7L336.2 343.9L344.0 345.8L350.7 347.8L356.5 350.2L379.2 361.6L388.8 368.6L392.8 370.9L395.8 372.2L398.8 372.8L411.8 373.9L424.8 376.6L426.8 376.6L428.8 376.3L438.2 373.4L442.2 371.7L446.2 368.7L448.2 366.5L449.8 364.4L450.5 362.8L450.9 360.8L451.1 347.2L452.6 341.2L454.2 336.6L455.2 334.7L456.2 333.4L457.8 332.5L461.8 331.6L463.1 330.8L463.4 329.2L463.4 319.2L462.8 315.2L460.8 309.6L458.2 305.3L457.2 304.3L456.2 303.9L454.8 303.9L450.8 305.6L447.2 306.5L443.2 307.2L440.8 307.3L435.2 306.0L425.8 302.9L411.8 302.6L402.2 300.1L396.8 299.0L394.8 299.1L391.2 299.7L377.2 303.5L370.8 304.8L357.2 303.7L346.8 303.3L334.8 303.2L323.2 303.6L313.2 304.3L303.8 305.4L292.2 307.4L282.2 309.9L277.2 309.9L273.2 306.9L270.8 305.5L267.2 304.1L261.4 302.8L258.5 300.2L255.3 298.2L244.8 294.1L242.2 292.2L238.7 288.2L236.9 286.8L232.8 284.5L229.8 283.8L216.8 283.8L209.4 285.2L205.8 286.3L202.0 287.8L196.3 291.2L193.2 292.8L189.8 294.0L187.2 294.6L185.2 294.2L182.8 292.7L180.5 290.2L177.5 285.2L175.8 283.2L173.2 281.2L170.8 280.4L168.2 280.9L163.8 282.5L160.5 284.2L157.9 286.2L157.1 287.2L156.5 288.8L155.9 294.8L135.8 295.1L122.2 294.8L104.8 293.9L81.2 292.1L80.4 291.8L79.8 287.8L77.8 280.9L77.2 277.8L76.7 269.8L76.2 267.8L75.9 248.2L75.5 244.2L75.7 236.8L525.2 236.8L524.1 272.8L523.1 284.2L522.2 289.0L519.9 295.8L517.2 300.5L509.8 308.8L507.2 308.8L507.2 311.2L509.8 311.2L509.8 311.8L515.8 318.8L517.2 321.6L518.9 326.8L519.9 331.2L519.9 333.8L518.3 340.2L516.8 344.2L515.8 345.5L515.2 345.8L513.8 345.2L504.1 335.8L501.9 333.2L501.2 331.8L500.9 330.2L500.8 318.8L500.2 317.8L499.8 317.6L488.8 317.5L487.2 317.7L485.8 318.2L483.2 320.2L474.2 329.2L472.3 331.2L471.9 332.2L472.1 333.2L473.2 334.8L483.6 345.2L485.2 347.2L485.9 349.8L486.5 361.8L487.6 363.8L489.2 365.2L491.8 366.7L494.8 368.1L498.2 369.3L500.2 369.6L501.8 369.4L503.2 368.8L514.8 363.0L516.2 363.5L518.2 366.1L520.2 370.3L521.9 375.8L524.6 392.2L524.0 399.8L523.2 401.9L520.6 407.2L520.2 408.8L520.1 411.8L519.8 411.8Z"/>
<path fill="#eaf400" fill-rule="evenodd" d="M98.2 282.3L94.2 282.5L83.8 282.4L82.2 281.6L80.8 279.3L78.7 273.2L77.9 268.2L77.0 266.2L76.6 261.8L75.8 239.2L75.9 238.2L77.0 236.8L141.4 236.8L141.7 241.8L142.5 243.2L143.5 244.2L145.5 245.8L148.3 247.2L156.2 250.1L158.2 251.1L161.2 253.7L162.9 256.2L163.2 257.8L162.7 259.2L161.2 261.3L159.2 263.2L156.8 264.7L150.2 266.9L146.4 268.8L143.4 270.8L138.0 275.2L132.8 278.0L129.1 279.2L126.2 279.9L111.8 280.1L98.2 282.3ZM352.8 297.3L347.8 297.1L334.8 295.0L308.8 295.0L305.2 294.7L301.8 293.7L298.1 292.2L290.8 287.9L288.8 287.5L277.2 287.3L275.8 286.7L272.0 284.2L269.2 282.8L265.5 281.2L262.2 280.4L260.2 280.3L251.8 281.8L247.2 282.2L245.2 281.8L235.2 277.6L230.8 276.4L216.2 276.3L202.8 277.3L199.8 276.9L197.4 275.8L195.4 274.2L190.1 268.2L187.8 266.2L182.8 262.7L180.9 260.8L179.8 259.0L179.1 257.2L178.8 255.2L178.8 236.8L521.5 236.8L521.2 245.3L518.6 272.2L517.4 279.2L516.2 283.7L515.2 285.8L514.2 286.8L511.2 287.1L503.2 287.1L501.2 286.8L493.2 282.4L489.2 280.9L486.2 280.2L471.8 280.1L467.8 280.9L462.8 282.8L459.8 284.5L453.3 288.8L443.8 293.6L441.2 294.5L439.2 294.5L426.2 292.6L411.8 292.5L395.2 291.3L385.2 292.1L376.2 293.1L370.2 294.1L360.8 296.1L352.8 297.3ZM513.2 408.8L308.8 408.6L306.2 408.4L304.3 407.8L300.0 404.8L297.8 403.8L294.2 402.9L290.2 402.5L274.2 402.2L172.8 402.2L155.2 401.6L112.2 401.6L103.8 401.1L89.9 399.8L84.2 398.8L83.3 398.2L82.8 397.2L82.4 392.8L81.2 387.1L80.2 378.9L80.2 363.2L152.1 354.2L155.2 355.7L156.8 355.8L161.8 353.6L164.7 352.8L177.8 351.2L188.2 351.5L194.8 352.7L201.8 354.8L205.2 355.0L216.2 354.9L228.8 353.9L240.2 352.0L246.8 351.4L254.8 352.7L262.2 355.2L265.2 355.9L273.2 357.1L278.2 357.5L291.8 357.4L298.2 356.6L306.2 355.1L320.2 354.9L331.2 353.1L335.8 352.8L338.2 353.5L342.8 356.0L352.8 363.3L374.6 374.2L380.9 376.8L388.5 378.2L396.2 379.1L411.2 379.4L427.2 381.2L442.8 380.3L450.2 378.9L457.2 376.9L468.8 375.8L470.2 376.1L473.1 377.8L477.2 379.2L483.2 380.7L486.8 381.2L501.8 381.1L506.8 380.3L513.2 378.6L514.8 378.5L515.8 379.1L516.8 380.5L520.2 389.2L521.0 392.2L521.0 396.2L520.6 399.8L519.5 402.2L515.2 408.0L514.2 408.7L513.2 408.8Z"/>
<path fill="#ffb400" fill-rule="evenodd" d="M97.2 274.3L84.2 274.2L82.0 272.2L77.9 266.2L77.7 263.2L77.2 261.8L77.2 256.2L76.8 254.5L76.7 245.8L76.3 243.2L76.3 239.2L76.8 238.3L79.4 237.8L80.0 237.2L80.1 236.8L81.8 236.7L103.9 236.8L104.8 238.2L108.2 249.8L108.2 252.2L107.7 253.8L107.7 258.2L107.2 259.8L107.1 262.2L103.0 269.8L100.2 273.7L99.2 274.2L97.2 274.3ZM352.2 285.9L351.2 286.1L349.8 285.8L345.2 283.3L342.2 281.9L332.2 278.9L328.8 277.6L325.2 275.7L318.4 271.2L310.6 267.2L306.8 265.4L300.2 263.2L296.2 261.3L291.8 258.1L278.8 245.1L276.8 243.6L276.2 243.5L275.2 243.9L272.9 246.8L270.8 251.0L268.2 258.2L267.0 260.2L265.2 262.2L261.8 264.6L254.3 267.2L247.8 270.8L246.2 271.1L244.7 270.8L240.3 268.2L236.9 266.8L227.8 264.0L223.8 262.5L220.8 261.0L215.8 257.8L213.8 257.5L203.2 257.4L201.8 257.1L200.8 256.5L199.2 255.1L197.8 252.9L195.2 247.2L194.0 242.8L193.8 236.8L517.7 236.8L517.5 243.2L516.3 251.2L515.2 255.1L514.8 256.2L513.8 257.2L512.2 257.6L503.2 257.8L501.2 258.1L493.8 262.3L490.2 263.8L486.8 264.7L483.8 265.0L471.2 265.1L456.8 267.6L454.8 268.6L452.9 270.2L448.4 276.2L445.8 279.1L442.9 281.2L440.8 282.2L437.8 282.5L425.8 282.4L409.2 280.0L367.8 280.0L364.8 280.4L360.4 281.8L357.0 283.2L352.2 285.9ZM142.2 381.8L139.2 382.2L127.2 382.1L124.8 381.5L122.1 379.8L120.6 377.8L120.2 374.8L120.2 364.8L120.5 363.2L121.5 361.8L123.8 360.1L126.2 359.1L128.2 358.8L132.8 358.8L141.2 359.0L143.8 360.0L146.2 361.8L147.2 363.2L147.5 364.8L147.4 376.8L147.0 378.2L146.0 379.8L144.2 381.0L142.2 381.8ZM419.8 406.8L395.2 407.1L319.8 407.1L307.8 406.6L306.2 406.2L302.8 403.8L300.2 402.8L295.8 402.0L290.2 401.5L274.2 401.2L173.2 401.1L154.8 399.9L112.2 399.9L107.5 399.2L104.5 398.2L102.9 396.8L102.0 394.8L101.7 393.2L102.6 391.8L104.2 390.7L107.8 389.5L111.8 388.8L127.8 387.8L169.8 387.7L172.7 387.2L179.3 385.2L180.8 384.2L180.8 383.8L180.4 383.2L173.2 378.9L171.4 377.2L169.9 375.2L167.1 369.2L166.0 365.8L165.7 363.8L166.2 362.2L167.1 361.2L168.8 360.1L170.8 359.2L173.2 358.8L180.8 358.8L184.8 358.8L186.8 359.1L189.7 360.2L192.2 361.8L193.9 363.8L196.4 370.2L198.7 374.2L200.2 375.8L202.8 376.6L216.8 376.5L221.6 375.2L227.2 373.1L230.2 371.8L232.2 370.3L234.2 367.8L236.6 363.8L238.1 362.2L242.8 359.9L244.8 359.3L246.2 359.2L248.8 359.8L251.8 361.5L253.3 362.8L257.7 367.8L259.8 369.1L261.2 369.6L263.2 369.5L274.0 367.8L283.8 366.8L291.2 366.3L301.8 366.2L306.2 366.3L309.8 366.8L314.8 367.8L320.2 369.4L322.2 369.6L327.2 368.1L334.2 364.5L335.8 364.2L337.2 365.2L340.4 369.2L342.8 371.8L347.8 375.6L350.8 377.1L353.8 378.2L361.8 380.0L369.8 381.0L379.8 381.8L411.2 383.2L418.5 384.2L427.2 385.9L440.8 387.4L469.2 387.5L486.2 388.7L513.2 388.8L514.8 389.1L515.8 389.8L516.8 391.2L517.4 393.2L517.3 398.8L516.8 400.2L515.8 401.5L514.2 402.4L510.2 403.5L504.3 405.8L501.8 406.3L497.8 406.5L427.8 406.5L419.8 406.8Z"/>
<path fill="#ff5e00" fill-rule="evenodd" d="M438.8 271.8L428.8 271.8L426.2 271.6L417.2 267.0L413.2 265.6L410.2 265.1L339.8 265.0L336.2 264.7L333.8 263.8L327.6 260.8L322.5 257.8L321.1 255.8L320.1 250.2L319.7 249.2L318.8 248.3L307.8 248.0L306.2 247.6L304.8 246.7L302.2 244.2L300.9 242.2L300.6 240.2L300.5 236.8L497.9 236.8L497.7 241.2L496.9 243.2L493.8 246.5L488.8 250.1L486.8 251.1L484.8 251.6L470.2 252.0L465.4 253.2L460.2 255.2L452.2 258.9L448.2 261.4L444.9 264.8L440.9 270.8L439.8 271.5L438.8 271.8ZM396.8 404.8L321.8 404.8L314.4 403.8L302.2 401.1L295.2 400.5L274.2 399.7L177.8 399.5L171.2 399.2L169.0 398.8L168.2 398.2L168.2 397.8L169.9 396.8L175.2 394.9L182.8 391.2L185.8 390.2L194.8 388.5L202.2 385.6L260.8 385.0L271.2 384.3L273.8 383.9L274.8 383.4L275.5 382.2L276.3 379.2L277.1 378.2L278.5 377.2L281.2 376.1L286.4 374.8L291.2 373.9L304.2 373.8L306.2 374.0L308.2 374.6L310.5 375.8L312.4 377.2L313.4 379.2L313.4 383.8L313.9 384.8L315.1 385.8L319.2 387.3L329.8 389.4L336.8 392.0L340.2 392.2L350.2 392.0L358.0 389.2L365.8 387.9L395.2 387.9L408.8 388.7L411.2 389.0L413.8 389.9L416.2 391.2L417.4 392.2L418.5 393.8L419.2 396.8L419.3 399.2L418.7 400.8L416.8 402.4L414.5 403.2L411.2 403.9L396.8 404.8Z"/>
<path fill="#fa0000" fill-rule="evenodd" d="M439.2 249.8L426.2 248.3L410.8 250.0L398.2 250.0L394.8 249.6L391.2 248.6L387.8 247.1L384.8 245.5L382.5 243.8L381.2 242.2L380.8 241.2L380.5 236.8L451.7 236.8L451.4 241.2L450.2 243.4L447.8 245.5L443.2 248.5L441.2 249.5L439.2 249.8Z"/>
<rect x="185" y="238" width="152" height="1.6" fill="#1a9ee8"/>
<path fill="#d8d7de" d="M36 294.0L261.0 325.2L36 359.2Z"/>
<path stroke="#78b478" stroke-opacity="0.5" stroke-width="0.7" fill="none" d="M47.0 298.8h0.7M50.8 298.8h0.7M54.5 298.8h0.7M58.2 298.8h0.7M62.0 298.8h0.7M65.8 298.8h0.7M69.5 298.8h0.7M47.0 302.5h0.7M50.8 302.5h0.7M54.5 302.5h0.7M58.2 302.5h0.7M62.0 302.5h0.7M65.8 302.5h0.7M69.5 302.5h0.7M73.2 302.5h0.7M77.0 302.5h0.7M80.8 302.5h0.7M84.5 302.5h0.7M88.2 302.5h0.7M92.0 302.5h0.7M95.8 302.5h0.7M47.0 306.2h0.7M50.8 306.2h0.7M54.5 306.2h0.7M58.2 306.2h0.7M62.0 306.2h0.7M65.8 306.2h0.7M69.5 306.2h0.7M73.2 306.2h0.7M77.0 306.2h0.7M80.8 306.2h0.7M84.5 306.2h0.7M88.2 306.2h0.7M92.0 306.2h0.7M95.8 306.2h0.7M99.5 306.2h0.7M103.2 306.2h0.7M107.0 306.2h0.7M110.8 306.2h0.7M114.5 306.2h0.7M118.2 306.2h0.7M122.0 306.2h0.7M47.0 310.0h0.7M50.8 310.0h0.7M54.5 310.0h0.7M58.2 310.0h0.7M62.0 310.0h0.7M65.8 310.0h0.7M69.5 310.0h0.7M73.2 310.0h0.7M77.0 310.0h0.7M80.8 310.0h0.7M84.5 310.0h0.7M88.2 310.0h0.7M92.0 310.0h0.7M95.8 310.0h0.7M99.5 310.0h0.7M103.2 310.0h0.7M107.0 310.0h0.7M110.8 310.0h0.7M114.5 310.0h0.7M118.2 310.0h0.7M122.0 310.0h0.7M125.8 310.0h0.7M129.5 310.0h0.7M133.2 310.0h0.7M137.0 310.0h0.7M140.8 310.0h0.7M144.5 310.0h0.7M148.2 310.0h0.7M152.0 310.0h0.7M47.0 313.8h0.7M50.8 313.8h0.7M54.5 313.8h0.7M58.2 313.8h0.7M62.0 313.8h0.7M65.8 313.8h0.7M69.5 313.8h0.7M73.2 313.8h0.7M77.0 313.8h0.7M80.8 313.8h0.7M84.5 313.8h0.7M88.2 313.8h0.7M92.0 313.8h0.7M95.8 313.8h0.7M99.5 313.8h0.7M103.2 313.8h0.7M107.0 313.8h0.7M110.8 313.8h0.7M114.5 313.8h0.7M118.2 313.8h0.7M122.0 313.8h0.7M125.8 313.8h0.7M129.5 313.8h0.7M133.2 313.8h0.7M137.0 313.8h0.7M140.8 313.8h0.7M144.5 313.8h0.7M148.2 313.8h0.7M152.0 313.8h0.7M155.8 313.8h0.7M159.5 313.8h0.7M163.2 313.8h0.7M167.0 313.8h0.7M170.8 313.8h0.7M174.5 313.8h0.7M178.2 313.8h0.7M47.0 317.5h0.7M50.8 317.5h0.7M54.5 317.5h0.7M58.2 317.5h0.7M62.0 317.5h0.7M65.8 317.5h0.7M69.5 317.5h0.7M73.2 317.5h0.7M77.0 317.5h0.7M80.8 317.5h0.7M84.5 317.5h0.7M88.2 317.5h0.7M92.0 317.5h0.7M95.8 317.5h0.7M99.5 317.5h0.7M103.2 317.5h0.7M107.0 317.5h0.7M110.8 317.5h0.7M114.5 317.5h0.7M118.2 317.5h0.7M122.0 317.5h0.7M125.8 317.5h0.7M129.5 317.5h0.7M133.2 317.5h0.7M137.0 317.5h0.7M140.8 317.5h0.7M144.5 317.5h0.7M148.2 317.5h0.7M152.0 317.5h0.7M155.8 317.5h0.7M159.5 317.5h0.7M163.2 317.5h0.7M167.0 317.5h0.7M170.8 317.5h0.7M174.5 317.5h0.7M178.2 317.5h0.7M182.0 317.5h0.7M185.8 317.5h0.7M189.5 317.5h0.7M193.2 317.5h0.7M197.0 317.5h0.7M200.8 317.5h0.7M204.5 317.5h0.7M47.0 321.2h0.7M50.8 321.2h0.7M54.5 321.2h0.7M58.2 321.2h0.7M62.0 321.2h0.7M65.8 321.2h0.7M69.5 321.2h0.7M73.2 321.2h0.7M77.0 321.2h0.7M80.8 321.2h0.7M84.5 321.2h0.7M88.2 321.2h0.7M92.0 321.2h0.7M95.8 321.2h0.7M99.5 321.2h0.7M103.2 321.2h0.7M107.0 321.2h0.7M110.8 321.2h0.7M114.5 321.2h0.7M118.2 321.2h0.7M122.0 321.2h0.7M125.8 321.2h0.7M129.5 321.2h0.7M133.2 321.2h0.7M137.0 321.2h0.7M140.8 321.2h0.7M144.5 321.2h0.7M148.2 321.2h0.7M152.0 321.2h0.7M155.8 321.2h0.7M159.5 321.2h0.7M163.2 321.2h0.7M167.0 321.2h0.7M170.8 321.2h0.7M174.5 321.2h0.7M178.2 321.2h0.7M182.0 321.2h0.7M185.8 321.2h0.7M189.5 321.2h0.7M193.2 321.2h0.7M197.0 321.2h0.7M200.8 321.2h0.7M204.5 321.2h0.7M208.2 321.2h0.7M212.0 321.2h0.7M215.8 321.2h0.7M219.5 321.2h0.7M223.2 321.2h0.7M227.0 321.2h0.7M230.8 321.2h0.7M47.0 325.0h0.7M50.8 325.0h0.7M54.5 325.0h0.7M58.2 325.0h0.7M62.0 325.0h0.7M65.8 325.0h0.7M69.5 325.0h0.7M73.2 325.0h0.7M77.0 325.0h0.7M80.8 325.0h0.7M84.5 325.0h0.7M88.2 325.0h0.7M92.0 325.0h0.7M95.8 325.0h0.7M99.5 325.0h0.7M103.2 325.0h0.7M107.0 325.0h0.7M110.8 325.0h0.7M114.5 325.0h0.7M118.2 325.0h0.7M122.0 325.0h0.7M125.8 325.0h0.7M129.5 325.0h0.7M133.2 325.0h0.7M137.0 325.0h0.7M140.8 325.0h0.7M144.5 325.0h0.7M148.2 325.0h0.7M152.0 325.0h0.7M155.8 325.0h0.7M159.5 325.0h0.7M163.2 325.0h0.7M167.0 325.0h0.7M170.8 325.0h0.7M174.5 325.0h0.7M178.2 325.0h0.7M182.0 325.0h0.7M185.8 325.0h0.7M189.5 325.0h0.7M193.2 325.0h0.7M197.0 325.0h0.7M200.8 325.0h0.7M204.5 325.0h0.7M208.2 325.0h0.7M212.0 325.0h0.7M215.8 325.0h0.7M219.5 325.0h0.7M223.2 325.0h0.7M227.0 325.0h0.7M230.8 325.0h0.7M234.5 325.0h0.7M238.2 325.0h0.7M242.0 325.0h0.7M245.8 325.0h0.7M249.5 325.0h0.7M253.2 325.0h0.7M257.0 325.0h0.7M47.0 328.8h0.7M50.8 328.8h0.7M54.5 328.8h0.7M58.2 328.8h0.7M62.0 328.8h0.7M65.8 328.8h0.7M69.5 328.8h0.7M73.2 328.8h0.7M77.0 328.8h0.7M80.8 328.8h0.7M84.5 328.8h0.7M88.2 328.8h0.7M92.0 328.8h0.7M95.8 328.8h0.7M99.5 328.8h0.7M103.2 328.8h0.7M107.0 328.8h0.7M110.8 328.8h0.7M114.5 328.8h0.7M118.2 328.8h0.7M122.0 328.8h0.7M125.8 328.8h0.7M129.5 328.8h0.7M133.2 328.8h0.7M137.0 328.8h0.7M140.8 328.8h0.7M144.5 328.8h0.7M148.2 328.8h0.7M152.0 328.8h0.7M155.8 328.8h0.7M159.5 328.8h0.7M163.2 328.8h0.7M167.0 328.8h0.7M170.8 328.8h0.7M174.5 328.8h0.7M178.2 328.8h0.7M182.0 328.8h0.7M185.8 328.8h0.7M189.5 328.8h0.7M193.2 328.8h0.7M197.0 328.8h0.7M200.8 328.8h0.7M204.5 328.8h0.7M208.2 328.8h0.7M212.0 328.8h0.7M215.8 328.8h0.7M219.5 328.8h0.7M223.2 328.8h0.7M227.0 328.8h0.7M230.8 328.8h0.7M234.5 328.8h0.7M47.0 332.5h0.7M50.8 332.5h0.7M54.5 332.5h0.7M58.2 332.5h0.7M62.0 332.5h0.7M65.8 332.5h0.7M69.5 332.5h0.7M73.2 332.5h0.7M77.0 332.5h0.7M80.8 332.5h0.7M84.5 332.5h0.7M88.2 332.5h0.7M92.0 332.5h0.7M95.8 332.5h0.7M99.5 332.5h0.7M103.2 332.5h0.7M107.0 332.5h0.7M110.8 332.5h0.7M114.5 332.5h0.7M118.2 332.5h0.7M122.0 332.5h0.7M125.8 332.5h0.7M129.5 332.5h0.7M133.2 332.5h0.7M137.0 332.5h0.7M140.8 332.5h0.7M144.5 332.5h0.7M148.2 332.5h0.7M152.0 332.5h0.7M155.8 332.5h0.7M159.5 332.5h0.7M163.2 332.5h0.7M167.0 332.5h0.7M170.8 332.5h0.7M174.5 332.5h0.7M178.2 332.5h0.7M182.0 332.5h0.7M185.8 332.5h0.7M189.5 332.5h0.7M193.2 332.5h0.7M197.0 332.5h0.7M200.8 332.5h0.7M204.5 332.5h0.7M208.2 332.5h0.7M47.0 336.2h0.7M50.8 336.2h0.7M54.5 336.2h0.7M58.2 336.2h0.7M62.0 336.2h0.7M65.8 336.2h0.7M69.5 336.2h0.7M73.2 336.2h0.7M77.0 336.2h0.7M80.8 336.2h0.7M84.5 336.2h0.7M88.2 336.2h0.7M92.0 336.2h0.7M95.8 336.2h0.7M99.5 336.2h0.7M103.2 336.2h0.7M107.0 336.2h0.7M110.8 336.2h0.7M114.5 336.2h0.7M118.2 336.2h0.7M122.0 336.2h0.7M125.8 336.2h0.7M129.5 336.2h0.7M133.2 336.2h0.7M137.0 336.2h0.7M140.8 336.2h0.7M144.5 336.2h0.7M148.2 336.2h0.7M152.0 336.2h0.7M155.8 336.2h0.7M159.5 336.2h0.7M163.2 336.2h0.7M167.0 336.2h0.7M170.8 336.2h0.7M174.5 336.2h0.7M178.2 336.2h0.7M182.0 336.2h0.7M185.8 336.2h0.7M47.0 340.0h0.7M50.8 340.0h0.7M54.5 340.0h0.7M58.2 340.0h0.7M62.0 340.0h0.7M65.8 340.0h0.7M69.5 340.0h0.7M73.2 340.0h0.7M77.0 340.0h0.7M80.8 340.0h0.7M84.5 340.0h0.7M88.2 340.0h0.7M92.0 340.0h0.7M95.8 340.0h0.7M99.5 340.0h0.7M103.2 340.0h0.7M107.0 340.0h0.7M110.8 340.0h0.7M114.5 340.0h0.7M118.2 340.0h0.7M122.0 340.0h0.7M125.8 340.0h0.7M129.5 340.0h0.7M133.2 340.0h0.7M137.0 340.0h0.7M140.8 340.0h0.7M144.5 340.0h0.7M148.2 340.0h0.7M152.0 340.0h0.7M155.8 340.0h0.7M159.5 340.0h0.7M47.0 343.8h0.7M50.8 343.8h0.7M54.5 343.8h0.7M58.2 343.8h0.7M62.0 343.8h0.7M65.8 343.8h0.7M69.5 343.8h0.7M73.2 343.8h0.7M77.0 343.8h0.7M80.8 343.8h0.7M84.5 343.8h0.7M88.2 343.8h0.7M92.0 343.8h0.7M95.8 343.8h0.7M99.5 343.8h0.7M103.2 343.8h0.7M107.0 343.8h0.7M110.8 343.8h0.7M114.5 343.8h0.7M118.2 343.8h0.7M122.0 343.8h0.7M125.8 343.8h0.7M129.5 343.8h0.7M133.2 343.8h0.7M137.0 343.8h0.7M47.0 347.5h0.7M50.8 347.5h0.7M54.5 347.5h0.7M58.2 347.5h0.7M62.0 347.5h0.7M65.8 347.5h0.7M69.5 347.5h0.7M73.2 347.5h0.7M77.0 347.5h0.7M80.8 347.5h0.7M84.5 347.5h0.7M88.2 347.5h0.7M92.0 347.5h0.7M95.8 347.5h0.7M99.5 347.5h0.7M103.2 347.5h0.7M107.0 347.5h0.7M110.8 347.5h0.7M47.0 351.2h0.7M50.8 351.2h0.7M54.5 351.2h0.7M58.2 351.2h0.7M62.0 351.2h0.7M65.8 351.2h0.7M69.5 351.2h0.7M73.2 351.2h0.7M77.0 351.2h0.7M80.8 351.2h0.7M84.5 351.2h0.7M88.2 351.2h0.7M47.0 355.0h0.7M50.8 355.0h0.7M54.5 355.0h0.7M58.2 355.0h0.7M62.0 355.0h0.7"/>
<path stroke="#000" stroke-opacity="0.22" stroke-width="1" fill="none" d="M44.7 411.2L52.9 412.1M59.7 411.2L67.9 412.1M74.7 411.2L82.9 412.1M89.7 411.2L99.2 412.2M104.7 411.2L114.2 412.2M119.6 411.2L129.2 412.2M134.6 411.2L144.2 412.2M149.6 411.2L159.1 412.2M164.6 411.2L174.1 412.2M179.6 411.2L189.1 412.2M194.5 411.2L204.1 412.2M209.5 411.2L219.1 412.2M224.5 411.2L234.0 412.2M239.5 411.2L249.0 412.2M254.5 411.2L264.0 412.2M269.4 411.2L279.0 412.2M284.4 411.2L294.0 412.2M299.4 411.2L312.0 412.5M314.4 411.2L327.5 412.6M329.4 411.2L342.5 412.6M344.3 411.2L357.4 412.6M359.3 411.2L372.4 412.6M374.3 411.2L387.4 412.6M389.3 411.2L402.4 412.6M404.3 411.2L417.4 412.6M419.2 411.2L432.3 412.6M434.2 411.2L447.3 412.6M449.2 411.2L462.3 412.6M464.2 411.2L477.3 412.6M479.2 411.2L492.3 412.6M494.1 411.2L507.2 412.6M509.1 411.2L524.2 412.8M524.1 411.2L534.5 412.3M539.1 411.2L548.9 412.2M554.1 411.2L563.8 412.2M44.7 407.5L52.9 408.3M59.7 407.5L67.9 408.3M74.7 407.5L82.9 408.3M89.7 407.5L99.7 408.5M104.7 407.5L114.7 408.5M119.6 407.5L129.6 408.5M134.6 407.5L144.6 408.5M149.6 407.5L159.6 408.5M164.6 407.5L174.6 408.5M179.6 407.5L189.6 408.5M194.5 407.5L204.5 408.5M209.5 407.5L219.5 408.5M224.5 407.5L234.5 408.5M239.5 407.5L249.5 408.5M254.5 407.5L264.5 408.5M269.4 407.5L279.4 408.5M284.4 407.5L294.4 408.5M299.4 407.5L314.8 409.0M314.4 407.5L330.7 409.1M329.4 407.5L345.7 409.1M344.3 407.5L360.7 409.1M359.3 407.5L375.7 409.1M374.3 407.5L390.7 409.1M389.3 407.5L405.7 409.1M404.3 407.5L420.6 409.1M419.2 407.5L435.4 409.1M434.2 407.5L450.4 409.1M449.2 407.5L465.4 409.1M464.2 407.5L480.4 409.1M479.2 407.5L495.3 409.1M494.1 407.5L510.3 409.1M509.1 407.5L524.7 409.1M524.1 407.5L534.6 408.5M539.1 407.5L548.9 408.5M554.1 407.5L563.8 408.5M44.7 403.8L52.9 404.6M59.7 403.8L67.9 404.6M74.7 403.8L82.9 404.6M89.7 403.8L102.0 405.0M104.7 403.8L117.3 405.0M119.6 403.8L132.4 405.0M134.6 403.8L147.3 405.0M149.6 403.8L162.3 405.0M164.6 403.8L177.6 405.1M179.6 403.8L192.6 405.1M194.5 403.8L207.6 405.1M209.5 403.8L222.6 405.1M224.5 403.8L237.6 405.1M239.5 403.8L252.6 405.1M254.5 403.8L267.5 405.1M269.4 403.8L282.5 405.1M284.4 403.8L297.7 405.1M299.4 403.8L316.8 405.5M314.4 403.8L333.3 405.6M329.4 403.8L348.3 405.6M344.3 403.8L363.3 405.6M359.3 403.8L378.3 405.6M374.3 403.8L393.3 405.6M389.3 403.8L408.3 405.6M404.3 403.8L423.0 405.6M419.2 403.8L437.1 405.5M434.2 403.8L451.9 405.5M449.2 403.8L466.9 405.5M464.2 403.8L481.9 405.5M479.2 403.8L496.9 405.5M494.1 403.8L511.8 405.5M509.1 403.8L525.7 405.4M524.1 403.8L535.0 404.8M539.1 403.8L548.9 404.7M554.1 403.8L563.8 404.7M44.7 400.0L52.9 400.8M59.7 400.0L67.9 400.8M74.7 400.0L82.9 400.8M89.7 400.0L105.0 401.5M104.7 400.0L121.2 401.7M119.6 400.0L136.4 401.7M134.6 400.0L151.4 401.7M149.6 400.0L166.3 401.7M164.6 400.0L182.4 401.8M179.6 400.0L197.6 401.8M194.5 400.0L212.6 401.8M209.5 400.0L227.6 401.8M224.5 400.0L242.6 401.8M239.5 400.0L257.6 401.8M254.5 400.0L272.5 401.8M269.4 400.0L287.5 401.8M284.4 400.0L303.1 401.9M299.4 400.0L318.5 401.9M314.4 400.0L333.9 402.0M329.4 400.0L348.7 401.9M344.3 400.0L363.6 401.9M359.3 400.0L378.8 402.0M374.3 400.0L393.9 402.0M389.3 400.0L408.8 402.0M404.3 400.0L423.7 401.9M419.2 400.0L437.2 401.8M434.2 400.0L452.0 401.8M449.2 400.0L467.0 401.8M464.2 400.0L482.0 401.8M479.2 400.0L496.9 401.8M494.1 400.0L511.9 401.8M509.1 400.0L526.6 401.7M524.1 400.0L535.4 401.1M539.1 400.0L549.0 401.0M554.1 400.0L563.8 401.0M44.7 396.2L52.9 397.1M59.7 396.2L67.9 397.1M74.7 396.2L83.0 397.1M89.7 396.2L106.0 397.9M104.7 396.2L122.3 398.0M119.6 396.2L137.4 398.0M134.6 396.2L152.4 398.0M149.6 396.2L167.4 398.0M164.6 396.2L183.1 398.1M179.6 396.2L198.8 398.2M194.5 396.2L213.9 398.2M209.5 396.2L228.9 398.2M224.5 396.2L243.9 398.2M239.5 396.2L258.8 398.2M254.5 396.2L273.8 398.2M269.4 396.2L288.8 398.2M284.4 396.2L304.5 398.3M299.4 396.2L318.9 398.2M314.4 396.2L333.9 398.2M329.4 396.2L348.4 398.2M344.3 396.2L363.3 398.1M359.3 396.2L378.8 398.2M374.3 396.2L393.8 398.2M389.3 396.2L408.8 398.2M404.3 396.2L423.8 398.2M419.2 396.2L437.2 398.0M434.2 396.2L452.0 398.0M449.2 396.2L467.0 398.0M464.2 396.2L482.0 398.0M479.2 396.2L496.9 398.0M494.1 396.2L511.9 398.0M509.1 396.2L526.8 398.0M524.1 396.2L535.7 397.4M539.1 396.2L549.0 397.2M554.1 396.2L563.8 397.2M44.7 392.5L52.9 393.3M59.7 392.5L67.9 393.3M74.7 392.5L83.7 393.4M89.7 392.5L106.1 394.1M104.7 392.5L122.2 394.3M119.6 392.5L137.3 394.3M134.6 392.5L152.3 394.3M149.6 392.5L167.3 394.3M164.6 392.5L182.4 394.3M179.6 392.5L198.6 394.4M194.5 392.5L213.8 394.4M209.5 392.5L228.8 394.4M224.5 392.5L243.8 394.4M239.5 392.5L258.8 394.4M254.5 392.5L273.8 394.4M269.4 392.5L288.8 394.4M284.4 392.5L304.4 394.5M299.4 392.5L318.8 394.4M314.4 392.5L333.7 394.4M329.4 392.5L348.1 394.4M344.3 392.5L363.0 394.4M359.3 392.5L378.6 394.4M374.3 392.5L393.6 394.4M389.3 392.5L408.6 394.4M404.3 392.5L423.6 394.4M419.2 392.5L437.2 394.3M434.2 392.5L451.9 394.3M449.2 392.5L466.9 394.3M464.2 392.5L481.9 394.3M479.2 392.5L496.8 394.3M494.1 392.5L511.8 394.3M509.1 392.5L526.7 394.3M524.1 392.5L535.9 393.7M539.1 392.5L549.0 393.5M554.1 392.5L563.8 393.5M44.7 388.8L52.9 389.6M59.7 388.8L67.9 389.6M74.7 388.8L85.8 389.9M89.7 388.8L106.0 390.4M104.7 388.8L121.6 390.4M119.6 388.8L136.8 390.5M134.6 388.8L151.8 390.5M149.6 388.8L166.7 390.5M164.6 388.8L181.7 390.5M179.6 388.8L197.6 390.6M194.5 388.8L213.4 390.6M209.5 388.8L228.5 390.6M224.5 388.8L243.5 390.6M239.5 388.8L258.5 390.6M254.5 388.8L273.4 390.6M269.4 388.8L288.4 390.6M284.4 388.8L304.1 390.7M299.4 388.8L318.6 390.7M314.4 388.8L333.2 390.6M329.4 388.8L347.7 390.6M344.3 388.8L362.7 390.6M359.3 388.8L378.0 390.6M374.3 388.8L393.0 390.6M389.3 388.8L408.0 390.6M404.3 388.8L422.8 390.6M419.2 388.8L436.8 390.5M434.2 388.8L451.4 390.5M449.2 388.8L466.4 390.5M464.2 388.8L481.4 390.5M479.2 388.8L496.2 390.5M494.1 388.8L511.1 390.4M509.1 388.8L526.1 390.4M524.1 388.8L536.0 389.9M539.1 388.8L549.0 389.7M554.1 388.8L563.8 389.7M44.7 385.0L52.9 385.8M59.7 385.0L67.9 385.8M74.7 385.0L87.9 386.3M89.7 385.0L105.9 386.6M104.7 385.0L121.0 386.6M119.6 385.0L136.3 386.7M134.6 385.0L151.3 386.7M149.6 385.0L166.2 386.7M164.6 385.0L181.2 386.7M179.6 385.0L196.8 386.7M194.5 385.0L212.9 386.8M209.5 385.0L228.1 386.9M224.5 385.0L243.1 386.9M239.5 385.0L258.1 386.9M254.5 385.0L273.1 386.9M269.4 385.0L288.1 386.9M284.4 385.0L303.8 386.9M299.4 385.0L318.5 386.9M314.4 385.0L332.7 386.8M329.4 385.0L347.5 386.8M344.3 385.0L362.4 386.8M359.3 385.0L377.4 386.8M374.3 385.0L392.4 386.8M389.3 385.0L407.3 386.8M404.3 385.0L422.0 386.8M419.2 385.0L436.2 386.7M434.2 385.0L450.8 386.7M449.2 385.0L465.8 386.7M464.2 385.0L480.8 386.7M479.2 385.0L495.4 386.6M494.1 385.0L510.4 386.6M509.1 385.0L525.4 386.6M524.1 385.0L536.0 386.2M539.1 385.0L549.0 386.0M554.1 385.0L563.8 386.0M44.7 381.2L52.9 382.1M59.7 381.2L67.9 382.1M74.7 381.2L89.5 382.7M89.7 381.2L105.8 382.9M104.7 381.2L120.7 382.9M119.6 381.2L136.6 383.0M134.6 381.2L151.7 383.0M149.6 381.2L165.9 382.9M164.6 381.2L181.3 382.9M179.6 381.2L196.9 383.0M194.5 381.2L212.3 383.0M209.5 381.2L227.3 383.0M224.5 381.2L242.4 383.0M239.5 381.2L257.6 383.1M254.5 381.2L272.6 383.1M269.4 381.2L288.0 383.1M284.4 381.2L303.7 383.2M299.4 381.2L318.6 383.2M314.4 381.2L332.5 383.1M329.4 381.2L347.3 383.0M344.3 381.2L361.9 383.0M359.3 381.2L376.5 383.0M374.3 381.2L391.1 382.9M389.3 381.2L405.7 382.9M404.3 381.2L420.5 382.9M419.2 381.2L434.7 382.8M434.2 381.2L449.8 382.8M449.2 381.2L465.1 382.8M464.2 381.2L480.2 382.8M479.2 381.2L494.6 382.8M494.1 381.2L509.5 382.8M509.1 381.2L524.8 382.8M524.1 381.2L536.1 382.5M539.1 381.2L549.1 382.2M554.1 381.2L563.8 382.2M44.7 377.5L52.9 378.3M59.7 377.5L67.9 378.3M74.7 377.5L89.9 379.0M89.7 377.5L105.9 379.1M104.7 377.5L120.6 379.1M119.6 377.5L137.1 379.2M134.6 377.5L152.3 379.3M149.6 377.5L165.7 379.1M164.6 377.5L181.4 379.2M179.6 377.5L197.2 379.3M194.5 377.5L211.7 379.2M209.5 377.5L226.6 379.2M224.5 377.5L241.9 379.2M239.5 377.5L257.3 379.3M254.5 377.5L272.3 379.3M269.4 377.5L287.8 379.3M284.4 377.5L303.6 379.4M299.4 377.5L318.6 379.4M314.4 377.5L332.3 379.3M329.4 377.5L347.1 379.3M344.3 377.5L361.5 379.2M359.3 377.5L375.7 379.1M374.3 377.5L390.0 379.1M389.3 377.5L404.2 379.0M404.3 377.5L419.1 379.0M419.2 377.5L433.4 378.9M434.2 377.5L448.8 379.0M449.2 377.5L464.6 379.0M464.2 377.5L479.7 379.0M479.2 377.5L494.0 379.0M494.1 377.5L508.8 379.0M509.1 377.5L524.4 379.0M524.1 377.5L536.2 378.7M539.1 377.5L549.1 378.5M554.1 377.5L563.8 378.5M44.7 373.8L52.9 374.6M59.7 373.8L67.9 374.6M74.7 373.8L89.9 375.3M89.7 373.8L105.9 375.4M104.7 373.8L120.6 375.3M119.6 373.8L137.2 375.5M134.6 373.8L152.4 375.5M149.6 373.8L165.7 375.4M164.6 373.8L181.6 375.5M179.6 373.8L197.3 375.5M194.5 373.8L211.4 375.4M209.5 373.8L226.3 375.4M224.5 373.8L241.6 375.5M239.5 373.8L257.2 375.5M254.5 373.8L271.9 375.5M269.4 373.8L287.3 375.5M284.4 373.8L302.9 375.6M299.4 373.8L318.0 375.6M314.4 373.8L331.9 375.5M329.4 373.8L346.9 375.5M344.3 373.8L361.0 375.4M359.3 373.8L375.2 375.3M374.3 373.8L389.4 375.3M389.3 373.8L403.4 375.2M404.3 373.8L418.1 375.1M419.2 373.8L432.5 375.1M434.2 373.8L448.1 375.1M449.2 373.8L464.2 375.3M464.2 373.8L479.5 375.3M479.2 373.8L493.7 375.2M494.1 373.8L508.4 375.2M509.1 373.8L524.0 375.2M524.1 373.8L536.2 375.0M539.1 373.8L549.1 374.8M554.1 373.8L563.8 374.7M44.7 370.0L52.9 370.8M59.7 370.0L67.9 370.8M74.7 370.0L89.9 371.5M89.7 370.0L105.9 371.6M104.7 370.0L120.6 371.6M119.6 370.0L137.2 371.8M134.6 370.0L152.4 371.8M149.6 370.0L165.7 371.6M164.6 370.0L181.8 371.7M179.6 370.0L197.3 371.8M194.5 370.0L211.3 371.7M209.5 370.0L226.1 371.7M224.5 370.0L241.4 371.7M239.5 370.0L257.1 371.8M254.5 370.0L271.6 371.7M269.4 370.0L286.8 371.7M284.4 370.0L302.2 371.8M299.4 370.0L317.2 371.8M314.4 370.0L331.5 371.7M329.4 370.0L346.7 371.7M344.3 370.0L360.7 371.6M359.3 370.0L374.8 371.6M374.3 370.0L389.0 371.5M389.3 370.0L402.8 371.4M404.3 370.0L417.3 371.3M419.2 370.0L431.9 371.3M434.2 370.0L447.6 371.3M449.2 370.0L464.0 371.5M464.2 370.0L479.5 371.5M479.2 370.0L493.5 371.4M494.1 370.0L508.0 371.4M509.1 370.0L523.6 371.4M524.1 370.0L536.2 371.2M539.1 370.0L549.1 371.0M554.1 370.0L563.8 371.0M44.7 366.2L52.5 367.0M59.7 366.2L67.9 367.1M74.7 366.2L89.9 367.8M89.7 366.2L105.9 367.9M104.7 366.2L120.6 367.8M119.6 366.2L137.2 368.0M134.6 366.2L152.4 368.0M149.6 366.2L165.7 367.9M164.6 366.2L182.0 368.0M179.6 366.2L197.3 368.0M194.5 366.2L211.1 367.9M209.5 366.2L225.9 367.9M224.5 366.2L241.2 367.9M239.5 366.2L257.1 368.0M254.5 366.2L271.2 367.9M269.4 366.2L286.2 367.9M284.4 366.2L301.4 367.9M299.4 366.2L316.4 367.9M314.4 366.2L331.0 367.9M329.4 366.2L346.5 368.0M344.3 366.2L360.3 367.8M359.3 366.2L374.4 367.8M374.3 366.2L388.6 367.7M389.3 366.2L402.2 367.5M404.3 366.2L416.5 367.5M419.2 366.2L431.3 367.5M434.2 366.2L446.9 367.5M449.2 366.2L463.7 367.7M464.2 366.2L479.5 367.8M479.2 366.2L493.3 367.7M494.1 366.2L507.6 367.6M509.1 366.2L523.2 367.7M524.1 366.2L536.2 367.5M539.1 366.2L549.1 367.3M554.1 366.2L563.8 367.2M44.7 362.5L50.6 363.1M59.7 362.5L66.8 363.2M74.7 362.5L89.4 364.0M89.7 362.5L105.8 364.1M104.7 362.5L120.5 364.1M119.6 362.5L137.1 364.2M134.6 362.5L152.3 364.3M149.6 362.5L165.6 364.1M164.6 362.5L182.0 364.2M179.6 362.5L197.2 364.3M194.5 362.5L210.9 364.1M209.5 362.5L225.7 364.1M224.5 362.5L240.9 364.1M239.5 362.5L257.0 364.3M254.5 362.5L270.9 364.1M269.4 362.5L285.7 364.1M284.4 362.5L300.7 364.1M299.4 362.5L315.7 364.1M314.4 362.5L330.6 364.1M329.4 362.5L346.2 364.2M344.3 362.5L359.9 364.1M359.3 362.5L374.0 364.0M374.3 362.5L388.2 363.9M389.3 362.5L401.7 363.7M404.3 362.5L415.9 363.7M419.2 362.5L430.8 363.7M434.2 362.5L446.4 363.7M449.2 362.5L463.5 363.9M464.2 362.5L479.4 364.0M479.2 362.5L493.2 363.9M494.1 362.5L507.3 363.8M509.1 362.5L522.9 363.9M524.1 362.5L536.2 363.7M539.1 362.5L549.1 363.5M554.1 362.5L563.8 363.5M44.7 358.8L48.4 359.1M59.7 358.8L64.6 359.2M74.7 358.8L84.5 359.7M89.7 358.8L101.9 360.0M104.7 358.8L119.2 360.2M119.6 358.8L136.4 360.4M134.6 358.8L151.6 360.4M149.6 358.8L165.3 360.3M164.6 358.8L181.4 360.4M179.6 358.8L196.5 360.4M194.5 358.8L210.4 360.3M209.5 358.8L225.3 360.3M224.5 358.8L240.5 360.3M239.5 358.8L256.3 360.4M254.5 358.8L270.4 360.3M269.4 358.8L285.0 360.3M284.4 358.8L300.0 360.3M299.4 358.8L315.2 360.3M314.4 358.8L330.2 360.3M329.4 358.8L345.7 360.4M344.3 358.8L359.5 360.3M359.3 358.8L373.6 360.2M374.3 358.8L387.8 360.1M389.3 358.8L401.4 360.0M404.3 358.8L415.7 359.9M419.2 358.8L430.6 359.9M434.2 358.8L446.3 360.0M449.2 358.8L463.5 360.2M464.2 358.8L479.3 360.3M479.2 358.8L493.1 360.1M494.1 358.8L507.2 360.1M509.1 358.8L522.8 360.1M524.1 358.8L536.2 360.0M539.1 358.8L549.1 359.8M554.1 358.8L563.8 359.7M59.7 355.0L61.9 355.2M74.7 355.0L79.7 355.5M89.7 355.0L97.7 355.8M104.7 355.0L115.1 356.0M119.6 355.0L132.4 356.3M134.6 355.0L149.5 356.5M149.6 355.0L165.0 356.5M164.6 355.0L180.7 356.6M179.6 355.0L195.8 356.6M194.5 355.0L210.0 356.5M209.5 355.0L224.9 356.5M224.5 355.0L240.1 356.6M239.5 355.0L255.6 356.6M254.5 355.0L270.0 356.6M269.4 355.0L284.5 356.5M284.4 355.0L299.4 356.5M299.4 355.0L314.8 356.5M314.4 355.0L329.8 356.5M329.4 355.0L345.1 356.6M344.3 355.0L359.1 356.5M359.3 355.0L373.2 356.4M374.3 355.0L387.4 356.3M389.3 355.0L401.2 356.2M404.3 355.0L415.7 356.1M419.2 355.0L430.6 356.1M434.2 355.0L446.3 356.2M449.2 355.0L463.5 356.4M464.2 355.0L479.1 356.5M479.2 355.0L493.1 356.4M494.1 355.0L507.2 356.3M509.1 355.0L522.8 356.4M524.1 355.0L536.2 356.2M539.1 355.0L549.1 356.0M554.1 355.0L563.8 356.0M89.7 351.2L92.4 351.5M104.7 351.2L110.1 351.8M119.6 351.2L127.8 352.1M134.6 351.2L145.1 352.3M149.6 351.2L162.1 352.5M164.6 351.2L179.0 352.7M179.6 351.2L194.9 352.8M194.5 351.2L209.6 352.8M209.5 351.2L224.5 352.7M224.5 351.2L239.6 352.8M239.5 351.2L254.8 352.8M254.5 351.2L269.5 352.8M269.4 351.2L283.9 352.7M284.4 351.2L298.8 352.7M299.4 351.2L314.3 352.7M314.4 351.2L329.4 352.7M329.4 351.2L344.5 352.8M344.3 351.2L358.6 352.7M359.3 351.2L372.8 352.6M374.3 351.2L387.0 352.5M389.3 351.2L401.0 352.4M404.3 351.2L415.7 352.4M419.2 351.2L430.6 352.4M434.2 351.2L446.3 352.5M449.2 351.2L463.5 352.7M464.2 351.2L478.9 352.7M479.2 351.2L493.1 352.6M494.1 351.2L507.2 352.6M509.1 351.2L522.8 352.6M524.1 351.2L536.2 352.5M539.1 351.2L549.1 352.3M554.1 351.2L563.8 352.2M119.6 347.5L123.3 347.9M134.6 347.5L141.1 348.1M149.6 347.5L158.4 348.4M164.6 347.5L175.4 348.6M179.6 347.5L192.3 348.8M194.5 347.5L209.0 348.9M209.5 347.5L224.2 349.0M224.5 347.5L239.2 349.0M239.5 347.5L254.2 349.0M254.5 347.5L269.1 349.0M269.4 347.5L283.4 348.9M284.4 347.5L298.3 348.9M299.4 347.5L313.9 349.0M314.4 347.5L328.9 349.0M329.4 347.5L343.9 349.0M344.3 347.5L358.2 348.9M359.3 347.5L372.4 348.8M374.3 347.5L386.6 348.7M389.3 347.5L400.8 348.7M404.3 347.5L415.7 348.6M419.2 347.5L430.6 348.6M434.2 347.5L446.3 348.7M449.2 347.5L463.5 348.9M464.2 347.5L478.8 349.0M479.2 347.5L493.0 348.9M494.1 347.5L507.2 348.8M509.1 347.5L522.8 348.9M524.1 347.5L536.2 348.7M539.1 347.5L549.1 348.5M554.1 347.5L563.8 348.5M134.6 343.8L136.6 343.9M149.6 343.8L153.7 344.2M164.6 343.8L171.2 344.4M179.6 343.8L188.3 344.6M194.5 343.8L205.2 344.8M209.5 343.8L221.3 344.9M224.5 343.8L237.3 345.0M239.5 343.8L251.8 345.0M254.5 343.8L266.2 344.9M269.4 343.8L283.1 345.1M284.4 343.8L298.0 345.1M299.4 343.8L313.7 345.2M314.4 343.8L328.2 345.1M329.4 343.8L343.1 345.1M344.3 343.8L357.4 345.1M359.3 343.8L371.8 345.0M374.3 343.8L386.3 345.0M389.3 343.8L400.7 344.9M404.3 343.8L415.6 344.9M419.2 343.8L430.6 344.9M434.2 343.8L446.3 345.0M449.2 343.8L463.3 345.2M464.2 343.8L478.6 345.2M479.2 343.8L492.8 345.1M494.1 343.8L507.4 345.1M509.1 343.8L523.0 345.1M524.1 343.8L536.2 345.0M539.1 343.8L549.0 344.7M554.1 343.8L563.8 344.7M164.6 340.0L167.4 340.3M179.6 340.0L184.5 340.5M194.5 340.0L201.8 340.7M209.5 340.0L218.1 340.9M224.5 340.0L234.2 341.0M239.5 340.0L248.9 340.9M254.5 340.0L263.4 340.9M269.4 340.0L281.7 341.2M284.4 340.0L297.8 341.3M299.4 340.0L313.5 341.4M314.4 340.0L327.6 341.3M329.4 340.0L342.4 341.3M344.3 340.0L356.7 341.2M359.3 340.0L371.2 341.2M374.3 340.0L386.1 341.2M389.3 340.0L400.7 341.1M404.3 340.0L415.6 341.1M419.2 340.0L430.6 341.1M434.2 340.0L446.3 341.2M449.2 340.0L463.2 341.4M464.2 340.0L478.4 341.4M479.2 340.0L492.6 341.3M494.1 340.0L507.5 341.3M509.1 340.0L523.2 341.4M524.1 340.0L536.2 341.2M539.1 340.0L549.0 341.0M554.1 340.0L563.7 341.0M194.5 336.2L197.6 336.6M209.5 336.2L214.0 336.7M224.5 336.2L230.5 336.8M239.5 336.2L245.3 336.8M254.5 336.2L260.0 336.8M269.4 336.2L279.4 337.2M284.4 336.2L297.3 337.5M299.4 336.2L312.7 337.6M314.4 336.2L326.8 337.5M329.4 336.2L341.5 337.5M344.3 336.2L355.8 337.4M359.3 336.2L370.5 337.4M374.3 336.2L385.8 337.4M389.3 336.2L400.7 337.4M404.3 336.2L415.6 337.4M419.2 336.2L430.6 337.4M434.2 336.2L446.3 337.5M449.2 336.2L463.0 337.6M464.2 336.2L478.2 337.6M479.2 336.2L492.4 337.6M494.1 336.2L507.7 337.6M509.1 336.2L523.4 337.7M524.1 336.2L536.2 337.5M539.1 336.2L548.9 337.2M554.1 336.2L563.6 337.2M209.5 332.5L211.6 332.7M224.5 332.5L227.6 332.8M239.5 332.5L242.7 332.8M254.5 332.5L257.7 332.8M269.4 332.5L277.8 333.3M284.4 332.5L295.9 333.6M299.4 332.5L311.4 333.7M314.4 332.5L325.5 333.6M329.4 332.5L340.1 333.6M344.3 332.5L355.2 333.6M359.3 332.5L370.0 333.6M374.3 332.5L385.6 333.6M389.3 332.5L400.7 333.6M404.3 332.5L415.7 333.6M419.2 332.5L430.7 333.6M434.2 332.5L446.3 333.7M449.2 332.5L462.8 333.9M464.2 332.5L478.0 333.9M479.2 332.5L492.3 333.8M494.1 332.5L507.8 333.9M509.1 332.5L523.5 333.9M524.1 332.5L536.2 333.7M539.1 332.5L548.8 333.5M554.1 332.5L563.5 333.4M239.5 328.8L241.5 329.0M254.5 328.8L256.9 329.0M269.4 328.8L276.2 329.4M284.4 328.8L294.5 329.8M299.4 328.8L310.1 329.8M314.4 328.8L324.0 329.7M329.4 328.8L338.8 329.7M344.3 328.8L353.8 329.7M359.3 328.8L369.3 329.7M374.3 328.8L385.5 329.9M389.3 328.8L400.8 329.9M404.3 328.8L415.8 329.9M419.2 328.8L430.8 329.9M434.2 328.8L446.3 330.0M449.2 328.8L462.6 330.1M464.2 328.8L478.1 330.1M479.2 328.8L492.4 330.1M494.1 328.8L507.9 330.1M509.1 328.8L523.4 330.2M524.1 328.8L536.2 330.0M539.1 328.8L548.5 329.7M554.1 328.8L563.2 329.7M269.4 325.0L275.3 325.6M284.4 325.0L294.1 326.0M299.4 325.0L309.2 326.0M314.4 325.0L322.4 325.8M329.4 325.0L338.0 325.9M344.3 325.0L353.8 325.9M359.3 325.0L368.8 325.9M374.3 325.0L384.8 326.0M389.3 325.0L401.0 326.2M404.3 325.0L416.0 326.2M419.2 325.0L431.0 326.2M434.2 325.0L446.4 326.2M449.2 325.0L462.5 326.3M464.2 325.0L478.3 326.4M479.2 325.0L492.6 326.3M494.1 325.0L507.9 326.4M509.1 325.0L523.3 326.4M524.1 325.0L536.2 326.2M539.1 325.0L548.3 325.9M554.1 325.0L562.9 325.9M239.5 321.2L241.6 321.5M254.5 321.2L256.9 321.5M269.4 321.2L276.2 321.9M284.4 321.2L294.5 322.3M299.4 321.2L308.3 322.1M314.4 321.2L322.4 322.1M329.4 321.2L337.4 322.1M344.3 321.2L353.8 322.2M359.3 321.2L368.8 322.2M374.3 321.2L384.5 322.3M389.3 321.2L401.1 322.4M404.3 321.2L416.2 322.4M419.2 321.2L431.2 322.4M434.2 321.2L446.4 322.5M449.2 321.2L462.3 322.6M464.2 321.2L478.4 322.7M479.2 321.2L492.8 322.6M494.1 321.2L507.9 322.6M509.1 321.2L523.1 322.6M524.1 321.2L536.2 322.5M539.1 321.2L548.0 322.1M554.1 321.2L562.6 322.1M209.5 317.5L211.8 317.7M224.5 317.5L227.2 317.8M239.5 317.5L242.3 317.8M254.5 317.5L257.6 317.8M269.4 317.5L277.8 318.3M284.4 317.5L295.7 318.6M299.4 317.5L309.2 318.5M314.4 317.5L322.4 318.3M329.4 317.5L338.0 318.4M344.3 317.5L353.8 318.4M359.3 317.5L368.8 318.4M374.3 317.5L384.8 318.5M389.3 317.5L401.3 318.7M404.3 317.5L416.5 318.7M419.2 317.5L431.4 318.7M434.2 317.5L446.5 318.7M449.2 317.5L462.2 318.8M464.2 317.5L478.5 318.9M479.2 317.5L493.0 318.9M494.1 317.5L507.9 318.9M509.1 317.5L522.9 318.9M524.1 317.5L536.2 318.7M539.1 317.5L547.8 318.4M554.1 317.5L562.3 318.3M179.6 313.8L182.3 314.0M194.5 313.8L198.9 314.2M209.5 313.8L214.0 314.2M224.5 313.8L228.9 314.2M239.5 313.8L243.6 314.2M254.5 313.8L259.3 314.2M269.4 313.8L279.6 314.8M284.4 313.8L296.6 315.0M299.4 313.8L310.3 314.8M314.4 313.8L324.2 314.7M329.4 313.8L338.8 314.7M344.3 313.8L353.8 314.7M359.3 313.8L369.5 314.8M374.3 313.8L385.6 314.9M389.3 313.8L401.6 315.0M404.3 313.8L416.8 315.0M419.2 313.8L431.8 315.0M434.2 313.8L447.0 315.0M449.2 313.8L462.3 315.1M464.2 313.8L478.6 315.2M479.2 313.8L493.2 315.2M494.1 313.8L507.9 315.1M509.1 313.8L522.9 315.1M524.1 313.8L536.2 315.0M539.1 313.8L547.9 314.6M554.1 313.8L562.5 314.6M149.6 310.0L151.6 310.2M164.6 310.0L168.6 310.4M179.6 310.0L184.9 310.5M194.5 310.0L201.2 310.7M209.5 310.0L216.2 310.7M224.5 310.0L232.0 310.8M239.5 310.0L246.9 310.7M254.5 310.0L262.4 310.8M269.4 310.0L281.6 311.2M284.4 310.0L297.5 311.3M299.4 310.0L311.4 311.2M314.4 310.0L325.5 311.1M329.4 310.0L340.1 311.1M344.3 310.0L355.2 311.1M359.3 310.0L370.7 311.1M374.3 310.0L386.7 311.2M389.3 310.0L401.8 311.3M404.3 310.0L417.2 311.3M419.2 310.0L432.2 311.3M434.2 310.0L447.5 311.3M449.2 310.0L462.6 311.3M464.2 310.0L478.6 311.4M479.2 310.0L493.4 311.4M494.1 310.0L508.0 311.4M509.1 310.0L522.9 311.4M524.1 310.0L536.2 311.2M539.1 310.0L548.0 310.9M554.1 310.0L562.7 310.9M119.6 306.2L121.5 306.4M134.6 306.2L138.8 306.7M149.6 306.2L155.3 306.8M164.6 306.2L171.3 306.9M179.6 306.2L187.4 307.0M194.5 306.2L203.5 307.1M209.5 306.2L218.6 307.2M224.5 306.2L235.1 307.3M239.5 306.2L250.1 307.3M254.5 306.2L265.6 307.4M269.4 306.2L283.5 307.7M284.4 306.2L298.6 307.7M299.4 306.2L312.8 307.6M314.4 306.2L327.2 307.5M329.4 306.2L341.8 307.5M344.3 306.2L356.9 307.5M359.3 306.2L372.3 307.5M374.3 306.2L387.5 307.6M389.3 306.2L402.1 307.5M404.3 306.2L417.6 307.6M419.2 306.2L432.6 307.6M434.2 306.2L448.1 307.6M449.2 306.2L462.8 307.6M464.2 306.2L478.6 307.7M479.2 306.2L493.6 307.7M494.1 306.2L508.0 307.6M509.1 306.2L522.9 307.6M524.1 306.2L536.2 307.5M539.1 306.2L548.2 307.2M554.1 306.2L563.0 307.1M104.7 302.5L108.2 302.9M119.6 302.5L125.6 303.1M134.6 302.5L142.2 303.3M149.6 302.5L158.0 303.3M164.6 302.5L173.4 303.4M179.6 302.5L189.4 303.5M194.5 302.5L205.5 303.6M209.5 302.5L220.5 303.6M224.5 302.5L237.5 303.8M239.5 302.5L252.5 303.8M254.5 302.5L268.1 303.9M269.4 302.5L283.9 303.9M284.4 302.5L298.9 304.0M299.4 302.5L313.9 304.0M314.4 302.5L328.6 303.9M329.4 302.5L343.3 303.9M344.3 302.5L358.4 303.9M359.3 302.5L373.7 303.9M374.3 302.5L388.1 303.9M389.3 302.5L402.4 303.8M404.3 302.5L418.0 303.9M419.2 302.5L433.0 303.9M434.2 302.5L448.6 303.9M449.2 302.5L463.1 303.9M464.2 302.5L478.7 303.9M479.2 302.5L493.7 304.0M494.1 302.5L508.1 303.9M509.1 302.5L522.9 303.9M524.1 302.5L536.2 303.7M539.1 302.5L548.4 303.4M554.1 302.5L563.2 303.4M74.7 298.8L78.1 299.1M89.7 298.8L96.2 299.4M104.7 298.8L113.3 299.6M119.6 298.8L129.7 299.8M134.6 298.8L145.4 299.8M149.6 298.8L160.7 299.9M164.6 298.8L175.7 299.9M179.6 298.8L191.6 300.0M194.5 298.8L207.7 300.1M209.5 298.8L222.5 300.1M224.5 298.8L237.5 300.0M239.5 298.8L252.8 300.1M254.5 298.8L268.4 300.1M269.4 298.8L284.1 300.2M284.4 298.8L299.2 300.2M299.4 298.8L314.4 300.2M314.4 298.8L329.4 300.2M329.4 298.8L344.3 300.2M344.3 298.8L359.5 300.3M359.3 298.8L374.3 300.3M374.3 298.8L388.8 300.2M389.3 298.8L403.1 300.1M404.3 298.8L418.6 300.2M419.2 298.8L433.6 300.2M434.2 298.8L449.1 300.2M449.2 298.8L463.5 300.2M464.2 298.8L478.7 300.2M479.2 298.8L493.7 300.2M494.1 298.8L508.4 300.2M509.1 298.8L523.3 300.2M524.1 298.8L536.2 300.0M539.1 298.8L548.6 299.7M554.1 298.8L563.4 299.7M44.7 295.0L47.1 295.2M59.7 295.0L63.5 295.4M74.7 295.0L83.8 295.9M89.7 295.0L100.8 296.1M104.7 295.0L117.3 296.3M119.6 295.0L133.1 296.3M134.6 295.0L148.2 296.4M149.6 295.0L163.1 296.4M164.6 295.0L177.6 296.3M179.6 295.0L193.2 296.4M194.5 295.0L207.9 296.3M209.5 295.0L222.5 296.3M224.5 295.0L237.5 296.3M239.5 295.0L253.1 296.4M254.5 295.0L268.6 296.4M269.4 295.0L284.3 296.5M284.4 295.0L299.4 296.5M299.4 295.0L314.7 296.5M314.4 295.0L329.7 296.5M329.4 295.0L344.7 296.5M344.3 295.0L360.0 296.6M359.3 295.0L374.7 296.5M374.3 295.0L389.3 296.5M389.3 295.0L403.9 296.5M404.3 295.0L419.1 296.5M419.2 295.0L434.2 296.5M434.2 295.0L449.5 296.5M449.2 295.0L463.8 296.5M464.2 295.0L478.8 296.5M479.2 295.0L493.7 296.5M494.1 295.0L508.7 296.5M509.1 295.0L523.7 296.5M524.1 295.0L536.3 296.2M539.1 295.0L548.7 296.0M554.1 295.0L563.5 295.9M44.7 291.2L49.1 291.7M59.7 291.2L64.7 291.7M74.7 291.2L88.2 292.6M89.7 291.2L104.1 292.7M104.7 291.2L119.0 292.7M119.6 291.2L134.0 292.7M134.6 291.2L149.0 292.7M149.6 291.2L163.4 292.6M164.6 291.2L177.7 292.6M179.6 291.2L193.6 292.7M194.5 291.2L208.2 292.6M209.5 291.2L222.6 292.6M224.5 291.2L237.5 292.5M239.5 291.2L253.5 292.7M254.5 291.2L268.8 292.7M269.4 291.2L284.5 292.8M284.4 291.2L299.6 292.8M299.4 291.2L315.1 292.8M314.4 291.2L330.2 292.8M329.4 291.2L345.1 292.8M344.3 291.2L360.6 292.9M359.3 291.2L375.2 292.8M374.3 291.2L389.9 292.8M389.3 291.2L404.7 292.8M404.3 291.2L419.8 292.8M419.2 291.2L434.8 292.8M434.2 291.2L450.0 292.8M449.2 291.2L464.3 292.8M464.2 291.2L478.8 292.7M479.2 291.2L493.7 292.7M494.1 291.2L509.1 292.7M509.1 291.2L524.1 292.7M524.1 291.2L536.3 292.5M539.1 291.2L548.9 292.2M554.1 291.2L563.7 292.2M44.7 287.5L50.1 288.0M59.7 287.5L65.6 288.1M74.7 287.5L88.5 288.9M89.7 287.5L104.3 289.0M104.7 287.5L119.3 289.0M119.6 287.5L134.2 289.0M134.6 287.5L149.2 289.0M149.6 287.5L163.5 288.9M164.6 287.5L177.7 288.8M179.6 287.5L193.9 288.9M194.5 287.5L208.4 288.9M209.5 287.5L222.7 288.8M224.5 287.5L237.6 288.8M239.5 287.5L253.9 288.9M254.5 287.5L269.1 289.0M269.4 287.5L284.7 289.0M284.4 287.5L299.8 289.0M299.4 287.5L315.4 289.1M314.4 287.5L330.5 289.1M329.4 287.5L345.5 289.1M344.3 287.5L361.1 289.2M359.3 287.5L375.6 289.1M374.3 287.5L390.4 289.1M389.3 287.5L405.4 289.1M404.3 287.5L420.4 289.1M419.2 287.5L435.4 289.1M434.2 287.5L450.4 289.1M449.2 287.5L464.6 289.0M464.2 287.5L478.9 289.0M479.2 287.5L493.8 289.0M494.1 287.5L509.4 289.0M509.1 287.5L524.4 289.0M524.1 287.5L536.3 288.7M539.1 287.5L549.1 288.5M554.1 287.5L563.8 288.5M44.7 283.8L51.2 284.4M59.7 283.8L66.7 284.5M74.7 283.8L89.0 285.2M89.7 283.8L104.9 285.3M104.7 283.8L119.7 285.3M119.6 283.8L134.6 285.2M134.6 283.8L149.4 285.2M149.6 283.8L163.7 285.2M164.6 283.8L178.0 285.1M179.6 283.8L194.0 285.2M194.5 283.8L208.9 285.2M209.5 283.8L223.4 285.1M224.5 283.8L238.3 285.1M239.5 283.8L254.5 285.2M254.5 283.8L269.5 285.3M269.4 283.8L284.9 285.3M284.4 283.8L300.0 285.3M299.4 283.8L315.5 285.4M314.4 283.8L330.7 285.4M329.4 283.8L345.9 285.4M344.3 283.8L361.4 285.5M359.3 283.8L376.0 285.4M374.3 283.8L390.9 285.4M389.3 283.8L405.9 285.4M404.3 283.8L420.8 285.4M419.2 283.8L436.0 285.4M434.2 283.8L451.0 285.4M449.2 283.8L464.9 285.3M464.2 283.8L479.2 285.3M479.2 283.8L494.1 285.2M494.1 283.8L509.6 285.3M509.1 283.8L524.7 285.3M524.1 283.8L536.4 285.0M539.1 283.8L549.1 284.8M554.1 283.8L563.8 284.7M44.7 280.0L52.2 280.7M59.7 280.0L67.6 280.8M74.7 280.0L89.5 281.5M89.7 280.0L105.4 281.6M104.7 280.0L120.1 281.5M119.6 280.0L135.0 281.5M134.6 280.0L149.6 281.5M149.6 280.0L163.9 281.4M164.6 280.0L178.4 281.4M179.6 280.0L194.1 281.4M194.5 280.0L209.4 281.5M209.5 280.0L224.1 281.5M224.5 280.0L239.0 281.5M239.5 280.0L255.1 281.6M254.5 280.0L269.9 281.5M269.4 280.0L285.1 281.6M284.4 280.0L300.2 281.6M299.4 280.0L315.5 281.6M314.4 280.0L330.9 281.7M329.4 280.0L346.3 281.7M344.3 280.0L361.6 281.7M359.3 280.0L376.3 281.7M374.3 280.0L391.2 281.7M389.3 280.0L406.2 281.7M404.3 280.0L421.2 281.7M419.2 280.0L436.5 281.7M434.2 280.0L451.5 281.7M449.2 280.0L465.1 281.6M464.2 280.0L479.6 281.5M479.2 280.0L494.5 281.5M494.1 280.0L509.9 281.6M509.1 280.0L524.9 281.6M524.1 280.0L536.4 281.2M539.1 280.0L549.1 281.0M554.1 280.0L563.8 281.0M44.7 276.2L52.9 277.1M59.7 276.2L67.9 277.1M74.7 276.2L90.2 277.8M89.7 276.2L106.1 277.9M104.7 276.2L120.5 277.8M119.6 276.2L135.4 277.8M134.6 276.2L149.9 277.8M149.6 276.2L164.1 277.7M164.6 276.2L178.8 277.7M179.6 276.2L194.1 277.7M194.5 276.2L210.0 277.8M209.5 276.2L224.9 277.8M224.5 276.2L239.9 277.8M239.5 276.2L255.7 277.9M254.5 276.2L270.3 277.8M269.4 276.2L285.4 277.8M284.4 276.2L300.4 277.8M299.4 276.2L315.6 277.9M314.4 276.2L331.1 277.9M329.4 276.2L346.7 278.0M344.3 276.2L361.9 278.0M359.3 276.2L376.7 278.0M374.3 276.2L391.7 278.0M389.3 276.2L406.7 278.0M404.3 276.2L421.6 278.0M419.2 276.2L437.1 278.0M434.2 276.2L452.2 278.0M449.2 276.2L465.4 277.9M464.2 276.2L480.0 277.8M479.2 276.2L494.9 277.8M494.1 276.2L510.1 277.8M509.1 276.2L525.1 277.8M524.1 276.2L536.4 277.5M539.1 276.2L549.1 277.3M554.1 276.2L563.8 277.2M44.7 272.5L52.9 273.3M59.7 272.5L67.9 273.3M74.7 272.5L90.7 274.1M89.7 272.5L107.5 274.3M104.7 272.5L120.9 274.1M119.6 272.5L135.7 274.1M134.6 272.5L150.1 274.0M149.6 272.5L164.3 274.0M164.6 272.5L179.1 274.0M179.6 272.5L194.2 274.0M194.5 272.5L210.5 274.1M209.5 272.5L225.6 274.1M224.5 272.5L240.6 274.1M239.5 272.5L256.3 274.2M254.5 272.5L270.7 274.1M269.4 272.5L285.6 274.1M284.4 272.5L300.6 274.1M299.4 272.5L315.6 274.1M314.4 272.5L331.3 274.2M329.4 272.5L347.0 274.3M344.3 272.5L362.1 274.3M359.3 272.5L377.1 274.3M374.3 272.5L392.0 274.3M389.3 272.5L407.0 274.3M404.3 272.5L422.0 274.3M419.2 272.5L437.6 274.3M434.2 272.5L452.7 274.3M449.2 272.5L465.7 274.1M464.2 272.5L480.3 274.1M479.2 272.5L495.3 274.1M494.1 272.5L510.3 274.1M509.1 272.5L525.3 274.1M524.1 272.5L536.4 273.7M539.1 272.5L549.1 273.5M554.1 272.5L563.9 273.5M44.7 268.8L52.9 269.6M59.7 268.8L67.9 269.6M74.7 268.8L91.8 270.5M89.7 268.8L107.5 270.5M104.7 268.8L121.0 270.4M119.6 268.8L135.8 270.4M134.6 268.8L150.3 270.3M149.6 268.8L164.6 270.3M164.6 268.8L179.2 270.2M179.6 268.8L194.5 270.2M194.5 268.8L210.8 270.4M209.5 268.8L225.9 270.4M224.5 268.8L241.1 270.4M239.5 268.8L256.6 270.5M254.5 268.8L271.1 270.4M269.4 268.8L285.7 270.4M284.4 268.8L300.8 270.4M299.4 268.8L316.0 270.4M314.4 268.8L331.7 270.5M329.4 268.8L347.4 270.6M344.3 268.8L362.5 270.6M359.3 268.8L377.5 270.6M374.3 268.8L392.5 270.6M389.3 268.8L407.5 270.6M404.3 268.8L422.4 270.6M419.2 268.8L437.9 270.6M434.2 268.8L453.0 270.6M449.2 268.8L466.2 270.5M464.2 268.8L480.8 270.4M479.2 268.8L495.7 270.4M494.1 268.8L510.5 270.4M509.1 268.8L525.5 270.4M524.1 268.8L536.4 270.0M539.1 268.8L549.4 269.8M554.1 268.8L564.2 269.8M44.7 265.0L52.9 265.8M59.7 265.0L68.4 265.9M74.7 265.0L92.5 266.8M89.7 265.0L107.5 266.8M104.7 265.0L121.0 266.6M119.6 265.0L135.8 266.6M134.6 265.0L150.4 266.6M149.6 265.0L165.0 266.5M164.6 265.0L179.3 266.5M179.6 265.0L194.8 266.5M194.5 265.0L211.0 266.6M209.5 265.0L226.1 266.7M224.5 265.0L241.4 266.7M239.5 265.0L256.8 266.7M254.5 265.0L271.5 266.7M269.4 265.0L285.7 266.6M284.4 265.0L300.9 266.7M299.4 265.0L316.3 266.7M314.4 265.0L332.0 266.8M329.4 265.0L347.8 266.8M344.3 265.0L362.9 266.9M359.3 265.0L377.9 266.9M374.3 265.0L392.8 266.9M389.3 265.0L407.8 266.9M404.3 265.0L422.8 266.9M419.2 265.0L438.1 266.9M434.2 265.0L453.2 266.9M449.2 265.0L466.7 266.8M464.2 265.0L481.2 266.7M479.2 265.0L496.1 266.7M494.1 265.0L510.7 266.7M509.1 265.0L525.6 266.7M524.1 265.0L536.3 266.2M539.1 265.0L549.8 266.1M554.1 265.0L564.6 266.1M44.7 261.2L52.9 262.1M59.7 261.2L69.0 262.2M74.7 261.2L92.5 263.0M89.7 261.2L107.5 263.0M104.7 261.2L121.0 262.9M119.6 261.2L135.8 262.9M134.6 261.2L150.6 262.9M149.6 261.2L165.4 262.8M164.6 261.2L179.3 262.7M179.6 261.2L195.2 262.8M194.5 261.2L211.2 262.9M209.5 261.2L226.3 262.9M224.5 261.2L241.8 263.0M239.5 261.2L257.0 263.0M254.5 261.2L271.9 263.0M269.4 261.2L285.8 262.9M284.4 261.2L301.1 262.9M299.4 261.2L316.7 263.0M314.4 261.2L332.5 263.1M329.4 261.2L348.2 263.1M344.3 261.2L363.3 263.1M359.3 261.2L378.3 263.1M374.3 261.2L393.3 263.1M389.3 261.2L408.3 263.1M404.3 261.2L423.2 263.1M419.2 261.2L438.4 263.2M434.2 261.2L453.4 263.2M449.2 261.2L467.3 263.1M464.2 261.2L481.6 263.0M479.2 261.2L496.5 263.0M494.1 261.2L511.0 262.9M509.1 261.2L525.9 262.9M524.1 261.2L536.2 262.5M539.1 261.2L550.1 262.4M554.1 261.2L565.0 262.3M44.7 257.5L52.9 258.3M59.7 257.5L69.5 258.5M74.7 257.5L92.5 259.3M89.7 257.5L107.5 259.3M104.7 257.5L121.0 259.1M119.6 257.5L135.8 259.1M134.6 257.5L150.7 259.1M149.6 257.5L165.6 259.1M164.6 257.5L179.3 259.0M179.6 257.5L195.5 259.1M194.5 257.5L211.4 259.2M209.5 257.5L226.5 259.2M224.5 257.5L242.1 259.3M239.5 257.5L257.2 259.3M254.5 257.5L272.2 259.3M269.4 257.5L285.8 259.1M284.4 257.5L301.3 259.2M299.4 257.5L317.0 259.3M314.4 257.5L332.8 259.3M329.4 257.5L348.6 259.4M344.3 257.5L363.7 259.4M359.3 257.5L378.6 259.4M374.3 257.5L393.6 259.4M389.3 257.5L408.6 259.4M404.3 257.5L423.6 259.4M419.2 257.5L438.6 259.4M434.2 257.5L453.6 259.4M449.2 257.5L467.8 259.4M464.2 257.5L482.0 259.3M479.2 257.5L496.9 259.3M494.1 257.5L511.2 259.2M509.1 257.5L526.0 259.2M524.1 257.5L536.1 258.7M539.1 257.5L550.4 258.6M554.1 257.5L565.4 258.6M44.7 253.8L52.9 254.6M59.7 253.8L69.8 254.8M74.7 253.8L92.5 255.5M89.7 253.8L107.5 255.5M104.7 253.8L121.0 255.4M119.6 253.8L135.8 255.4M134.6 253.8L150.6 255.4M149.6 253.8L165.4 255.3M164.6 253.8L179.3 255.2M179.6 253.8L195.6 255.4M194.5 253.8L211.6 255.5M209.5 253.8L226.7 255.5M224.5 253.8L242.2 255.5M239.5 253.8L257.3 255.5M254.5 253.8L272.2 255.5M269.4 253.8L286.0 255.4M284.4 253.8L301.5 255.5M299.4 253.8L317.4 255.5M314.4 253.8L332.9 255.6M329.4 253.8L348.7 255.7M344.3 253.8L363.8 255.7M359.3 253.8L378.8 255.7M374.3 253.8L393.9 255.7M389.3 253.8L409.0 255.7M404.3 253.8L424.0 255.7M419.2 253.8L438.9 255.7M434.2 253.8L454.0 255.7M449.2 253.8L468.2 255.6M464.2 253.8L482.5 255.6M479.2 253.8L497.4 255.6M494.1 253.8L511.6 255.5M509.1 253.8L526.3 255.5M524.1 253.8L536.1 255.0M539.1 253.8L550.5 254.9M554.1 253.8L565.4 254.9M44.7 250.0L52.9 250.8M59.7 250.0L69.5 251.0M74.7 250.0L92.5 251.8M89.7 250.0L107.5 251.8M104.7 250.0L121.0 251.6M119.6 250.0L135.8 251.6M134.6 250.0L150.5 251.6M149.6 250.0L165.0 251.5M164.6 250.0L179.3 251.5M179.6 250.0L195.6 251.6M194.5 250.0L211.8 251.7M209.5 250.0L226.9 251.7M224.5 250.0L242.2 251.8M239.5 250.0L257.3 251.8M254.5 250.0L272.2 251.8M269.4 250.0L286.2 251.7M284.4 250.0L301.7 251.7M299.4 250.0L317.7 251.8M314.4 250.0L332.9 251.9M329.4 250.0L348.8 251.9M344.3 250.0L363.9 252.0M359.3 250.0L378.9 252.0M374.3 250.0L394.0 252.0M389.3 250.0L409.4 252.0M404.3 250.0L424.4 252.0M419.2 250.0L439.3 252.0M434.2 250.0L454.3 252.0M449.2 250.0L468.5 251.9M464.2 250.0L483.0 251.9M479.2 250.0L497.9 251.9M494.1 250.0L511.9 251.8M509.1 250.0L526.5 251.7M524.1 250.0L536.2 251.2M539.1 250.0L550.5 251.1M554.1 250.0L565.4 251.1M44.7 246.2L52.9 247.1M59.7 246.2L69.0 247.2M74.7 246.2L92.5 248.0M89.7 246.2L107.5 248.0M104.7 246.2L121.0 247.9M119.6 246.2L135.8 247.9M134.6 246.2L150.3 247.8M149.6 246.2L164.6 247.8M164.6 246.2L179.2 247.7M179.6 246.2L195.6 247.9M194.5 246.2L212.0 248.0M209.5 246.2L227.1 248.0M224.5 246.2L242.2 248.0M239.5 246.2L257.3 248.0M254.5 246.2L272.2 248.0M269.4 246.2L286.4 247.9M284.4 246.2L301.9 248.0M299.4 246.2L318.0 248.1M314.4 246.2L333.0 248.1M329.4 246.2L348.9 248.2M344.3 246.2L364.1 248.2M359.3 246.2L379.1 248.2M374.3 246.2L394.2 248.2M389.3 246.2L409.8 248.3M404.3 246.2L424.8 248.3M419.2 246.2L439.6 248.3M434.2 246.2L454.8 248.3M449.2 246.2L468.9 248.2M464.2 246.2L483.5 248.2M479.2 246.2L498.5 248.2M494.1 246.2L512.2 248.1M509.1 246.2L526.7 248.0M524.1 246.2L536.2 247.5M539.1 246.2L550.5 247.4M554.1 246.2L565.4 247.4M44.7 242.5L52.9 243.3M59.7 242.5L68.4 243.4M74.7 242.5L92.5 244.3M89.7 242.5L107.5 244.3M104.7 242.5L121.0 244.1M119.6 242.5L135.8 244.1M134.6 242.5L150.1 244.1M149.6 242.5L164.3 244.0M164.6 242.5L179.2 244.0M179.6 242.5L195.6 244.1M194.5 242.5L212.1 244.3M209.5 242.5L227.3 244.3M224.5 242.5L242.3 244.3M239.5 242.5L257.3 244.3M254.5 242.5L272.2 244.3M269.4 242.5L286.5 244.2M284.4 242.5L302.1 244.3M299.4 242.5L318.2 244.4M314.4 242.5L333.0 244.4M329.4 242.5L349.0 244.5M344.3 242.5L364.2 244.5M359.3 242.5L379.2 244.5M374.3 242.5L394.4 244.5M389.3 242.5L410.1 244.6M404.3 242.5L425.2 244.6M419.2 242.5L439.9 244.6M434.2 242.5L455.1 244.6M449.2 242.5L469.1 244.5M464.2 242.5L483.9 244.5M479.2 242.5L498.9 244.5M494.1 242.5L512.5 244.3M509.1 242.5L526.9 244.3M524.1 242.5L536.2 243.7M539.1 242.5L550.5 243.6M554.1 242.5L565.4 243.6M44.7 238.8L52.9 239.6M59.7 238.8L67.9 239.6M74.7 238.8L92.4 240.5M89.7 238.8L107.5 240.5M104.7 238.8L121.0 240.4M119.6 238.8L135.8 240.4M134.6 238.8L150.1 240.3M149.6 238.8L164.3 240.2M164.6 238.8L179.2 240.2M179.6 238.8L195.6 240.4M194.5 238.8L212.1 240.5M209.5 238.8L227.3 240.5M224.5 238.8L242.3 240.5M239.5 238.8L257.3 240.5M254.5 238.8L272.2 240.5M269.4 238.8L286.5 240.5M284.4 238.8L302.1 240.5M299.4 238.8L318.3 240.6M314.4 238.8L333.0 240.6M329.4 238.8L349.0 240.7M344.3 238.8L364.2 240.7M359.3 238.8L379.2 240.7M374.3 238.8L394.4 240.8M389.3 238.8L410.2 240.8M404.3 238.8L425.2 240.8M419.2 238.8L439.9 240.8M434.2 238.8L455.1 240.8M449.2 238.8L469.2 240.7M464.2 238.8L484.0 240.7M479.2 238.8L499.0 240.7M494.1 238.8L512.6 240.6M509.1 238.8L526.9 240.5M524.1 238.8L536.2 240.0M539.1 238.8L550.5 239.9M554.1 238.8L565.4 239.9"/>
<path fill="#000" d="M52.9 412.6L54.0 412.2L53.0 411.6zM67.9 412.6L69.0 412.2L68.0 411.6zM82.8 412.6L84.0 412.2L82.9 411.6zM99.1 412.8L100.8 412.4L99.3 411.6zM114.1 412.8L115.8 412.4L114.3 411.6zM129.1 412.8L130.7 412.4L129.2 411.6zM144.1 412.8L145.7 412.4L144.2 411.6zM159.1 412.8L160.7 412.4L159.2 411.6zM174.0 412.8L175.7 412.4L174.2 411.6zM189.0 412.8L190.7 412.4L189.2 411.6zM204.0 412.8L205.6 412.4L204.1 411.6zM219.0 412.8L220.6 412.4L219.1 411.6zM234.0 412.8L235.6 412.4L234.1 411.6zM248.9 412.8L250.6 412.4L249.1 411.6zM263.9 412.8L265.6 412.4L264.1 411.6zM278.9 412.8L280.5 412.4L279.0 411.6zM293.9 412.8L295.6 412.4L294.0 411.6zM311.9 413.5L314.7 412.8L312.1 411.6zM327.4 413.6L330.3 412.8L327.6 411.5zM342.4 413.6L345.3 412.8L342.6 411.5zM357.3 413.6L360.2 412.8L357.5 411.5zM372.3 413.6L375.2 412.8L372.5 411.5zM387.3 413.6L390.2 412.8L387.5 411.5zM402.3 413.6L405.2 412.8L402.5 411.5zM417.3 413.6L420.2 412.8L417.5 411.5zM432.2 413.6L435.1 412.8L432.4 411.5zM447.2 413.6L450.1 412.8L447.4 411.5zM462.2 413.6L465.1 412.8L462.4 411.5zM477.2 413.6L480.1 412.8L477.4 411.5zM492.2 413.6L495.1 412.8L492.4 411.5zM507.1 413.6L510.1 412.8L507.4 411.5zM524.1 414.0L527.7 413.1L524.3 411.5zM534.5 413.0L536.4 412.5L534.6 411.6zM548.8 412.9L550.5 412.4L548.9 411.6zM563.8 412.9L565.5 412.4L563.9 411.6zM52.9 408.8L54.0 408.4L53.0 407.8zM67.9 408.8L69.0 408.4L68.0 407.8zM82.8 408.8L84.0 408.4L82.9 407.8zM99.6 409.2L101.4 408.7L99.7 407.8zM114.6 409.2L116.4 408.7L114.7 407.8zM129.6 409.2L131.4 408.7L129.7 407.8zM144.5 409.2L146.3 408.7L144.7 407.8zM159.5 409.2L161.3 408.7L159.7 407.8zM174.5 409.2L176.3 408.7L174.6 407.8zM189.5 409.2L191.3 408.7L189.6 407.8zM204.5 409.2L206.3 408.7L204.6 407.8zM219.4 409.2L221.3 408.7L219.6 407.8zM234.4 409.2L236.2 408.7L234.6 407.8zM249.4 409.2L251.2 408.7L249.5 407.8zM264.4 409.2L266.2 408.7L264.5 407.8zM279.4 409.2L281.2 408.7L279.5 407.8zM294.4 409.2L296.2 408.7L294.5 407.8zM314.6 410.3L318.3 409.4L314.9 407.8zM330.6 410.5L334.6 409.5L330.9 407.8zM345.6 410.5L349.7 409.5L345.9 407.8zM360.6 410.5L364.6 409.5L360.9 407.8zM375.6 410.5L379.6 409.5L375.8 407.8zM390.5 410.5L394.6 409.5L390.8 407.8zM405.5 410.5L409.6 409.5L405.8 407.8zM420.4 410.5L424.5 409.5L420.7 407.8zM435.3 410.5L439.3 409.5L435.6 407.8zM450.3 410.5L454.2 409.5L450.5 407.8zM465.2 410.5L469.2 409.5L465.5 407.8zM480.2 410.5L484.2 409.5L480.5 407.8zM495.2 410.5L499.2 409.5L495.5 407.8zM510.2 410.5L514.2 409.5L510.4 407.8zM524.5 410.3L528.3 409.4L524.8 407.8zM534.5 409.3L536.5 408.7L534.7 407.8zM548.8 409.1L550.5 408.6L548.9 407.8zM563.8 409.1L565.5 408.6L563.9 407.8zM52.9 405.1L54.0 404.7L53.0 404.1zM67.9 405.1L69.0 404.7L68.0 404.1zM82.8 405.1L84.0 404.7L82.9 404.1zM101.9 405.9L104.5 405.2L102.1 404.1zM117.2 406.0L120.0 405.3L117.4 404.1zM132.3 406.0L135.0 405.3L132.4 404.0zM147.2 406.0L150.0 405.3L147.4 404.0zM162.2 406.0L165.0 405.3L162.4 404.0zM177.5 406.1L180.4 405.3L177.7 404.0zM192.5 406.1L195.4 405.3L192.7 404.0zM207.5 406.1L210.4 405.3L207.7 404.0zM222.5 406.1L225.4 405.3L222.7 404.0zM237.5 406.1L240.4 405.3L237.7 404.0zM252.5 406.1L255.4 405.3L252.7 404.0zM267.4 406.1L270.3 405.3L267.6 404.0zM282.4 406.1L285.3 405.3L282.6 404.0zM297.6 406.1L300.5 405.4L297.8 404.0zM316.7 407.0L321.1 405.9L317.0 404.0zM333.1 407.3L338.0 406.1L333.4 404.0zM348.1 407.3L353.1 406.1L348.5 404.0zM363.1 407.3L368.1 406.1L363.4 404.0zM378.1 407.3L383.1 406.1L378.5 404.0zM393.1 407.3L398.1 406.1L393.5 404.0zM408.1 407.3L413.1 406.1L408.4 404.0zM422.8 407.2L427.7 406.1L423.1 404.0zM436.9 407.0L441.5 406.0L437.2 404.0zM451.8 407.0L456.3 406.0L452.1 404.0zM466.7 407.0L471.3 406.0L467.0 404.0zM481.7 407.0L486.2 406.0L482.0 404.0zM496.7 407.0L501.2 406.0L497.0 404.0zM511.7 407.0L516.2 406.0L512.0 404.0zM525.5 406.8L529.7 405.8L525.8 404.0zM535.0 405.6L537.1 405.1L535.1 404.1zM548.9 405.4L550.6 404.9L549.0 404.1zM563.8 405.4L565.5 404.9L563.9 404.1zM52.9 401.3L54.0 400.9L53.0 400.3zM67.9 401.3L69.0 400.9L68.0 400.3zM82.9 401.3L84.0 400.9L83.0 400.3zM104.9 402.8L108.6 401.9L105.2 400.3zM121.1 403.0L125.2 402.1L121.4 400.3zM136.2 403.1L140.4 402.1L136.5 400.3zM151.2 403.1L155.4 402.1L151.5 400.3zM166.2 403.1L170.4 402.1L166.5 400.3zM182.3 403.3L186.8 402.2L182.6 400.3zM197.5 403.3L202.1 402.3L197.8 400.3zM212.5 403.3L217.1 402.3L212.8 400.3zM227.4 403.3L232.1 402.3L227.7 400.3zM242.4 403.3L247.1 402.3L242.7 400.3zM257.4 403.3L262.1 402.3L257.7 400.3zM272.4 403.3L277.0 402.3L272.7 400.3zM287.4 403.3L292.0 402.3L287.7 400.3zM302.9 403.5L307.8 402.3L303.2 400.3zM318.3 403.6L323.3 402.4L318.6 400.3zM333.7 403.6L338.9 402.5L334.1 400.3zM348.5 403.6L353.6 402.4L348.8 400.3zM363.4 403.6L368.5 402.4L363.8 400.3zM378.7 403.6L383.9 402.5L379.0 400.3zM393.7 403.7L398.9 402.5L394.0 400.3zM408.7 403.7L413.9 402.5L409.0 400.3zM423.6 403.6L428.7 402.4L423.9 400.3zM437.1 403.3L441.7 402.2L437.4 400.3zM451.8 403.3L456.4 402.2L452.1 400.3zM466.8 403.3L471.4 402.2L467.1 400.3zM481.8 403.3L486.4 402.2L482.1 400.3zM496.8 403.3L501.3 402.2L497.1 400.3zM511.8 403.3L516.3 402.2L512.1 400.3zM526.5 403.2L530.9 402.2L526.8 400.3zM535.4 402.0L537.6 401.4L535.5 400.3zM548.9 401.7L550.6 401.2L549.0 400.3zM563.8 401.6L565.5 401.1L563.9 400.3zM52.9 397.6L54.0 397.2L53.0 396.6zM67.9 397.6L69.0 397.2L68.0 396.6zM83.0 397.6L84.2 397.2L83.1 396.6zM105.8 399.2L109.9 398.3L106.1 396.5zM122.1 399.5L126.6 398.4L122.4 396.5zM137.3 399.5L141.8 398.5L137.6 396.5zM152.2 399.5L156.8 398.5L152.5 396.5zM167.2 399.5L171.8 398.5L167.5 396.5zM182.9 399.7L187.7 398.6L183.2 396.5zM198.7 399.8L203.8 398.7L199.0 396.5zM213.7 399.9L218.9 398.7L214.1 396.5zM228.7 399.9L233.8 398.7L229.1 396.5zM243.7 399.9L248.8 398.7L244.0 396.5zM258.7 399.9L263.8 398.7L259.0 396.5zM273.7 399.9L278.8 398.7L274.0 396.5zM288.6 399.9L293.8 398.7L289.0 396.5zM304.3 400.0L309.7 398.8L304.7 396.5zM318.7 399.9L323.9 398.7L319.0 396.5zM333.7 399.9L338.9 398.7L334.1 396.5zM348.2 399.8L353.2 398.6L348.6 396.5zM363.2 399.8L368.1 398.6L363.5 396.5zM378.6 399.9L383.8 398.7L378.9 396.5zM393.7 399.9L398.8 398.7L394.0 396.5zM408.6 399.9L413.8 398.7L409.0 396.5zM423.6 399.9L428.8 398.7L423.9 396.5zM437.1 399.6L441.7 398.5L437.4 396.5zM451.8 399.5L456.4 398.5L452.1 396.5zM466.8 399.5L471.4 398.5L467.1 396.5zM481.8 399.5L486.4 398.5L482.1 396.5zM496.8 399.5L501.3 398.5L497.1 396.5zM511.8 399.5L516.3 398.5L512.1 396.5zM526.7 399.5L531.2 398.5L527.0 396.5zM535.6 398.3L538.0 397.6L535.8 396.6zM548.9 397.9L550.7 397.4L549.1 396.6zM563.8 397.9L565.5 397.4L563.9 396.6zM52.9 393.8L54.0 393.4L53.0 392.8zM67.9 393.8L69.0 393.4L68.0 392.8zM83.6 394.0L85.1 393.5L83.7 392.8zM106.0 395.5L110.1 394.5L106.3 392.8zM122.1 395.7L126.5 394.7L122.4 392.8zM137.2 395.8L141.7 394.7L137.5 392.8zM152.2 395.8L156.7 394.7L152.5 392.8zM167.1 395.8L171.7 394.7L167.4 392.8zM182.3 395.8L186.8 394.7L182.6 392.8zM198.5 396.1L203.5 394.9L198.8 392.8zM213.7 396.1L218.8 394.9L214.0 392.8zM228.7 396.1L233.8 394.9L229.0 392.8zM243.7 396.1L248.8 394.9L244.0 392.8zM258.6 396.1L263.7 394.9L259.0 392.8zM273.6 396.1L278.7 394.9L273.9 392.8zM288.6 396.1L293.7 394.9L288.9 392.8zM304.3 396.2L309.6 395.0L304.6 392.8zM318.7 396.1L323.8 394.9L319.0 392.8zM333.5 396.1L338.6 394.9L333.9 392.8zM347.9 396.0L352.8 394.8L348.2 392.8zM362.8 396.0L367.7 394.8L363.1 392.8zM378.4 396.1L383.5 394.9L378.7 392.8zM393.5 396.1L398.6 394.9L393.8 392.8zM408.4 396.1L413.5 394.9L408.8 392.8zM423.4 396.1L428.5 394.9L423.7 392.8zM437.0 395.8L441.6 394.7L437.3 392.8zM451.8 395.8L456.3 394.7L452.1 392.8zM466.7 395.8L471.3 394.7L467.0 392.8zM481.7 395.8L486.3 394.7L482.0 392.8zM496.7 395.8L501.2 394.7L497.0 392.8zM511.7 395.8L516.2 394.7L512.0 392.8zM526.6 395.8L531.1 394.7L526.9 392.8zM535.8 394.6L538.2 393.9L536.0 392.8zM548.9 394.2L550.7 393.7L549.1 392.8zM563.8 394.1L565.5 393.6L563.9 392.8zM52.9 390.1L54.0 389.7L53.0 389.1zM67.9 390.1L69.0 389.7L68.0 389.1zM85.7 390.7L87.9 390.1L85.9 389.1zM105.9 391.7L109.9 390.8L106.1 389.0zM121.4 391.9L125.7 390.9L121.7 389.0zM136.6 391.9L140.9 390.9L136.9 389.0zM151.6 391.9L155.9 390.9L151.9 389.0zM166.6 391.9L170.9 390.9L166.9 389.0zM181.6 391.9L185.9 390.9L181.9 389.0zM197.5 392.1L202.1 391.0L197.8 389.0zM213.3 392.3L218.2 391.1L213.6 389.0zM228.3 392.3L233.3 391.1L228.7 389.0zM243.3 392.3L248.3 391.1L243.6 389.0zM258.3 392.3L263.3 391.1L258.6 389.0zM273.3 392.3L278.2 391.1L273.6 389.0zM288.3 392.3L293.2 391.1L288.6 389.0zM303.9 392.4L309.1 391.2L304.3 389.0zM318.5 392.3L323.6 391.2L318.8 389.0zM333.0 392.2L337.9 391.1L333.3 389.0zM347.6 392.2L352.4 391.0L347.9 389.0zM362.5 392.2L367.3 391.0L362.8 389.0zM377.8 392.2L382.7 391.1L378.2 389.0zM392.9 392.2L397.8 391.1L393.2 389.0zM407.9 392.2L412.7 391.1L408.2 389.0zM422.7 392.2L427.5 391.1L423.0 389.0zM436.6 392.0L441.1 390.9L436.9 389.0zM451.3 391.9L455.6 390.9L451.6 389.0zM466.2 391.9L470.6 390.9L466.5 389.0zM481.2 391.9L485.6 390.9L481.5 389.0zM496.0 391.9L500.3 390.9L496.3 389.0zM511.0 391.9L515.2 390.9L511.3 389.0zM525.9 391.9L530.2 390.9L526.2 389.0zM535.9 390.8L538.3 390.2L536.1 389.1zM549.0 390.4L550.8 389.9L549.1 389.1zM563.8 390.4L565.5 389.9L563.9 389.1zM52.9 386.3L54.0 385.9L53.0 385.3zM67.9 386.3L69.0 385.9L68.0 385.3zM87.8 387.3L90.7 386.6L88.0 385.3zM105.7 388.0L109.7 387.0L106.0 385.3zM120.8 388.0L124.9 387.0L121.1 385.3zM136.2 388.1L140.3 387.1L136.4 385.3zM151.2 388.1L155.4 387.1L151.5 385.3zM166.1 388.0L170.2 387.1L166.3 385.3zM181.1 388.1L185.2 387.1L181.4 385.3zM196.6 388.2L201.0 387.1L196.9 385.3zM212.8 388.4L217.6 387.3L213.1 385.3zM227.9 388.4L232.7 387.3L228.2 385.3zM242.9 388.4L247.7 387.3L243.2 385.3zM257.9 388.5L262.8 387.3L258.2 385.3zM272.9 388.5L277.7 387.3L273.2 385.3zM287.9 388.5L292.8 387.3L288.2 385.3zM303.6 388.6L308.7 387.4L303.9 385.3zM318.3 388.6L323.3 387.4L318.7 385.3zM332.5 388.4L337.3 387.3L332.8 385.3zM347.3 388.4L352.0 387.3L347.6 385.3zM362.3 388.3L366.9 387.3L362.6 385.3zM377.3 388.4L381.9 387.3L377.6 385.3zM392.2 388.3L396.8 387.3L392.5 385.3zM407.1 388.3L411.8 387.2L407.4 385.3zM421.9 388.3L426.4 387.2L422.2 385.3zM436.1 388.1L440.3 387.1L436.3 385.3zM450.7 388.0L454.8 387.1L451.0 385.3zM465.7 388.0L469.8 387.1L465.9 385.3zM480.7 388.0L484.8 387.1L480.9 385.3zM495.3 388.0L499.3 387.0L495.6 385.3zM510.2 388.0L514.2 387.0L510.5 385.3zM525.2 388.0L529.2 387.0L525.5 385.3zM535.9 387.1L538.4 386.4L536.1 385.3zM549.0 386.7L550.8 386.2L549.1 385.3zM563.8 386.6L565.5 386.1L563.9 385.3zM52.9 382.6L54.0 382.2L53.0 381.6zM67.9 382.6L69.0 382.2L68.0 381.6zM89.4 383.9L92.9 383.1L89.6 381.5zM105.7 384.2L109.7 383.3L106.0 381.5zM120.6 384.2L124.5 383.2L120.8 381.5zM136.5 384.4L140.8 383.4L136.8 381.5zM151.6 384.4L155.9 383.4L151.9 381.5zM165.8 384.2L169.8 383.3L166.0 381.5zM181.1 384.3L185.3 383.3L181.4 381.5zM196.7 384.4L201.1 383.4L197.0 381.5zM212.1 384.5L216.7 383.5L212.4 381.5zM227.1 384.5L231.7 383.5L227.4 381.5zM242.3 384.6L246.9 383.5L242.6 381.5zM257.5 384.6L262.2 383.5L257.8 381.5zM272.5 384.6L277.2 383.5L272.8 381.5zM287.8 384.7L292.6 383.6L288.1 381.5zM303.5 384.8L308.6 383.7L303.9 381.5zM318.4 384.8L323.5 383.7L318.8 381.5zM332.3 384.6L337.0 383.5L332.6 381.5zM347.1 384.6L351.7 383.5L347.4 381.5zM361.8 384.5L366.3 383.4L362.1 381.5zM376.4 384.4L380.7 383.4L376.6 381.5zM390.9 384.3L395.1 383.3L391.2 381.5zM405.5 384.2L409.6 383.3L405.8 381.5zM420.3 384.2L424.3 383.3L420.6 381.5zM434.6 384.1L438.3 383.2L434.8 381.5zM449.6 384.1L453.4 383.2L449.9 381.5zM465.0 384.2L468.9 383.2L465.3 381.5zM480.0 384.2L483.9 383.2L480.3 381.5zM494.5 384.1L498.2 383.2L494.7 381.5zM509.4 384.0L513.1 383.1L509.6 381.5zM524.7 384.1L528.5 383.2L525.0 381.5zM536.0 383.3L538.5 382.7L536.2 381.6zM549.0 382.9L550.8 382.4L549.1 381.6zM563.8 382.9L565.5 382.4L563.9 381.6zM52.9 378.8L54.0 378.4L53.0 377.8zM67.9 378.8L69.0 378.4L68.0 377.8zM89.8 380.3L93.4 379.4L90.0 377.8zM105.7 380.5L109.7 379.5L106.0 377.8zM120.5 380.4L124.4 379.5L120.7 377.8zM136.9 380.7L141.4 379.7L137.2 377.8zM152.1 380.8L156.6 379.7L152.4 377.8zM165.6 380.4L169.6 379.5L165.9 377.8zM181.3 380.6L185.5 379.6L181.6 377.8zM197.0 380.8L201.5 379.7L197.3 377.8zM211.6 380.7L215.9 379.6L211.9 377.8zM226.5 380.6L230.8 379.6L226.8 377.8zM241.7 380.7L246.1 379.7L242.0 377.8zM257.1 380.8L261.7 379.7L257.4 377.8zM272.1 380.8L276.7 379.7L272.4 377.8zM287.7 380.9L292.5 379.8L288.0 377.8zM303.4 381.1L308.5 379.9L303.8 377.8zM318.5 381.1L323.5 379.9L318.8 377.8zM332.2 380.8L336.8 379.7L332.5 377.8zM347.0 380.8L351.5 379.7L347.3 377.8zM361.3 380.7L365.6 379.6L361.6 377.8zM375.6 380.5L379.7 379.5L375.9 377.8zM389.9 380.4L393.7 379.4L390.1 377.8zM404.1 380.2L407.7 379.3L404.3 377.8zM418.9 380.2L422.4 379.3L419.2 377.8zM433.2 380.0L436.5 379.2L433.5 377.8zM448.7 380.1L452.2 379.3L449.0 377.8zM464.5 380.3L468.2 379.4L464.7 377.8zM479.5 380.3L483.3 379.4L479.8 377.8zM493.8 380.2L497.3 379.3L494.1 377.8zM508.7 380.2L512.2 379.3L509.0 377.8zM524.3 380.3L528.0 379.4L524.5 377.8zM536.1 379.6L538.6 379.0L536.3 377.8zM549.0 379.2L550.8 378.7L549.1 377.8zM563.8 379.1L565.5 378.6L563.9 377.8zM52.9 375.1L54.0 374.7L53.0 374.1zM67.9 375.1L69.0 374.7L68.0 374.1zM89.8 376.5L93.5 375.6L90.0 374.0zM105.7 376.7L109.7 375.8L106.0 374.0zM120.4 376.7L124.3 375.7L120.7 374.0zM137.0 377.0L141.5 375.9L137.3 374.0zM152.2 377.0L156.8 376.0L152.5 374.0zM165.6 376.7L169.5 375.7L165.8 374.0zM181.5 376.9L185.8 375.9L181.8 374.0zM197.1 377.0L201.6 376.0L197.4 374.0zM211.3 376.9L215.5 375.8L211.6 374.0zM226.2 376.8L230.4 375.8L226.4 374.0zM241.4 376.9L245.7 375.9L241.7 374.0zM257.0 377.0L261.5 376.0L257.3 374.0zM271.7 377.0L276.2 375.9L272.0 374.0zM287.2 377.1L291.8 376.0L287.5 374.0zM302.8 377.2L307.6 376.1L303.1 374.0zM317.8 377.2L322.6 376.1L318.1 374.0zM331.8 377.0L336.2 375.9L332.1 374.0zM346.8 377.0L351.2 375.9L347.1 374.0zM360.9 376.8L365.1 375.8L361.2 374.0zM375.1 376.6L378.9 375.7L375.3 374.0zM389.3 376.5L392.9 375.6L389.5 374.0zM403.3 376.3L406.5 375.5L403.5 374.0zM418.0 376.2L421.1 375.4L418.2 374.0zM432.4 376.1L435.4 375.4L432.6 374.0zM448.0 376.2L451.2 375.4L448.2 374.0zM464.1 376.5L467.7 375.6L464.4 374.0zM479.4 376.5L483.1 375.6L479.7 374.0zM493.5 376.4L496.9 375.5L493.8 374.0zM508.2 376.3L511.5 375.5L508.5 374.0zM523.9 376.4L527.4 375.6L524.1 374.0zM536.1 375.9L538.7 375.2L536.3 374.1zM549.0 375.4L550.8 374.9L549.2 374.1zM563.8 375.4L565.5 374.9L563.9 374.1zM52.9 371.3L54.0 370.9L53.0 370.3zM67.9 371.3L69.0 370.9L68.0 370.3zM89.8 372.8L93.5 371.9L90.0 370.3zM105.7 373.0L109.7 372.0L106.0 370.3zM120.4 372.9L124.3 372.0L120.7 370.3zM137.0 373.2L141.5 372.2L137.3 370.3zM152.2 373.3L156.8 372.2L152.5 370.3zM165.6 372.9L169.5 372.0L165.8 370.3zM181.6 373.2L186.0 372.1L181.9 370.3zM197.1 373.3L201.7 372.2L197.4 370.3zM211.1 373.1L215.3 372.1L211.4 370.3zM226.0 373.0L230.1 372.1L226.3 370.3zM241.2 373.1L245.5 372.1L241.5 370.3zM257.0 373.3L261.5 372.2L257.3 370.3zM271.4 373.1L275.7 372.1L271.7 370.3zM286.7 373.2L291.1 372.2L286.9 370.3zM302.0 373.3L306.6 372.2L302.3 370.3zM317.1 373.3L321.6 372.2L317.4 370.3zM331.3 373.1L335.7 372.1L331.6 370.3zM346.5 373.2L350.9 372.2L346.8 370.3zM360.6 373.0L364.6 372.0L360.8 370.3zM374.7 372.8L378.4 371.9L374.9 370.3zM388.9 372.7L392.3 371.8L389.1 370.3zM402.7 372.4L405.8 371.7L403.0 370.3zM417.2 372.3L420.1 371.6L417.4 370.3zM431.8 372.2L434.6 371.5L432.0 370.3zM447.5 372.4L450.4 371.6L447.7 370.3zM463.9 372.7L467.4 371.8L464.1 370.3zM479.4 372.8L483.1 371.9L479.6 370.3zM493.4 372.6L496.7 371.8L493.6 370.3zM507.9 372.5L511.1 371.7L508.1 370.3zM523.5 372.6L526.9 371.8L523.7 370.3zM536.1 372.1L538.6 371.5L536.3 370.3zM549.0 371.7L550.8 371.2L549.2 370.3zM563.8 371.6L565.5 371.1L563.9 370.3zM52.5 367.5L53.5 367.1L52.6 366.6zM67.9 367.6L69.0 367.2L68.0 366.6zM89.8 369.0L93.5 368.1L90.0 366.5zM105.7 369.2L109.7 368.3L106.0 366.5zM120.4 369.2L124.3 368.2L120.7 366.5zM137.0 369.5L141.5 368.4L137.3 366.5zM152.2 369.5L156.8 368.5L152.5 366.5zM165.6 369.2L169.5 368.2L165.8 366.5zM181.8 369.5L186.2 368.4L182.1 366.5zM197.2 369.5L201.7 368.5L197.5 366.5zM210.9 369.3L215.0 368.3L211.2 366.5zM225.8 369.2L229.8 368.3L226.0 366.5zM241.0 369.3L245.2 368.3L241.3 366.5zM257.0 369.5L261.5 368.4L257.3 366.5zM271.1 369.3L275.2 368.3L271.3 366.5zM286.1 369.3L290.2 368.3L286.3 366.5zM301.2 369.4L305.5 368.4L301.5 366.5zM316.2 369.4L320.5 368.4L316.5 366.5zM330.9 369.3L335.0 368.3L331.2 366.5zM346.3 369.4L350.6 368.4L346.6 366.5zM360.2 369.2L364.1 368.2L360.4 366.5zM374.3 369.0L377.9 368.1L374.5 366.5zM388.5 368.8L391.8 368.0L388.7 366.5zM402.1 368.5L405.0 367.8L402.3 366.5zM416.4 368.4L419.0 367.7L416.6 366.6zM431.2 368.3L433.7 367.7L431.3 366.6zM446.8 368.5L449.6 367.8L447.0 366.6zM463.6 368.9L467.0 368.0L463.9 366.5zM479.4 369.0L483.0 368.1L479.6 366.5zM493.2 368.8L496.5 368.0L493.4 366.5zM507.5 368.6L510.5 367.9L507.7 366.5zM523.1 368.8L526.3 368.0L523.3 366.5zM536.1 368.4L538.6 367.7L536.3 366.6zM549.0 367.9L550.8 367.4L549.2 366.6zM563.8 367.9L565.5 367.4L563.9 366.6zM50.6 363.5L51.5 363.2L50.7 362.6zM66.8 363.7L67.7 363.3L66.9 362.8zM89.3 365.2L92.8 364.3L89.6 362.8zM105.7 365.4L109.6 364.5L105.9 362.8zM120.4 365.4L124.3 364.5L120.7 362.8zM136.9 365.7L141.4 364.7L137.2 362.8zM152.1 365.8L156.6 364.7L152.4 362.8zM165.5 365.4L169.4 364.5L165.8 362.8zM181.9 365.7L186.3 364.7L182.2 362.8zM197.1 365.8L201.6 364.7L197.4 362.8zM210.7 365.5L214.8 364.5L211.0 362.8zM225.6 365.5L229.5 364.5L225.8 362.8zM240.8 365.5L244.9 364.5L241.1 362.8zM256.8 365.7L261.3 364.7L257.1 362.8zM270.7 365.5L274.8 364.5L271.0 362.8zM285.5 365.5L289.5 364.5L285.8 362.8zM300.5 365.5L304.6 364.5L300.8 362.8zM315.5 365.5L319.6 364.5L315.8 362.8zM330.5 365.5L334.5 364.5L330.7 362.8zM346.1 365.6L350.3 364.6L346.3 362.8zM359.8 365.3L363.6 364.4L360.1 362.8zM373.9 365.2L377.4 364.3L374.1 362.8zM388.1 365.0L391.3 364.2L388.3 362.8zM401.6 364.7L404.3 364.0L401.8 362.8zM415.8 364.5L418.2 363.9L416.0 362.8zM430.7 364.5L433.0 363.9L430.8 362.8zM446.3 364.6L448.9 364.0L446.5 362.8zM463.4 365.1L466.8 364.3L463.7 362.8zM479.3 365.3L483.0 364.4L479.6 362.8zM493.0 365.0L496.3 364.2L493.3 362.8zM507.2 364.8L510.1 364.1L507.4 362.8zM522.8 365.0L525.9 364.2L523.0 362.8zM536.1 364.6L538.6 364.0L536.3 362.8zM549.0 364.2L550.8 363.7L549.2 362.8zM563.8 364.1L565.5 363.6L563.9 362.8zM48.4 359.6L49.3 359.2L48.4 358.7zM64.6 359.7L65.5 359.3L64.6 358.8zM84.4 360.4L86.1 359.9L84.5 359.1zM101.8 360.9L104.4 360.2L102.0 359.1zM119.1 361.4L122.5 360.5L119.3 359.0zM136.2 361.8L140.4 360.8L136.5 359.0zM151.4 361.9L155.7 360.9L151.7 359.0zM165.2 361.6L169.0 360.7L165.4 359.0zM181.3 361.8L185.5 360.8L181.5 359.0zM196.4 361.9L200.7 360.9L196.7 359.0zM210.3 361.7L214.2 360.7L210.6 359.0zM225.2 361.6L229.0 360.7L225.4 359.0zM240.4 361.7L244.3 360.7L240.6 359.0zM256.2 361.8L260.4 360.8L256.5 359.0zM270.3 361.7L274.2 360.7L270.5 359.0zM284.9 361.6L288.7 360.7L285.2 359.0zM299.9 361.6L303.7 360.7L300.1 359.0zM315.0 361.6L318.9 360.7L315.3 359.0zM330.0 361.6L333.9 360.7L330.3 359.0zM345.5 361.7L349.5 360.8L345.8 359.0zM359.4 361.5L363.0 360.6L359.6 359.0zM373.5 361.3L376.8 360.5L373.7 359.0zM387.7 361.1L390.7 360.4L387.9 359.0zM401.3 360.9L403.9 360.2L401.5 359.1zM415.6 360.7L418.0 360.1L415.8 359.1zM430.5 360.7L432.8 360.1L430.7 359.1zM446.2 360.9L448.8 360.2L446.4 359.1zM463.4 361.3L466.7 360.5L463.6 359.0zM479.2 361.5L482.8 360.6L479.4 359.0zM493.0 361.2L496.2 360.5L493.2 359.0zM507.1 361.1L510.0 360.3L507.3 359.0zM522.7 361.2L525.8 360.4L522.9 359.0zM536.1 360.9L538.6 360.2L536.3 359.1zM549.0 360.4L550.8 359.9L549.2 359.1zM563.8 360.4L565.5 359.9L563.9 359.1zM61.9 355.7L62.8 355.3L61.9 354.8zM79.7 355.9L80.6 355.6L79.8 355.1zM97.6 356.3L98.7 355.9L97.7 355.3zM115.0 356.8L117.0 356.2L115.2 355.3zM132.3 357.2L135.1 356.5L132.5 355.3zM149.4 357.7L152.9 356.8L149.6 355.3zM164.8 357.8L168.5 356.9L165.1 355.3zM180.6 357.9L184.5 357.0L180.8 355.3zM195.7 358.0L199.7 357.0L195.9 355.3zM209.9 357.8L213.7 356.9L210.2 355.3zM224.8 357.8L228.5 356.9L225.1 355.3zM239.9 357.8L243.7 356.9L240.2 355.3zM255.5 357.9L259.5 357.0L255.8 355.3zM269.8 357.8L273.6 356.9L270.1 355.3zM284.4 357.7L288.0 356.9L284.6 355.3zM299.3 357.7L302.9 356.8L299.6 355.3zM314.6 357.8L318.3 356.9L314.9 355.3zM329.7 357.8L333.4 356.9L329.9 355.3zM345.0 357.9L348.8 356.9L345.2 355.3zM359.0 357.7L362.5 356.8L359.2 355.3zM373.1 357.5L376.3 356.7L373.3 355.3zM387.3 357.3L390.2 356.6L387.5 355.3zM401.1 357.1L403.6 356.4L401.3 355.3zM415.6 357.0L417.9 356.4L415.8 355.3zM430.5 357.0L432.8 356.4L430.7 355.3zM446.2 357.1L448.8 356.5L446.4 355.3zM463.4 357.6L466.7 356.8L463.6 355.3zM479.0 357.7L482.5 356.8L479.2 355.3zM493.0 357.5L496.2 356.7L493.2 355.3zM507.1 357.3L510.0 356.6L507.3 355.3zM522.7 357.4L525.8 356.7L522.9 355.3zM536.1 357.1L538.6 356.5L536.3 355.3zM549.0 356.7L550.8 356.2L549.2 355.3zM563.8 356.6L565.5 356.1L563.9 355.3zM92.3 352.0L93.3 351.6L92.4 351.1zM110.1 352.2L111.0 351.9L110.2 351.3zM127.8 352.6L129.0 352.2L127.9 351.6zM145.0 353.0L147.0 352.5L145.2 351.6zM162.0 353.5L164.8 352.8L162.2 351.6zM178.9 353.8L182.3 353.0L179.1 351.5zM194.8 354.0L198.5 353.1L195.1 351.5zM209.4 354.0L213.0 353.1L209.7 351.5zM224.4 354.0L227.9 353.1L224.6 351.5zM239.4 354.0L243.0 353.1L239.7 351.5zM254.7 354.0L258.4 353.1L254.9 351.5zM269.4 354.0L273.0 353.1L269.6 351.5zM283.8 353.9L287.2 353.0L284.0 351.5zM298.7 353.8L302.0 353.0L298.9 351.5zM314.2 353.9L317.7 353.1L314.4 351.5zM329.2 354.0L332.8 353.1L329.5 351.5zM344.4 354.0L348.0 353.1L344.6 351.5zM358.5 353.8L361.9 353.0L358.8 351.5zM372.7 353.7L375.7 352.9L372.9 351.5zM386.9 353.5L389.6 352.8L387.1 351.6zM400.9 353.3L403.3 352.7L401.1 351.6zM415.6 353.2L417.9 352.6L415.8 351.6zM430.5 353.2L432.8 352.6L430.7 351.6zM446.2 353.4L448.8 352.7L446.4 351.6zM463.4 353.8L466.7 353.0L463.6 351.5zM478.8 353.9L482.3 353.1L479.0 351.5zM492.9 353.7L496.1 352.9L493.2 351.5zM507.1 353.6L510.0 352.8L507.3 351.5zM522.7 353.7L525.8 352.9L522.9 351.5zM536.1 353.4L538.6 352.7L536.3 351.6zM549.0 352.9L550.8 352.4L549.2 351.6zM563.8 352.9L565.5 352.4L563.9 351.6zM123.2 348.3L124.2 348.0L123.3 347.4zM141.0 348.6L142.0 348.2L141.1 347.7zM158.4 348.9L159.8 348.5L158.5 347.8zM175.4 349.4L177.5 348.8L175.5 347.8zM192.2 349.7L195.0 349.0L192.4 347.8zM208.9 350.1L212.3 349.3L209.1 347.8zM224.1 350.1L227.5 349.3L224.3 347.8zM239.1 350.1L242.5 349.3L239.3 347.8zM254.1 350.2L257.6 349.3L254.3 347.8zM269.0 350.1L272.4 349.3L269.2 347.8zM283.3 350.0L286.5 349.2L283.5 347.8zM298.2 350.0L301.4 349.2L298.4 347.8zM313.8 350.1L317.2 349.3L314.0 347.8zM328.8 350.1L332.2 349.3L329.1 347.8zM343.8 350.1L347.3 349.3L344.1 347.8zM358.1 350.0L361.3 349.2L358.3 347.8zM372.3 349.8L375.2 349.1L372.5 347.8zM386.5 349.7L389.2 349.0L386.7 347.8zM400.7 349.5L403.1 348.9L400.9 347.8zM415.6 349.5L417.9 348.9L415.7 347.8zM430.5 349.5L432.8 348.9L430.7 347.8zM446.2 349.6L448.8 349.0L446.4 347.8zM463.4 350.1L466.7 349.2L463.6 347.8zM478.6 350.1L482.1 349.3L478.9 347.8zM492.9 350.0L496.1 349.2L493.1 347.8zM507.1 349.8L510.0 349.1L507.3 347.8zM522.7 349.9L525.8 349.2L522.9 347.8zM536.1 349.6L538.6 349.0L536.3 347.8zM549.0 349.2L550.8 348.7L549.2 347.8zM563.8 349.1L565.5 348.6L563.9 347.8zM136.5 344.4L137.5 344.0L136.6 343.5zM153.6 344.6L154.6 344.2L153.7 343.7zM171.2 344.9L172.1 344.5L171.2 344.0zM188.3 345.2L189.7 344.8L188.4 344.1zM205.1 345.6L207.1 345.0L205.3 344.1zM221.2 345.8L223.7 345.2L221.4 344.1zM237.2 346.0L240.0 345.3L237.4 344.0zM251.7 345.9L254.4 345.2L251.9 344.1zM266.1 345.8L268.6 345.2L266.3 344.1zM283.0 346.2L286.1 345.4L283.2 344.0zM297.9 346.2L301.0 345.4L298.1 344.0zM313.6 346.3L316.9 345.5L313.8 344.0zM328.1 346.2L331.3 345.4L328.3 344.0zM343.0 346.2L346.2 345.4L343.2 344.0zM357.3 346.1L360.2 345.3L357.5 344.0zM371.7 345.9L374.4 345.3L371.9 344.1zM386.2 345.9L388.8 345.2L386.4 344.1zM400.7 345.7L403.0 345.1L400.8 344.1zM415.6 345.7L417.9 345.1L415.7 344.1zM430.5 345.7L432.8 345.1L430.7 344.1zM446.2 345.9L448.8 345.2L446.4 344.1zM463.2 346.3L466.5 345.5L463.4 344.0zM478.4 346.3L481.8 345.5L478.7 344.0zM492.7 346.2L495.8 345.4L492.9 344.0zM507.3 346.1L510.2 345.4L507.5 344.0zM522.9 346.2L526.1 345.4L523.1 344.0zM536.1 345.9L538.6 345.2L536.3 344.1zM549.0 345.4L550.8 344.9L549.1 344.1zM563.7 345.4L565.4 344.9L563.8 344.1zM167.3 340.7L168.3 340.4L167.4 339.8zM184.4 340.9L185.4 340.6L184.5 340.0zM201.8 341.2L202.7 340.8L201.9 340.3zM218.1 341.4L219.4 341.0L218.2 340.3zM234.1 341.6L235.8 341.1L234.3 340.3zM248.9 341.6L250.5 341.1L249.0 340.3zM263.4 341.5L264.8 341.0L263.5 340.3zM281.6 342.1L284.2 341.5L281.8 340.3zM297.7 342.4L300.7 341.6L297.9 340.3zM313.4 342.5L316.6 341.7L313.6 340.3zM327.5 342.3L330.4 341.6L327.7 340.3zM342.3 342.3L345.2 341.6L342.5 340.3zM356.6 342.2L359.2 341.5L356.8 340.3zM371.1 342.1L373.6 341.4L371.3 340.3zM386.0 342.1L388.5 341.4L386.2 340.3zM400.6 342.0L402.9 341.4L400.8 340.3zM415.6 342.0L417.9 341.4L415.7 340.3zM430.5 342.0L432.8 341.4L430.7 340.3zM446.2 342.1L448.8 341.5L446.4 340.3zM463.0 342.5L466.2 341.7L463.3 340.3zM478.3 342.5L481.5 341.7L478.5 340.3zM492.5 342.4L495.6 341.6L492.8 340.3zM507.4 342.4L510.4 341.6L507.6 340.3zM523.1 342.5L526.3 341.7L523.3 340.3zM536.1 342.1L538.7 341.5L536.3 340.3zM548.9 341.7L550.7 341.2L549.0 340.3zM563.6 341.6L565.3 341.1L563.8 340.3zM197.6 337.0L198.5 336.6L197.7 336.1zM214.0 337.2L214.9 336.8L214.1 336.3zM230.4 337.3L231.4 336.9L230.5 336.4zM245.3 337.3L246.2 336.9L245.4 336.4zM259.9 337.2L260.9 336.9L260.0 336.4zM279.4 337.9L281.2 337.4L279.5 336.6zM297.2 338.5L300.1 337.8L297.4 336.5zM312.5 338.6L315.5 337.9L312.8 336.5zM326.7 338.4L329.4 337.7L326.9 336.6zM341.4 338.4L344.0 337.7L341.6 336.6zM355.7 338.2L358.1 337.6L355.9 336.6zM370.5 338.2L372.7 337.6L370.6 336.6zM385.7 338.3L388.1 337.6L385.9 336.6zM400.6 338.2L402.9 337.6L400.8 336.6zM415.6 338.2L417.9 337.6L415.7 336.6zM430.5 338.2L432.8 337.6L430.7 336.6zM446.2 338.4L448.8 337.7L446.4 336.6zM462.9 338.7L466.0 337.9L463.1 336.5zM478.0 338.8L481.3 338.0L478.3 336.5zM492.3 338.6L495.3 337.9L492.5 336.5zM507.6 338.7L510.6 337.9L507.8 336.5zM523.3 338.8L526.6 338.0L523.5 336.5zM536.1 338.4L538.7 337.7L536.3 336.6zM548.8 337.9L550.6 337.4L549.0 336.6zM563.5 337.8L565.2 337.4L563.7 336.6zM211.5 333.2L212.5 332.8L211.6 332.3zM227.5 333.3L228.4 332.9L227.6 332.4zM242.7 333.3L243.6 332.9L242.8 332.4zM257.6 333.3L258.6 332.9L257.7 332.4zM277.8 333.9L279.0 333.5L277.9 332.8zM295.8 334.5L298.1 333.9L295.9 332.8zM311.3 334.6L313.8 333.9L311.5 332.8zM325.4 334.4L327.7 333.8L325.6 332.8zM340.0 334.3L342.1 333.8L340.2 332.8zM355.1 334.4L357.2 333.8L355.2 332.8zM370.0 334.3L372.0 333.8L370.1 332.8zM385.6 334.5L387.8 333.9L385.7 332.8zM400.6 334.5L402.9 333.9L400.8 332.8zM415.6 334.5L417.9 333.9L415.8 332.8zM430.6 334.5L432.9 333.9L430.7 332.8zM446.2 334.6L448.8 334.0L446.4 332.8zM462.7 334.9L465.8 334.2L462.9 332.8zM477.9 335.0L481.1 334.2L478.1 332.8zM492.2 334.8L495.1 334.1L492.4 332.8zM507.7 334.9L510.8 334.2L507.9 332.8zM523.4 335.1L526.8 334.3L523.6 332.8zM536.2 334.6L538.7 334.0L536.3 332.8zM548.7 334.1L550.4 333.6L548.9 332.8zM563.4 334.1L565.1 333.6L563.6 332.8zM241.5 329.4L242.4 329.0L241.6 328.5zM256.9 329.4L257.8 329.1L257.0 328.5zM276.2 329.9L277.1 329.5L276.2 329.0zM294.5 330.5L296.3 329.9L294.6 329.1zM310.0 330.6L312.1 330.0L310.2 329.1zM323.9 330.4L325.6 329.9L324.1 329.1zM338.8 330.3L340.4 329.9L338.9 329.1zM353.7 330.3L355.4 329.9L353.9 329.1zM369.2 330.4L371.0 329.9L369.4 329.1zM385.4 330.7L387.6 330.1L385.6 329.1zM400.8 330.8L403.1 330.1L400.9 329.1zM415.8 330.8L418.1 330.1L415.9 329.1zM430.7 330.8L433.1 330.1L430.9 329.1zM446.2 330.9L448.8 330.2L446.4 329.1zM462.5 331.1L465.5 330.4L462.7 329.0zM478.0 331.2L481.2 330.5L478.2 329.0zM492.3 331.1L495.3 330.4L492.5 329.0zM507.7 331.2L510.9 330.4L508.0 329.0zM523.3 331.3L526.6 330.5L523.5 329.0zM536.1 330.9L538.7 330.2L536.3 329.1zM548.5 330.3L550.1 329.9L548.6 329.1zM563.1 330.3L564.7 329.8L563.3 329.1zM275.3 326.0L276.2 325.7L275.4 325.1zM294.0 326.6L295.7 326.1L294.1 325.3zM309.1 326.6L310.9 326.1L309.3 325.3zM322.4 326.3L323.5 325.9L322.5 325.3zM337.9 326.4L339.3 326.0L338.0 325.3zM353.7 326.6L355.4 326.1L353.9 325.3zM368.7 326.6L370.3 326.1L368.9 325.3zM384.7 326.8L386.7 326.2L384.8 325.3zM400.9 327.0L403.3 326.4L401.1 325.3zM415.9 327.0L418.4 326.4L416.1 325.3zM430.9 327.0L433.4 326.4L431.1 325.3zM446.3 327.1L448.8 326.5L446.5 325.3zM462.4 327.4L465.3 326.6L462.6 325.3zM478.1 327.5L481.4 326.7L478.4 325.3zM492.5 327.4L495.6 326.6L492.7 325.3zM507.8 327.5L510.9 326.7L508.0 325.3zM523.1 327.5L526.4 326.7L523.4 325.3zM536.1 327.1L538.7 326.5L536.3 325.3zM548.2 326.5L549.7 326.1L548.3 325.3zM562.9 326.4L564.3 326.0L563.0 325.3zM241.5 321.9L242.5 321.6L241.6 321.0zM256.9 321.9L257.8 321.6L257.0 321.0zM276.2 322.4L277.1 322.0L276.2 321.5zM294.5 323.0L296.3 322.4L294.6 321.6zM308.3 322.7L309.7 322.3L308.4 321.6zM322.4 322.5L323.5 322.2L322.5 321.6zM337.3 322.5L338.5 322.2L337.4 321.6zM353.7 322.8L355.4 322.4L353.9 321.6zM368.7 322.8L370.3 322.4L368.9 321.6zM384.4 323.0L386.3 322.4L384.5 321.6zM401.0 323.3L403.5 322.7L401.2 321.6zM416.2 323.3L418.7 322.7L416.3 321.6zM431.1 323.3L433.6 322.7L431.3 321.6zM446.3 323.4L448.9 322.7L446.5 321.6zM462.2 323.6L465.1 322.8L462.4 321.5zM478.3 323.8L481.6 323.0L478.5 321.5zM492.7 323.7L495.8 322.9L492.9 321.5zM507.8 323.7L510.9 322.9L508.0 321.5zM523.0 323.7L526.2 323.0L523.2 321.5zM536.1 323.4L538.6 322.7L536.3 321.6zM547.9 322.7L549.3 322.3L548.0 321.6zM562.5 322.6L563.8 322.2L562.6 321.6zM211.7 318.2L212.7 317.8L211.8 317.3zM227.1 318.2L228.1 317.9L227.2 317.3zM242.3 318.2L243.2 317.9L242.4 317.3zM257.5 318.3L258.5 317.9L257.6 317.4zM277.7 318.8L279.0 318.5L277.8 317.8zM295.6 319.4L297.8 318.8L295.7 317.8zM309.1 319.1L310.9 318.6L309.3 317.8zM322.4 318.8L323.5 318.4L322.5 317.8zM337.9 318.9L339.3 318.5L338.0 317.8zM353.7 319.1L355.4 318.6L353.9 317.8zM368.7 319.1L370.3 318.6L368.9 317.8zM384.7 319.3L386.7 318.7L384.8 317.8zM401.2 319.6L403.7 318.9L401.4 317.8zM416.4 319.6L418.9 319.0L416.5 317.8zM431.3 319.6L433.9 319.0L431.5 317.8zM446.4 319.6L449.0 319.0L446.6 317.8zM462.1 319.8L464.9 319.1L462.3 317.8zM478.4 320.1L481.8 319.3L478.7 317.8zM492.9 320.0L496.1 319.2L493.1 317.8zM507.8 320.0L511.0 319.2L508.0 317.8zM522.8 320.0L526.0 319.2L523.0 317.8zM536.1 319.6L538.6 319.0L536.3 317.8zM547.7 318.9L549.0 318.5L547.8 317.8zM562.3 318.8L563.5 318.4L562.4 317.8zM182.2 314.5L183.2 314.1L182.3 313.6zM198.9 314.6L199.8 314.3L199.0 313.7zM213.9 314.6L214.9 314.3L214.0 313.7zM228.9 314.6L229.8 314.3L229.0 313.7zM243.6 314.6L244.5 314.3L243.7 313.7zM259.2 314.7L260.2 314.3L259.3 313.8zM279.6 315.5L281.4 315.0L279.7 314.1zM296.5 315.9L299.1 315.2L296.7 314.1zM310.2 315.6L312.3 315.0L310.3 314.1zM324.1 315.4L325.8 314.9L324.2 314.1zM338.8 315.3L340.4 314.9L338.9 314.1zM353.7 315.3L355.4 314.9L353.9 314.1zM369.4 315.5L371.3 314.9L369.5 314.1zM385.5 315.7L387.8 315.1L385.7 314.1zM401.5 315.9L404.2 315.2L401.7 314.1zM416.7 316.0L419.4 315.3L416.9 314.1zM431.7 316.0L434.4 315.3L431.9 314.1zM446.9 316.0L449.7 315.3L447.1 314.0zM462.2 316.1L465.2 315.3L462.4 314.0zM478.5 316.3L481.8 315.5L478.7 314.0zM493.1 316.3L496.3 315.5L493.3 314.0zM507.8 316.2L511.0 315.4L508.1 314.0zM522.8 316.2L525.9 315.4L523.0 314.0zM536.1 315.9L538.6 315.2L536.2 314.1zM547.8 315.2L549.2 314.8L547.9 314.1zM562.4 315.1L563.7 314.7L562.5 314.1zM151.6 310.6L152.5 310.3L151.7 309.8zM168.6 310.9L169.5 310.5L168.7 310.0zM184.9 311.0L185.8 310.6L184.9 310.1zM201.1 311.1L202.1 310.8L201.2 310.2zM216.2 311.1L217.1 310.8L216.3 310.2zM232.0 311.2L232.9 310.8L232.1 310.3zM246.8 311.2L247.8 310.8L246.9 310.3zM262.4 311.3L263.5 310.9L262.5 310.3zM281.5 312.1L284.1 311.5L281.7 310.3zM297.4 312.3L300.3 311.6L297.6 310.3zM311.3 312.1L313.8 311.4L311.5 310.3zM325.4 311.9L327.7 311.3L325.6 310.3zM340.0 311.8L342.1 311.3L340.2 310.3zM355.1 311.9L357.2 311.3L355.2 310.3zM370.7 312.0L373.0 311.4L370.8 310.3zM386.6 312.2L389.2 311.5L386.8 310.3zM401.8 312.2L404.5 311.5L401.9 310.3zM417.1 312.3L419.9 311.6L417.3 310.3zM432.1 312.3L435.0 311.6L432.3 310.3zM447.4 312.4L450.4 311.6L447.6 310.3zM462.5 312.4L465.5 311.6L462.7 310.3zM478.5 312.6L481.9 311.8L478.7 310.3zM493.3 312.6L496.6 311.7L493.5 310.3zM507.9 312.5L511.0 311.7L508.1 310.3zM522.8 312.5L525.9 311.7L523.0 310.3zM536.1 312.1L538.6 311.5L536.2 310.3zM548.0 311.5L549.4 311.0L548.1 310.3zM562.7 311.4L564.0 311.0L562.8 310.3zM121.4 306.9L122.4 306.5L121.5 306.0zM138.8 307.1L139.7 306.8L138.9 306.2zM155.3 307.3L156.2 306.9L155.4 306.4zM171.2 307.4L172.2 307.0L171.3 306.5zM187.4 307.5L188.5 307.1L187.5 306.6zM203.5 307.7L204.9 307.3L203.6 306.6zM218.5 307.7L220.0 307.3L218.6 306.6zM235.0 308.1L237.0 307.5L235.1 306.6zM250.0 308.1L252.0 307.5L250.1 306.6zM265.5 308.2L267.7 307.6L265.7 306.6zM283.4 308.8L286.7 308.0L283.7 306.5zM298.5 308.8L301.8 308.0L298.7 306.5zM312.7 308.6L315.8 307.9L312.9 306.5zM327.1 308.5L329.8 307.8L327.3 306.5zM341.7 308.4L344.4 307.8L341.9 306.6zM356.8 308.5L359.5 307.8L357.0 306.6zM372.2 308.5L375.1 307.8L372.4 306.5zM387.4 308.6L390.4 307.9L387.6 306.5zM402.0 308.5L404.8 307.8L402.2 306.5zM417.5 308.6L420.4 307.9L417.7 306.5zM432.5 308.6L435.5 307.9L432.7 306.5zM448.0 308.7L451.2 307.9L448.2 306.5zM462.7 308.7L465.8 307.9L462.9 306.5zM478.5 308.9L481.9 308.0L478.8 306.5zM493.4 308.8L496.8 308.0L493.7 306.5zM507.9 308.7L511.0 307.9L508.1 306.5zM522.8 308.7L525.9 307.9L523.0 306.5zM536.1 308.4L538.6 307.7L536.2 306.6zM548.2 307.8L549.7 307.3L548.3 306.6zM562.9 307.7L564.3 307.3L563.0 306.6zM108.2 303.3L109.1 302.9L108.3 302.4zM125.5 303.5L126.5 303.2L125.6 302.6zM142.1 303.7L143.0 303.3L142.2 302.8zM158.0 303.9L159.2 303.5L158.1 302.8zM173.3 303.9L174.7 303.5L173.4 302.8zM189.3 304.1L191.1 303.6L189.4 302.8zM205.4 304.4L207.5 303.8L205.5 302.8zM220.4 304.4L222.6 303.8L220.6 302.8zM237.4 304.8L240.2 304.1L237.6 302.8zM252.4 304.8L255.3 304.1L252.6 302.8zM268.0 304.9L271.1 304.2L268.2 302.8zM283.8 305.1L287.1 304.3L284.0 302.8zM298.8 305.1L302.2 304.3L299.1 302.8zM313.8 305.1L317.2 304.3L314.1 302.8zM328.5 305.1L331.8 304.2L328.7 302.8zM343.2 305.0L346.4 304.2L343.4 302.8zM358.3 305.0L361.5 304.2L358.5 302.8zM373.6 305.1L377.0 304.3L373.8 302.8zM388.0 305.0L391.2 304.2L388.2 302.8zM402.3 304.8L405.2 304.1L402.5 302.8zM417.8 304.9L421.0 304.2L418.1 302.8zM432.9 305.0L436.1 304.2L433.1 302.8zM448.5 305.1L451.9 304.3L448.8 302.8zM463.0 305.0L466.2 304.2L463.2 302.8zM478.6 305.1L481.9 304.3L478.8 302.8zM493.6 305.1L497.0 304.3L493.8 302.8zM507.9 305.0L511.1 304.2L508.2 302.8zM522.8 305.0L526.0 304.2L523.0 302.8zM536.1 304.6L538.6 304.0L536.3 302.8zM548.3 304.0L549.9 303.6L548.4 302.8zM563.1 304.0L564.6 303.6L563.2 302.8zM78.0 299.5L79.0 299.2L78.1 298.6zM96.1 299.8L97.0 299.5L96.2 298.9zM113.3 300.2L114.6 299.7L113.4 299.1zM129.6 300.4L131.4 299.9L129.8 299.1zM145.3 300.6L147.4 300.0L145.5 299.1zM160.7 300.7L162.9 300.1L160.8 299.1zM175.6 300.7L177.8 300.1L175.7 299.1zM191.5 300.9L194.0 300.2L191.7 299.1zM207.6 301.1L210.5 300.3L207.8 299.0zM222.4 301.1L225.3 300.3L222.6 299.0zM237.4 301.0L240.2 300.3L237.6 299.0zM252.7 301.1L255.7 300.4L252.9 299.0zM268.3 301.2L271.4 300.4L268.5 299.0zM284.0 301.4L287.5 300.6L284.2 299.0zM299.1 301.4L302.6 300.6L299.3 299.0zM314.2 301.5L317.8 300.6L314.5 299.0zM329.2 301.5L332.8 300.6L329.5 299.0zM344.2 301.5L347.8 300.6L344.5 299.0zM359.4 301.5L363.0 300.6L359.6 299.0zM374.2 301.5L377.8 300.6L374.4 299.0zM388.6 301.4L392.0 300.5L388.9 299.0zM403.0 301.2L406.2 300.4L403.2 299.0zM418.5 301.3L421.8 300.5L418.7 299.0zM433.5 301.3L436.9 300.5L433.7 299.0zM449.0 301.4L452.5 300.6L449.2 299.0zM463.4 301.3L466.7 300.5L463.6 299.0zM478.6 301.4L482.0 300.5L478.8 299.0zM493.6 301.4L497.0 300.5L493.9 299.0zM508.3 301.3L511.6 300.5L508.5 299.0zM523.2 301.3L526.5 300.5L523.4 299.0zM536.1 300.9L538.7 300.2L536.3 299.1zM548.5 300.3L550.1 299.9L548.6 299.1zM563.3 300.3L564.9 299.8L563.4 299.1zM47.1 295.7L48.0 295.3L47.2 294.8zM63.5 295.8L64.4 295.5L63.6 294.9zM83.7 296.5L85.2 296.0L83.8 295.3zM100.7 296.9L102.9 296.3L100.9 295.3zM117.2 297.2L119.9 296.5L117.4 295.3zM133.0 297.4L136.0 296.6L133.2 295.3zM148.1 297.4L151.2 296.7L148.3 295.3zM163.0 297.4L166.1 296.6L163.2 295.3zM177.5 297.3L180.4 296.6L177.7 295.3zM193.1 297.4L196.2 296.7L193.3 295.3zM207.8 297.4L210.9 296.6L208.1 295.3zM222.4 297.3L225.3 296.6L222.6 295.3zM237.4 297.3L240.2 296.6L237.6 295.3zM253.0 297.4L256.1 296.7L253.2 295.3zM268.5 297.5L271.7 296.7L268.7 295.3zM284.2 297.7L287.7 296.8L284.4 295.3zM299.3 297.7L302.8 296.8L299.5 295.3zM314.6 297.8L318.3 296.9L314.8 295.3zM329.6 297.8L333.3 296.9L329.9 295.3zM344.6 297.8L348.3 296.9L344.8 295.3zM359.9 297.9L363.7 296.9L360.2 295.3zM374.6 297.8L378.3 296.9L374.8 295.3zM389.2 297.7L392.7 296.8L389.4 295.3zM403.7 297.6L407.2 296.8L404.0 295.3zM419.0 297.7L422.6 296.8L419.3 295.3zM434.1 297.7L437.6 296.8L434.3 295.3zM449.4 297.8L453.1 296.9L449.6 295.3zM463.7 297.6L467.2 296.8L464.0 295.3zM478.6 297.6L482.1 296.8L478.9 295.3zM493.6 297.6L497.0 296.8L493.9 295.3zM508.6 297.6L512.0 296.8L508.8 295.3zM523.5 297.6L526.9 296.8L523.8 295.3zM536.2 297.1L538.7 296.5L536.3 295.3zM548.7 296.6L550.4 296.1L548.8 295.3zM563.4 296.6L565.1 296.1L563.6 295.3zM49.1 292.1L50.0 291.8L49.1 291.2zM64.6 292.2L65.6 291.8L64.7 291.3zM88.1 293.7L91.2 292.9L88.4 291.5zM103.9 293.8L107.3 293.0L104.2 291.5zM118.9 293.8L122.3 293.0L119.2 291.5zM133.9 293.8L137.3 293.0L134.1 291.5zM148.9 293.8L152.2 293.0L149.1 291.5zM163.3 293.7L166.5 292.9L163.6 291.5zM177.6 293.6L180.5 292.8L177.8 291.5zM193.5 293.8L196.7 293.0L193.7 291.5zM208.1 293.7L211.2 292.9L208.3 291.5zM222.5 293.6L225.4 292.8L222.7 291.5zM237.4 293.5L240.3 292.8L237.6 291.5zM253.4 293.8L256.6 293.0L253.6 291.5zM268.7 293.8L272.0 293.0L268.9 291.5zM284.4 294.0L288.0 293.1L284.6 291.5zM299.5 294.0L303.1 293.1L299.7 291.5zM315.0 294.1L318.8 293.2L315.2 291.5zM330.0 294.1L333.9 293.2L330.3 291.5zM345.0 294.1L348.9 293.2L345.3 291.5zM360.5 294.2L364.5 293.3L360.8 291.5zM375.0 294.1L378.9 293.2L375.3 291.5zM389.8 294.1L393.6 293.2L390.0 291.5zM404.6 294.0L408.3 293.1L404.8 291.5zM419.7 294.1L423.5 293.2L419.9 291.5zM434.7 294.1L438.5 293.2L434.9 291.5zM449.8 294.1L453.7 293.2L450.1 291.5zM464.2 294.0L467.7 293.1L464.4 291.5zM478.7 293.9L482.1 293.0L478.9 291.5zM493.6 293.9L497.1 293.0L493.9 291.5zM509.0 293.9L512.5 293.1L509.2 291.5zM524.0 294.0L527.5 293.1L524.2 291.5zM536.2 293.4L538.8 292.7L536.4 291.6zM548.9 292.9L550.6 292.4L549.0 291.6zM563.6 292.9L565.3 292.4L563.7 291.6zM50.0 288.5L51.0 288.1L50.1 287.6zM65.6 288.5L66.5 288.2L65.7 287.6zM88.4 290.0L91.5 289.2L88.6 287.8zM104.2 290.1L107.6 289.3L104.4 287.8zM119.1 290.1L122.6 289.3L119.4 287.8zM134.1 290.1L137.5 289.3L134.3 287.8zM149.1 290.1L152.5 289.3L149.3 287.8zM163.4 290.0L166.6 289.2L163.6 287.8zM177.6 289.8L180.5 289.1L177.8 287.8zM193.8 290.1L197.1 289.3L194.0 287.8zM208.3 290.0L211.5 289.2L208.5 287.8zM222.6 289.8L225.5 289.1L222.8 287.8zM237.5 289.8L240.4 289.1L237.7 287.8zM253.7 290.1L257.1 289.3L254.0 287.8zM268.9 290.1L272.4 289.3L269.2 287.8zM284.6 290.3L288.2 289.4L284.8 287.8zM299.7 290.3L303.4 289.4L299.9 287.8zM315.3 290.4L319.2 289.5L315.5 287.8zM330.4 290.4L334.3 289.5L330.6 287.8zM345.4 290.5L349.4 289.5L345.6 287.8zM361.0 290.6L365.2 289.6L361.3 287.8zM375.4 290.5L379.4 289.5L375.7 287.8zM390.3 290.4L394.3 289.5L390.5 287.8zM405.2 290.4L409.2 289.5L405.5 287.8zM420.2 290.4L424.2 289.5L420.5 287.8zM435.2 290.4L439.2 289.5L435.5 287.8zM450.3 290.5L454.2 289.5L450.5 287.8zM464.5 290.3L468.2 289.4L464.7 287.8zM478.8 290.2L482.2 289.3L479.0 287.8zM493.7 290.1L497.1 289.3L493.9 287.8zM509.3 290.3L512.9 289.4L509.5 287.8zM524.3 290.3L528.0 289.4L524.5 287.8zM536.2 289.6L538.8 289.0L536.4 287.8zM549.0 289.2L550.8 288.7L549.1 287.8zM563.7 289.1L565.5 288.6L563.9 287.8zM51.1 284.8L52.1 284.5L51.2 283.9zM66.7 284.9L67.6 284.5L66.8 284.0zM88.9 286.3L92.2 285.5L89.1 284.0zM104.7 286.5L108.4 285.6L105.0 284.0zM119.5 286.5L123.1 285.6L119.8 284.0zM134.5 286.5L138.1 285.6L134.7 284.0zM149.3 286.4L152.8 285.6L149.5 284.0zM163.6 286.3L166.8 285.5L163.8 284.0zM177.9 286.1L181.0 285.4L178.1 284.0zM193.9 286.3L197.3 285.5L194.1 284.0zM208.8 286.3L212.2 285.5L209.1 284.0zM223.3 286.2L226.4 285.4L223.5 284.0zM238.2 286.2L241.3 285.4L238.4 284.0zM254.3 286.5L257.9 285.6L254.6 284.0zM269.3 286.5L272.9 285.6L269.6 284.0zM284.8 286.6L288.6 285.7L285.1 284.0zM299.9 286.6L303.7 285.7L300.1 284.0zM315.4 286.7L319.3 285.7L315.6 284.0zM330.6 286.7L334.6 285.8L330.9 284.0zM345.8 286.8L349.9 285.8L346.1 284.0zM361.3 286.9L365.6 285.9L361.6 284.0zM375.8 286.8L380.0 285.8L376.1 284.0zM390.7 286.8L394.9 285.8L391.0 284.0zM405.7 286.8L409.8 285.8L406.0 284.0zM420.7 286.8L424.8 285.8L421.0 284.0zM435.9 286.8L440.0 285.8L436.1 284.0zM450.8 286.8L455.0 285.8L451.1 284.0zM464.8 286.6L468.6 285.7L465.0 284.0zM479.1 286.5L482.7 285.6L479.4 284.0zM494.0 286.5L497.6 285.6L494.3 284.0zM509.5 286.6L513.3 285.7L509.8 284.0zM524.5 286.6L528.3 285.7L524.8 284.0zM536.3 285.9L538.9 285.2L536.5 284.1zM549.0 285.4L550.8 284.9L549.2 284.1zM563.8 285.4L565.5 284.9L563.9 284.1zM52.1 281.2L53.1 280.8L52.2 280.3zM67.6 281.3L68.7 280.9L67.7 280.3zM89.4 282.7L92.9 281.8L89.7 280.3zM105.3 282.9L109.1 281.9L105.5 280.3zM119.9 282.8L123.6 281.9L120.2 280.3zM134.9 282.8L138.6 281.9L135.1 280.3zM149.5 282.7L153.1 281.8L149.7 280.3zM163.7 282.6L167.1 281.7L164.0 280.3zM178.3 282.5L181.4 281.7L178.5 280.3zM193.9 282.6L197.3 281.8L194.2 280.3zM209.3 282.7L212.9 281.8L209.6 280.3zM224.0 282.6L227.4 281.8L224.2 280.3zM238.9 282.6L242.3 281.8L239.1 280.3zM254.9 282.8L258.7 281.9L255.2 280.3zM269.7 282.8L273.5 281.9L270.0 280.3zM285.0 282.9L288.8 281.9L285.3 280.3zM300.1 282.9L303.9 281.9L300.3 280.3zM315.4 282.9L319.4 282.0L315.7 280.3zM330.8 283.0L334.9 282.0L331.0 280.3zM346.1 283.1L350.4 282.1L346.4 280.3zM361.5 283.2L365.9 282.2L361.8 280.3zM376.2 283.1L380.5 282.1L376.5 280.3zM391.1 283.1L395.4 282.1L391.4 280.3zM406.1 283.1L410.4 282.1L406.4 280.3zM421.1 283.1L425.3 282.1L421.4 280.3zM436.4 283.2L440.8 282.2L436.7 280.3zM451.4 283.2L455.8 282.2L451.7 280.3zM465.0 282.9L468.9 282.0L465.3 280.3zM479.5 282.8L483.2 281.9L479.7 280.3zM494.4 282.8L498.1 281.9L494.6 280.3zM509.7 282.9L513.6 281.9L510.0 280.3zM524.7 282.9L528.6 281.9L525.0 280.3zM536.3 282.2L538.9 281.5L536.5 280.3zM549.0 281.7L550.8 281.2L549.2 280.3zM563.8 281.6L565.5 281.1L563.9 280.3zM52.9 277.6L54.0 277.2L53.0 276.6zM67.9 277.6L69.0 277.2L68.0 276.6zM90.0 279.1L93.8 278.2L90.3 276.5zM105.9 279.2L110.0 278.3L106.2 276.5zM120.4 279.1L124.3 278.2L120.6 276.5zM135.3 279.1L139.1 278.2L135.5 276.5zM149.7 279.0L153.4 278.1L150.0 276.5zM164.0 278.9L167.3 278.0L164.2 276.5zM178.7 278.8L182.0 278.0L178.9 276.5zM194.0 278.9L197.4 278.0L194.2 276.5zM209.9 279.1L213.6 278.2L210.1 276.5zM224.8 279.0L228.5 278.1L225.0 276.5zM239.8 279.0L243.5 278.1L240.0 276.5zM255.6 279.2L259.6 278.3L255.9 276.5zM270.2 279.1L274.1 278.2L270.5 276.5zM285.3 279.2L289.2 278.2L285.5 276.5zM300.3 279.2L304.2 278.2L300.5 276.5zM315.4 279.2L319.4 278.3L315.7 276.5zM330.9 279.3L335.1 278.3L331.2 276.5zM346.5 279.4L350.9 278.4L346.8 276.5zM361.7 279.5L366.2 278.4L362.0 276.5zM376.6 279.5L381.0 278.4L376.9 276.5zM391.5 279.5L395.9 278.4L391.8 276.5zM406.5 279.5L410.9 278.4L406.8 276.5zM421.5 279.5L425.9 278.4L421.8 276.5zM437.0 279.6L441.6 278.5L437.3 276.5zM452.0 279.6L456.6 278.5L452.3 276.5zM465.3 279.2L469.3 278.3L465.5 276.5zM479.9 279.1L483.7 278.2L480.1 276.5zM494.8 279.1L498.7 278.2L495.1 276.5zM510.0 279.2L513.9 278.2L510.2 276.5zM524.9 279.2L528.8 278.2L525.2 276.5zM536.3 278.4L538.9 277.7L536.5 276.6zM549.0 277.9L550.8 277.4L549.2 276.6zM563.8 277.9L565.5 277.4L563.9 276.6zM52.9 273.8L54.0 273.4L53.0 272.8zM67.9 273.8L69.0 273.4L68.0 272.8zM90.5 275.4L94.4 274.5L90.8 272.8zM107.3 275.8L111.9 274.7L107.6 272.8zM120.7 275.5L124.7 274.5L121.0 272.8zM135.6 275.4L139.6 274.5L135.9 272.8zM149.9 275.3L153.7 274.4L150.2 272.8zM164.2 275.1L167.6 274.3L164.4 272.8zM179.0 275.1L182.4 274.3L179.2 272.8zM194.1 275.1L197.5 274.3L194.3 272.8zM210.3 275.4L214.2 274.5L210.6 272.8zM225.4 275.4L229.4 274.5L225.7 272.8zM240.4 275.4L244.4 274.5L240.7 272.8zM256.1 275.6L260.3 274.6L256.4 272.8zM270.6 275.5L274.6 274.5L270.8 272.8zM285.4 275.4L289.4 274.5L285.7 272.8zM300.4 275.5L304.4 274.5L300.7 272.8zM315.5 275.5L319.5 274.5L315.8 272.8zM331.1 275.6L335.4 274.6L331.4 272.8zM346.9 275.8L351.4 274.7L347.2 272.8zM362.0 275.8L366.5 274.7L362.3 272.8zM376.9 275.8L381.5 274.7L377.2 272.8zM391.9 275.8L396.4 274.7L392.2 272.8zM406.9 275.8L411.4 274.7L407.2 272.8zM421.9 275.8L426.4 274.7L422.2 272.8zM437.5 275.9L442.2 274.8L437.8 272.8zM452.5 275.9L457.3 274.8L452.8 272.8zM465.5 275.5L469.6 274.5L465.8 272.8zM480.2 275.5L484.2 274.5L480.5 272.8zM495.2 275.5L499.2 274.5L495.4 272.8zM510.2 275.5L514.2 274.5L510.4 272.8zM525.1 275.4L529.1 274.5L525.4 272.8zM536.3 274.7L539.0 274.0L536.5 272.8zM549.1 274.2L550.9 273.7L549.2 272.8zM563.8 274.2L565.6 273.7L564.0 272.8zM52.9 270.1L54.0 269.7L53.0 269.1zM67.9 270.1L69.0 269.7L68.0 269.1zM91.7 271.9L96.0 270.9L92.0 269.0zM107.3 272.0L111.9 271.0L107.6 269.0zM120.8 271.7L124.8 270.8L121.1 269.0zM135.7 271.7L139.7 270.8L135.9 269.0zM150.1 271.6L153.9 270.7L150.4 269.0zM164.5 271.5L168.1 270.6L164.8 269.0zM179.1 271.4L182.5 270.5L179.3 269.0zM194.4 271.5L197.9 270.6L194.6 269.0zM210.6 271.7L214.6 270.8L210.9 269.0zM225.8 271.7L229.8 270.8L226.0 269.0zM240.9 271.8L245.0 270.8L241.2 269.0zM256.4 271.9L260.7 270.9L256.7 269.0zM271.0 271.8L275.1 270.8L271.3 269.0zM285.5 271.7L289.5 270.8L285.8 269.0zM300.6 271.7L304.7 270.8L300.9 269.0zM315.8 271.8L319.9 270.8L316.1 269.0zM331.5 271.9L335.9 270.9L331.8 269.0zM347.3 272.1L351.9 271.0L347.6 269.0zM362.4 272.1L367.1 271.0L362.7 269.0zM377.3 272.1L382.0 271.0L377.6 269.0zM392.3 272.1L397.0 271.0L392.6 269.0zM407.3 272.1L412.0 271.0L407.6 269.0zM422.3 272.1L427.0 271.0L422.6 269.0zM437.8 272.2L442.7 271.1L438.1 269.0zM452.8 272.2L457.7 271.1L453.1 269.0zM466.1 271.9L470.4 270.9L466.4 269.0zM480.6 271.8L484.8 270.8L480.9 269.0zM495.6 271.8L499.7 270.8L495.9 269.0zM510.4 271.8L514.5 270.8L510.7 269.0zM525.3 271.7L529.4 270.8L525.6 269.0zM536.3 270.9L538.9 270.2L536.5 269.1zM549.4 270.5L551.3 270.0L549.5 269.1zM564.2 270.5L566.1 269.9L564.3 269.1zM52.9 266.3L54.0 265.9L53.0 265.3zM68.4 266.4L69.7 266.0L68.5 265.3zM92.3 268.3L96.9 267.2L92.6 265.3zM107.3 268.3L111.9 267.2L107.6 265.3zM120.8 268.0L124.9 267.0L121.1 265.3zM135.7 268.0L139.7 267.0L135.9 265.3zM150.3 267.9L154.2 267.0L150.6 265.3zM164.9 267.8L168.6 266.9L165.1 265.3zM179.1 267.6L182.6 266.8L179.4 265.3zM194.7 267.8L198.4 266.9L195.0 265.3zM210.8 268.0L214.9 267.0L211.1 265.3zM225.9 268.0L230.1 267.1L226.2 265.3zM241.3 268.1L245.5 267.1L241.5 265.3zM256.6 268.2L261.0 267.2L256.9 265.3zM271.3 268.1L275.6 267.1L271.6 265.3zM285.6 268.0L289.6 267.0L285.9 265.3zM300.8 268.0L304.9 267.0L301.1 265.3zM316.2 268.1L320.4 267.1L316.4 265.3zM331.9 268.3L336.4 267.2L332.2 265.3zM347.6 268.4L352.4 267.3L348.0 265.3zM362.7 268.4L367.6 267.3L363.0 265.3zM377.7 268.4L382.5 267.3L378.0 265.3zM392.7 268.4L397.5 267.3L393.0 265.3zM407.7 268.4L412.5 267.3L408.0 265.3zM422.7 268.4L427.5 267.3L423.0 265.3zM438.0 268.5L442.9 267.4L438.3 265.3zM453.0 268.5L458.0 267.4L453.3 265.3zM466.6 268.2L471.0 267.2L466.9 265.3zM481.0 268.1L485.3 267.1L481.3 265.3zM496.0 268.1L500.2 267.1L496.2 265.3zM510.6 268.0L514.8 267.1L510.9 265.3zM525.5 268.0L529.6 267.1L525.8 265.3zM536.2 267.1L538.8 266.5L536.4 265.3zM549.7 266.8L551.7 266.3L549.8 265.3zM564.5 266.8L566.6 266.2L564.7 265.3zM52.9 262.6L54.0 262.2L53.0 261.6zM69.0 262.8L70.5 262.3L69.1 261.6zM92.3 264.5L96.9 263.5L92.6 261.5zM107.3 264.5L111.9 263.5L107.6 261.5zM120.9 264.2L124.9 263.3L121.1 261.5zM135.7 264.2L139.7 263.3L136.0 261.5zM150.5 264.2L154.4 263.2L150.8 261.5zM165.3 264.1L169.1 263.2L165.5 261.5zM179.2 263.9L182.7 263.1L179.4 261.5zM195.1 264.1L198.9 263.2L195.3 261.5zM211.1 264.3L215.2 263.3L211.3 261.5zM226.2 264.3L230.4 263.3L226.4 261.5zM241.6 264.4L246.0 263.4L241.9 261.5zM256.9 264.5L261.4 263.4L257.2 261.5zM271.7 264.5L276.1 263.4L272.0 261.5zM285.6 264.2L289.7 263.3L285.9 261.5zM301.0 264.3L305.2 263.3L301.3 261.5zM316.6 264.4L320.9 263.4L316.8 261.5zM332.3 264.6L337.0 263.5L332.6 261.5zM348.1 264.8L353.0 263.6L348.4 261.5zM363.1 264.8L368.1 263.6L363.5 261.5zM378.1 264.8L383.1 263.6L378.5 261.5zM393.1 264.8L398.1 263.6L393.4 261.5zM408.1 264.8L413.1 263.6L408.4 261.5zM423.1 264.8L428.0 263.6L423.4 261.5zM438.2 264.8L443.3 263.7L438.6 261.5zM453.2 264.8L458.3 263.7L453.6 261.5zM467.2 264.6L471.8 263.5L467.5 261.5zM481.5 264.5L485.9 263.4L481.8 261.5zM496.4 264.5L500.8 263.4L496.7 261.5zM510.8 264.3L515.1 263.3L511.1 261.5zM525.7 264.3L529.9 263.3L526.0 261.5zM536.1 263.4L538.7 262.7L536.3 261.6zM550.0 263.1L552.2 262.6L550.2 261.6zM565.0 263.1L567.1 262.6L565.1 261.6zM52.9 258.8L54.0 258.4L53.0 257.8zM69.4 259.1L71.2 258.6L69.6 257.8zM92.3 260.8L96.9 259.7L92.6 257.8zM107.3 260.8L111.9 259.7L107.6 257.8zM120.9 260.5L124.9 259.5L121.2 257.8zM135.7 260.5L139.7 259.5L136.0 257.8zM150.6 260.4L154.6 259.5L150.9 257.8zM165.5 260.4L169.5 259.5L165.8 257.8zM179.2 260.2L182.7 259.3L179.5 257.8zM195.4 260.4L199.3 259.5L195.6 257.8zM211.3 260.6L215.5 259.6L211.5 257.8zM226.3 260.6L230.6 259.6L226.6 257.8zM241.9 260.7L246.4 259.7L242.2 257.8zM257.1 260.8L261.6 259.7L257.4 257.8zM272.0 260.8L276.5 259.7L272.3 257.8zM285.7 260.5L289.8 259.5L286.0 257.8zM301.1 260.6L305.4 259.6L301.4 257.8zM316.9 260.8L321.4 259.7L317.2 257.8zM332.6 260.9L337.4 259.8L332.9 257.8zM348.4 261.1L353.5 259.9L348.7 257.8zM363.5 261.1L368.6 259.9L363.8 257.8zM378.5 261.1L383.6 259.9L378.8 257.8zM393.5 261.1L398.6 259.9L393.8 257.8zM408.5 261.1L413.6 259.9L408.8 257.8zM423.4 261.1L428.5 259.9L423.8 257.8zM438.4 261.1L443.6 259.9L438.8 257.8zM453.4 261.1L458.6 259.9L453.8 257.8zM467.6 261.0L472.5 259.8L468.0 257.8zM481.9 260.8L486.5 259.7L482.2 257.8zM496.8 260.8L501.3 259.7L497.1 257.8zM511.1 260.6L515.4 259.6L511.4 257.8zM525.9 260.6L530.2 259.6L526.2 257.8zM536.0 259.6L538.6 258.9L536.2 257.8zM550.3 259.5L552.6 258.9L550.5 257.8zM565.3 259.5L567.6 258.8L565.4 257.8zM52.9 255.1L54.0 254.7L53.0 254.1zM69.7 255.4L71.5 254.9L69.9 254.1zM92.3 257.0L96.9 256.0L92.6 254.0zM107.3 257.0L111.9 256.0L107.6 254.0zM120.9 256.7L124.9 255.8L121.2 254.0zM135.7 256.7L139.7 255.8L136.0 254.0zM150.5 256.7L154.4 255.7L150.8 254.0zM165.3 256.6L169.1 255.7L165.5 254.0zM179.2 256.4L182.7 255.6L179.4 254.0zM195.4 256.7L199.4 255.7L195.7 254.0zM211.5 256.9L215.8 255.9L211.7 254.0zM226.6 256.9L230.9 255.9L226.8 254.0zM242.0 257.0L246.6 256.0L242.3 254.0zM257.1 257.0L261.7 256.0L257.4 254.0zM272.1 257.0L276.6 256.0L272.4 254.0zM285.9 256.8L290.0 255.8L286.1 254.0zM301.4 256.9L305.7 255.9L301.6 254.0zM317.2 257.1L321.8 256.0L317.5 254.0zM332.7 257.2L337.6 256.1L333.1 254.0zM348.6 257.4L353.7 256.2L348.9 254.0zM363.7 257.4L368.8 256.2L364.0 254.0zM378.6 257.4L383.8 256.2L379.0 254.0zM393.7 257.4L398.9 256.2L394.0 254.0zM408.9 257.4L414.1 256.2L409.2 254.0zM423.9 257.4L429.1 256.2L424.2 254.0zM438.8 257.4L444.0 256.2L439.1 254.0zM453.8 257.4L459.1 256.2L454.1 254.0zM468.0 257.3L473.0 256.1L468.4 254.0zM482.4 257.2L487.2 256.0L482.7 254.0zM497.3 257.1L502.0 256.0L497.6 254.0zM511.4 257.0L515.8 255.9L511.7 254.0zM526.1 256.9L530.5 255.9L526.4 254.0zM536.1 255.9L538.6 255.2L536.2 254.1zM550.4 255.7L552.7 255.1L550.5 254.1zM565.4 255.7L567.7 255.1L565.5 254.1zM52.9 251.3L54.0 250.9L53.0 250.3zM69.4 251.6L71.2 251.1L69.6 250.3zM92.3 253.3L96.9 252.2L92.6 250.3zM107.3 253.3L111.9 252.2L107.6 250.3zM120.9 253.0L124.9 252.0L121.2 250.3zM135.7 253.0L139.7 252.0L135.9 250.3zM150.3 252.9L154.2 252.0L150.6 250.3zM164.9 252.8L168.6 251.9L165.2 250.3zM179.1 252.6L182.6 251.8L179.4 250.3zM195.4 252.9L199.4 252.0L195.7 250.3zM211.6 253.2L216.0 252.1L211.9 250.3zM226.7 253.2L231.1 252.2L227.0 250.3zM242.1 253.3L246.6 252.2L242.4 250.3zM257.1 253.3L261.7 252.2L257.4 250.3zM272.1 253.3L276.6 252.2L272.4 250.3zM286.0 253.1L290.2 252.1L286.3 250.3zM301.5 253.2L305.9 252.1L301.8 250.3zM317.5 253.4L322.2 252.3L317.8 250.3zM332.8 253.4L337.6 252.3L333.1 250.3zM348.7 253.6L353.8 252.4L349.0 250.3zM363.8 253.7L369.0 252.5L364.1 250.3zM378.8 253.7L384.0 252.5L379.1 250.3zM393.9 253.7L399.1 252.5L394.2 250.3zM409.2 253.8L414.6 252.5L409.6 250.3zM424.2 253.8L429.6 252.5L424.6 250.3zM439.1 253.7L444.4 252.5L439.4 250.3zM454.2 253.8L459.5 252.5L454.5 250.3zM468.3 253.6L473.4 252.4L468.7 250.3zM482.8 253.5L487.8 252.4L483.2 250.3zM497.8 253.5L502.7 252.4L498.1 250.3zM511.7 253.3L516.3 252.2L512.0 250.3zM526.3 253.2L530.7 252.2L526.6 250.3zM536.1 252.1L538.6 251.5L536.3 250.3zM550.4 252.0L552.7 251.4L550.5 250.3zM565.4 252.0L567.7 251.4L565.5 250.3zM52.9 247.6L54.0 247.2L53.0 246.6zM68.9 247.8L70.4 247.3L69.0 246.6zM92.3 249.5L96.9 248.5L92.6 246.5zM107.3 249.5L111.9 248.5L107.6 246.5zM120.9 249.2L124.9 248.3L121.2 246.5zM135.7 249.2L139.7 248.3L135.9 246.5zM150.1 249.1L153.9 248.2L150.4 246.5zM164.5 249.0L168.1 248.1L164.8 246.5zM179.1 248.9L182.5 248.0L179.3 246.5zM195.4 249.2L199.4 248.2L195.7 246.5zM211.8 249.5L216.2 248.4L212.1 246.5zM226.9 249.5L231.4 248.4L227.2 246.5zM242.1 249.5L246.6 248.5L242.4 246.5zM257.1 249.5L261.7 248.5L257.4 246.5zM272.1 249.5L276.6 248.5L272.4 246.5zM286.2 249.4L290.5 248.4L286.5 246.5zM301.7 249.5L306.2 248.4L302.0 246.5zM317.8 249.7L322.7 248.6L318.1 246.5zM332.8 249.7L337.7 248.6L333.1 246.5zM348.8 249.9L354.0 248.7L349.1 246.5zM363.9 249.9L369.1 248.7L364.2 246.5zM378.9 249.9L384.1 248.7L379.2 246.5zM394.1 250.0L399.4 248.8L394.4 246.5zM409.6 250.1L415.1 248.8L410.0 246.5zM424.6 250.1L430.2 248.8L425.0 246.5zM439.4 250.1L444.9 248.8L439.8 246.5zM454.6 250.1L460.1 248.8L454.9 246.5zM468.7 249.9L473.9 248.7L469.0 246.5zM483.4 249.9L488.5 248.7L483.7 246.5zM498.3 249.9L503.4 248.7L498.6 246.5zM512.1 249.6L516.7 248.5L512.4 246.5zM526.5 249.5L531.0 248.4L526.8 246.5zM536.1 248.4L538.6 247.7L536.3 246.6zM550.4 248.2L552.7 247.6L550.5 246.6zM565.4 248.2L567.7 247.6L565.5 246.6zM52.9 243.8L54.0 243.4L53.0 242.8zM68.4 243.9L69.7 243.5L68.5 242.8zM92.3 245.8L96.9 244.7L92.6 242.8zM107.3 245.8L111.9 244.7L107.6 242.8zM120.9 245.5L124.9 244.5L121.2 242.8zM135.7 245.5L139.7 244.5L135.9 242.8zM150.0 245.3L153.7 244.4L150.2 242.8zM164.2 245.2L167.7 244.3L164.5 242.8zM179.1 245.1L182.5 244.3L179.3 242.8zM195.4 245.4L199.4 244.5L195.7 242.8zM212.0 245.7L216.4 244.7L212.3 242.8zM227.1 245.8L231.6 244.7L227.4 242.8zM242.1 245.8L246.7 244.7L242.4 242.8zM257.1 245.8L261.7 244.7L257.4 242.8zM272.1 245.8L276.6 244.7L272.4 242.8zM286.3 245.6L290.6 244.6L286.6 242.8zM301.9 245.8L306.4 244.7L302.2 242.8zM318.1 246.0L323.0 244.9L318.4 242.8zM332.9 246.0L337.7 244.8L333.2 242.8zM348.9 246.2L354.1 245.0L349.2 242.8zM364.0 246.2L369.3 245.0L364.3 242.8zM379.0 246.2L384.3 245.0L379.3 242.8zM394.2 246.3L399.6 245.0L394.6 242.8zM409.9 246.4L415.5 245.1L410.3 242.8zM425.0 246.4L430.6 245.1L425.3 242.8zM439.7 246.4L445.2 245.1L440.0 242.8zM454.9 246.4L460.5 245.1L455.3 242.8zM468.9 246.2L474.3 245.0L469.3 242.8zM483.8 246.2L489.0 245.0L484.1 242.8zM498.7 246.2L504.0 245.0L499.1 242.8zM512.4 245.9L517.1 244.8L512.7 242.8zM526.7 245.8L531.3 244.7L527.0 242.8zM536.1 244.6L538.7 244.0L536.3 242.8zM550.4 244.5L552.7 243.9L550.5 242.8zM565.4 244.5L567.7 243.9L565.5 242.8zM52.9 240.1L54.0 239.7L53.0 239.1zM67.9 240.1L69.0 239.7L68.0 239.1zM92.3 242.0L96.8 241.0L92.6 239.0zM107.3 242.0L111.9 241.0L107.6 239.0zM120.9 241.7L124.9 240.8L121.2 239.0zM135.7 241.7L139.7 240.8L135.9 239.0zM150.0 241.6L153.7 240.7L150.2 239.0zM164.2 241.4L167.6 240.6L164.4 239.0zM179.1 241.4L182.5 240.5L179.3 239.0zM195.4 241.7L199.4 240.7L195.7 239.0zM212.0 242.0L216.5 240.9L212.3 239.0zM227.1 242.0L231.7 241.0L227.4 239.0zM242.1 242.0L246.7 241.0L242.4 239.0zM257.1 242.0L261.7 241.0L257.4 239.0zM272.1 242.0L276.6 241.0L272.4 239.0zM286.4 241.9L290.7 240.9L286.7 239.0zM301.9 242.0L306.5 241.0L302.2 239.0zM318.1 242.3L323.1 241.1L318.4 239.0zM332.9 242.2L337.7 241.1L333.2 239.0zM348.9 242.4L354.1 241.2L349.2 239.0zM364.0 242.5L369.3 241.2L364.4 239.0zM379.0 242.5L384.3 241.2L379.3 239.0zM394.3 242.5L399.6 241.3L394.6 239.0zM410.0 242.7L415.6 241.4L410.3 239.0zM425.0 242.7L430.7 241.4L425.4 239.0zM439.7 242.6L445.3 241.4L440.1 239.0zM455.0 242.7L460.6 241.4L455.3 239.0zM469.0 242.5L474.3 241.3L469.4 239.0zM483.9 242.5L489.1 241.2L484.2 239.0zM498.8 242.5L504.1 241.2L499.2 239.0zM512.4 242.2L517.2 241.1L512.7 239.0zM526.8 242.0L531.3 241.0L527.1 239.0zM536.1 240.9L538.7 240.2L536.3 239.1zM550.4 240.7L552.7 240.1L550.5 239.1zM565.4 240.7L567.7 240.1L565.5 239.1z"/>
</g>
<rect x="291.8" y="264.8" width="221.1" height="120.6" fill="none" stroke="#000" stroke-width="1.7"/>
<circle cx="411.0" cy="324.5" r="6.5" fill="#000"/>
<rect x="45" y="235.2" width="521.5" height="179.0" fill="none" stroke="#4a4a4a" stroke-width="1.5"/>
<path stroke="#222" stroke-width="1" d="M111.4 414.2v-4M186.3 414.2v-4M261.2 414.2v-4M336.1 414.2v-4M411.0 414.2v-4M485.9 414.2v-4M560.8 414.2v-4M45.5 385.0h4M45.5 355.0h4M45.5 325.0h4M45.5 295.0h4M45.5 265.0h4"/>
<text x="39.5" y="389.5" text-anchor="end" class="t">-4</text>
<text x="39.5" y="359.5" text-anchor="end" class="t">-2</text>
<text x="39.5" y="329.5" text-anchor="end" class="t">0</text>
<text x="39.5" y="299.5" text-anchor="end" class="t">2</text>
<text x="39.5" y="269.5" text-anchor="end" class="t">4</text>
<rect x="240.3" y="1" width="9.55" height="20" fill="#0000f5"/>
<rect x="249.8" y="1" width="18.35" height="20" fill="#005af0"/>
<rect x="268.1" y="1" width="18.35" height="20" fill="#00bcee"/>
<rect x="286.4" y="1" width="18.35" height="20" fill="#00f0e0"/>
<rect x="304.7" y="1" width="18.35" height="20" fill="#00cc96"/>
<rect x="323.0" y="1" width="18.35" height="20" fill="#06a032"/>
<rect x="341.3" y="1" width="18.35" height="20" fill="#34a000"/>
<rect x="359.6" y="1" width="18.35" height="20" fill="#94cc00"/>
<rect x="377.9" y="1" width="18.35" height="20" fill="#eaf400"/>
<rect x="396.2" y="1" width="18.35" height="20" fill="#ffb400"/>
<rect x="414.5" y="1" width="18.35" height="20" fill="#ff5e00"/>
<rect x="432.8" y="1" width="9.95" height="20" fill="#fa0000"/>
<text x="249.8" y="38" text-anchor="middle" class="t">1</text>
<text x="268.1" y="38" text-anchor="middle" class="t">2</text>
<text x="286.4" y="38" text-anchor="middle" class="t">3</text>
<text x="304.7" y="38" text-anchor="middle" class="t">4</text>
<text x="323.0" y="38" text-anchor="middle" class="t">5</text>
<text x="341.3" y="38" text-anchor="middle" class="t">6</text>
<text x="359.6" y="38" text-anchor="middle" class="t">7</text>
<text x="377.9" y="38" text-anchor="middle" class="t">8</text>
<text x="396.2" y="38" text-anchor="middle" class="t">9</text>
<text x="414.5" y="38" text-anchor="middle" class="t">10</text>
<text x="432.8" y="38" text-anchor="middle" class="t">11</text>
<text x="179.3" y="16.6" class="u">U [ms<tspan dy="-5" font-size="9">-1</tspan><tspan dy="5">]</tspan></text>
<text x="111.4" y="430.3" text-anchor="middle" class="t">-10</text>
<text x="186.3" y="430.3" text-anchor="middle" class="t">-5</text>
<text x="261.2" y="430.3" text-anchor="middle" class="t">0</text>
<text x="336.1" y="430.3" text-anchor="middle" class="t">5</text>
<text x="411.0" y="430.3" text-anchor="middle" class="t">10</text>
<text x="485.9" y="430.3" text-anchor="middle" class="t">15</text>
<text x="560.8" y="430.3" text-anchor="middle" class="t">20</text>
<text x="288.5" y="453" text-anchor="middle" class="ax">X [mm]</text>
<text transform="translate(12.8 135) rotate(-90)" text-anchor="middle" class="ax">Y [mm]</text>
<text transform="translate(12.8 327) rotate(-90)" text-anchor="middle" class="ax">Y [mm]</text>
</svg></body></html>
